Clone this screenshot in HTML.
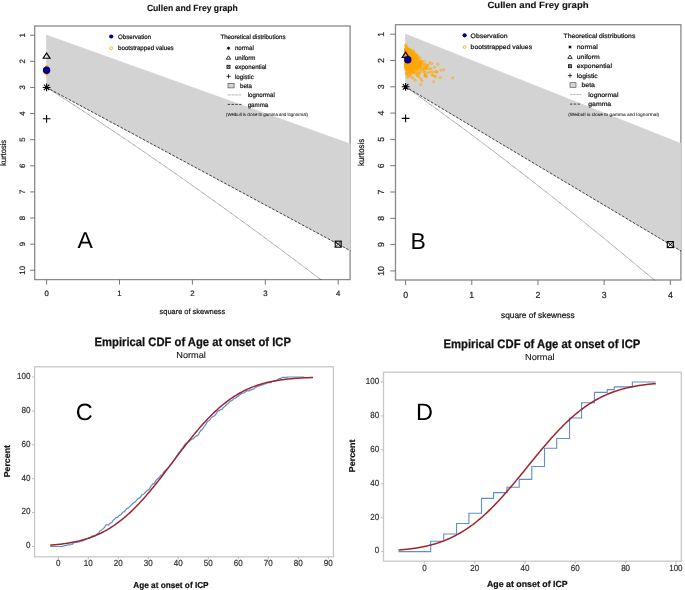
<!DOCTYPE html>
<html><head><meta charset="utf-8"><style>html,body{margin:0;padding:0;background:#fff}svg{display:block;will-change:transform}text{font-family:"Liberation Sans",sans-serif;text-rendering:geometricPrecision}</style></head>
<body><svg width="685" height="590" viewBox="0 0 685 590">
<rect width="685" height="590" fill="#fff"/>
<clipPath id="ca"><rect x="34.2" y="25.5" width="316.40000000000003" height="254.60000000000002"/></clipPath>
<rect x="34.7" y="26.0" width="315.40000000000003" height="253.60000000000002" fill="none" stroke="#8a8a8a" stroke-width="1.3"/>
<g clip-path="url(#ca)">
<polygon points="46.60,35.20 364.68,149.17 364.68,258.39 46.60,87.44" fill="#d3d3d3" stroke="#d3d3d3" stroke-width="0.8"/>
<line x1="46.60" y1="87.44" x2="364.68" y2="258.39" stroke="#000" stroke-width="0.7" stroke-dasharray="2.6,1.6"/>
<polyline points="46.60,87.44 47.92,88.28 49.24,89.12 50.57,89.97 51.89,90.82 53.23,91.67 54.56,92.53 55.90,93.39 57.25,94.25 58.59,95.12 59.94,95.99 61.30,96.86 62.65,97.73 64.01,98.61 65.38,99.49 66.75,100.38 68.12,101.27 69.49,102.16 70.87,103.05 72.26,103.95 73.64,104.85 75.03,105.76 76.42,106.67 77.82,107.58 79.22,108.49 80.62,109.41 82.03,110.33 83.44,111.26 84.86,112.19 86.28,113.12 87.70,114.05 89.12,114.99 90.55,115.93 91.99,116.88 93.42,117.83 94.86,118.78 96.31,119.74 97.75,120.69 99.21,121.66 100.66,122.62 102.12,123.59 103.58,124.56 105.05,125.54 106.52,126.52 107.99,127.50 109.47,128.49 110.95,129.48 112.43,130.47 113.92,131.47 115.41,132.47 116.91,133.48 118.41,134.48 119.91,135.50 121.41,136.51 122.92,137.53 124.44,138.55 125.96,139.58 127.48,140.61 129.00,141.64 130.53,142.68 132.06,143.72 133.60,144.76 135.14,145.81 136.68,146.86 138.23,147.91 139.78,148.97 141.34,150.03 142.90,151.10 144.46,152.17 146.02,153.24 147.59,154.32 149.17,155.40 150.74,156.48 152.33,157.57 153.91,158.66 155.50,159.76 157.09,160.86 158.69,161.96 160.29,163.07 161.89,164.18 163.50,165.29 165.11,166.41 166.73,167.53 168.35,168.66 169.97,169.79 171.60,170.92 173.23,172.06 174.86,173.20 176.50,174.35 178.14,175.49 179.79,176.65 181.44,177.80 183.09,178.96 184.75,180.13 186.41,181.30 188.08,182.47 189.75,183.65 191.42,184.83 193.10,186.01 194.78,187.20 196.46,188.39 198.15,189.59 199.84,190.78 201.54,191.99 203.24,193.20 204.94,194.41 206.65,195.62 208.36,196.84 210.08,198.07 211.80,199.30 213.52,200.53 215.25,201.76 216.98,203.00 218.71,204.25 220.45,205.50 222.20,206.75 223.94,208.00 225.70,209.27 227.45,210.53 229.21,211.80 230.97,213.07 232.74,214.35 234.51,215.63 236.28,216.91 238.06,218.20 239.84,219.50 241.63,220.80 243.42,222.10 245.22,223.40 247.01,224.71 248.82,226.03 250.62,227.35 252.43,228.67 254.25,230.00 256.07,231.33 257.89,232.67 259.72,234.01 261.55,235.35 263.38,236.70 265.22,238.05 267.06,239.41 268.91,240.77 270.76,242.14 272.61,243.51 274.47,244.88 276.33,246.26 278.20,247.64 280.07,249.03 281.94,250.42 283.82,251.82 285.71,253.22 287.59,254.63 289.48,256.04 291.38,257.45 293.28,258.87 295.18,260.29 297.09,261.72 299.00,263.15 300.91,264.59 302.83,266.03 304.76,267.48 306.68,268.93 308.62,270.38 310.55,271.84 312.49,273.30 314.44,274.77 316.38,276.24 318.34,277.72 320.29,279.20 322.25,280.69 324.22,282.18 326.18,283.67 328.16,285.17 330.13,286.68 332.12,288.19 334.10,289.70 336.09,291.22 338.08,292.74 340.08,294.27 342.08,295.80 344.09,297.34 346.10,298.88 348.11,300.43 350.13,301.98 352.15,303.54 354.18,305.10 356.21,306.66 358.25,308.23 360.29,309.81 362.33,311.39 364.38,312.97 366.43,314.56 368.48,316.16 370.54,317.76 372.61,319.36 374.68,320.97 376.75,322.58 378.83,324.20 380.91,325.82 382.99,327.45 385.08,329.08 387.18,330.72 389.28,332.36 391.38,334.01 393.48,335.66 395.60,337.32 397.71,338.98 399.83,340.65 401.95,342.32 404.08,344.00 406.21,345.68 408.35,347.37 410.49,349.06 412.64,350.76 414.78,352.46 416.94,354.17 419.10,355.88 421.26,357.60 423.42,359.32 425.59,361.04 427.77,362.78 429.95,364.51 432.13,366.26 434.32,368.00 436.51,369.76 438.71,371.51 440.91,373.28 443.12,375.05 445.32,376.82 447.54,378.60 449.76,380.38 451.98,382.17 454.21,383.96 456.44,385.76 458.67,387.57 460.91,389.37 463.16,391.19 465.40,393.01 467.66,394.83 469.92,396.66 472.18,398.50 474.44,400.34 476.71,402.19 478.99,404.04 481.27,405.89 483.55,407.76 485.84,409.62 488.13,411.50 490.43,413.37 492.73,415.26 495.03,417.15 497.34,419.04 499.66,420.94 501.98,422.85 504.30,424.76 506.63,426.67 508.96,428.59 511.30,430.52 513.64,432.45 515.98,434.39 518.33,436.33 520.69,438.28 523.04,440.23 525.41,442.19 527.78,444.16 530.15,446.13 532.52,448.10 534.90,450.09 537.29,452.07 539.68,454.06 542.07,456.06 544.47,458.07 546.88,460.08 549.28,462.09 551.70,464.11 554.11,466.14 556.53,468.17 558.96,470.21 561.39,472.25 563.82,474.30 566.26,476.35 568.71,478.41 571.16,480.48 573.61,482.55 576.07,484.63 578.53,486.71 580.99,488.80 583.46,490.89 585.94,492.99 588.42,495.10 590.90,497.21 593.39,499.33 595.89,501.45 598.39,503.58 600.89,505.71 603.40,507.86 605.91,510.00 608.42,512.15 610.94,514.31 613.47,516.48" fill="none" stroke="#000" stroke-width="0.6" stroke-dasharray="0.9,0.6" opacity="0.85"/>
<circle cx="46.95" cy="72.90" r="1.05" fill="none" stroke="#ffa500" stroke-width="0.75"/>
<circle cx="47.18" cy="68.46" r="1.05" fill="none" stroke="#ffa500" stroke-width="0.75"/>
<circle cx="46.71" cy="70.57" r="1.05" fill="none" stroke="#ffa500" stroke-width="0.75"/>
<circle cx="46.78" cy="69.76" r="1.05" fill="none" stroke="#ffa500" stroke-width="0.75"/>
<circle cx="47.10" cy="68.68" r="1.05" fill="none" stroke="#ffa500" stroke-width="0.75"/>
<circle cx="46.65" cy="68.73" r="1.05" fill="none" stroke="#ffa500" stroke-width="0.75"/>
<circle cx="46.84" cy="70.18" r="1.05" fill="none" stroke="#ffa500" stroke-width="0.75"/>
<circle cx="46.94" cy="70.82" r="1.05" fill="none" stroke="#ffa500" stroke-width="0.75"/>
<circle cx="46.93" cy="69.44" r="1.05" fill="none" stroke="#ffa500" stroke-width="0.75"/>
<circle cx="47.32" cy="70.28" r="1.05" fill="none" stroke="#ffa500" stroke-width="0.75"/>
<circle cx="46.72" cy="71.24" r="1.05" fill="none" stroke="#ffa500" stroke-width="0.75"/>
<circle cx="47.14" cy="70.63" r="1.05" fill="none" stroke="#ffa500" stroke-width="0.75"/>
<circle cx="47.02" cy="71.45" r="1.05" fill="none" stroke="#ffa500" stroke-width="0.75"/>
<circle cx="47.30" cy="70.86" r="1.05" fill="none" stroke="#ffa500" stroke-width="0.75"/>
<circle cx="46.69" cy="70.90" r="1.05" fill="none" stroke="#ffa500" stroke-width="0.75"/>
<circle cx="47.36" cy="72.82" r="1.05" fill="none" stroke="#ffa500" stroke-width="0.75"/>
<circle cx="46.64" cy="71.10" r="1.05" fill="none" stroke="#ffa500" stroke-width="0.75"/>
<circle cx="47.11" cy="70.39" r="1.05" fill="none" stroke="#ffa500" stroke-width="0.75"/>
<circle cx="46.88" cy="71.22" r="1.05" fill="none" stroke="#ffa500" stroke-width="0.75"/>
<circle cx="46.81" cy="68.88" r="1.05" fill="none" stroke="#ffa500" stroke-width="0.75"/>
<circle cx="46.91" cy="69.72" r="1.05" fill="none" stroke="#ffa500" stroke-width="0.75"/>
<circle cx="46.84" cy="71.34" r="1.05" fill="none" stroke="#ffa500" stroke-width="0.75"/>
<circle cx="46.63" cy="71.11" r="1.05" fill="none" stroke="#ffa500" stroke-width="0.75"/>
<circle cx="46.86" cy="72.43" r="1.05" fill="none" stroke="#ffa500" stroke-width="0.75"/>
<circle cx="46.78" cy="70.22" r="1.05" fill="none" stroke="#ffa500" stroke-width="0.75"/>
<circle cx="46.96" cy="68.10" r="1.05" fill="none" stroke="#ffa500" stroke-width="0.75"/>
<circle cx="47.32" cy="73.00" r="1.05" fill="none" stroke="#ffa500" stroke-width="0.75"/>
<circle cx="46.71" cy="71.77" r="1.05" fill="none" stroke="#ffa500" stroke-width="0.75"/>
<circle cx="47.03" cy="68.68" r="1.05" fill="none" stroke="#ffa500" stroke-width="0.75"/>
<circle cx="46.68" cy="72.18" r="1.05" fill="none" stroke="#ffa500" stroke-width="0.75"/>
<circle cx="47.16" cy="70.25" r="1.05" fill="none" stroke="#ffa500" stroke-width="0.75"/>
<circle cx="46.61" cy="67.59" r="1.05" fill="none" stroke="#ffa500" stroke-width="0.75"/>
<circle cx="46.62" cy="69.60" r="1.05" fill="none" stroke="#ffa500" stroke-width="0.75"/>
<circle cx="46.73" cy="69.47" r="1.05" fill="none" stroke="#ffa500" stroke-width="0.75"/>
<circle cx="47.06" cy="72.49" r="1.05" fill="none" stroke="#ffa500" stroke-width="0.75"/>
<circle cx="46.77" cy="69.06" r="1.05" fill="none" stroke="#ffa500" stroke-width="0.75"/>
<circle cx="47.08" cy="69.84" r="1.05" fill="none" stroke="#ffa500" stroke-width="0.75"/>
<circle cx="47.19" cy="69.80" r="1.05" fill="none" stroke="#ffa500" stroke-width="0.75"/>
<circle cx="46.70" cy="69.66" r="1.05" fill="none" stroke="#ffa500" stroke-width="0.75"/>
<circle cx="47.09" cy="68.89" r="1.05" fill="none" stroke="#ffa500" stroke-width="0.75"/>
<circle cx="47.11" cy="70.52" r="1.05" fill="none" stroke="#ffa500" stroke-width="0.75"/>
<circle cx="46.91" cy="71.75" r="1.05" fill="none" stroke="#ffa500" stroke-width="0.75"/>
<circle cx="47.47" cy="71.10" r="1.05" fill="none" stroke="#ffa500" stroke-width="0.75"/>
<circle cx="46.72" cy="68.87" r="1.05" fill="none" stroke="#ffa500" stroke-width="0.75"/>
<circle cx="47.08" cy="68.55" r="1.05" fill="none" stroke="#ffa500" stroke-width="0.75"/>
<circle cx="46.61" cy="70.37" r="1.05" fill="none" stroke="#ffa500" stroke-width="0.75"/>
<circle cx="46.62" cy="69.19" r="1.05" fill="none" stroke="#ffa500" stroke-width="0.75"/>
<circle cx="47.47" cy="69.30" r="1.05" fill="none" stroke="#ffa500" stroke-width="0.75"/>
<circle cx="46.70" cy="67.79" r="1.05" fill="none" stroke="#ffa500" stroke-width="0.75"/>
<circle cx="46.71" cy="73.00" r="1.05" fill="none" stroke="#ffa500" stroke-width="0.75"/>
<circle cx="47.02" cy="71.52" r="1.05" fill="none" stroke="#ffa500" stroke-width="0.75"/>
<circle cx="47.12" cy="68.80" r="1.05" fill="none" stroke="#ffa500" stroke-width="0.75"/>
<circle cx="46.92" cy="71.51" r="1.05" fill="none" stroke="#ffa500" stroke-width="0.75"/>
<circle cx="47.08" cy="72.13" r="1.05" fill="none" stroke="#ffa500" stroke-width="0.75"/>
<circle cx="46.74" cy="66.77" r="1.05" fill="none" stroke="#ffa500" stroke-width="0.75"/>
<circle cx="46.97" cy="69.41" r="1.05" fill="none" stroke="#ffa500" stroke-width="0.75"/>
<circle cx="47.23" cy="69.64" r="1.05" fill="none" stroke="#ffa500" stroke-width="0.75"/>
<circle cx="46.85" cy="71.13" r="1.05" fill="none" stroke="#ffa500" stroke-width="0.75"/>
<circle cx="47.66" cy="70.03" r="1.05" fill="none" stroke="#ffa500" stroke-width="0.75"/>
<circle cx="46.88" cy="69.87" r="1.05" fill="none" stroke="#ffa500" stroke-width="0.75"/>
<circle cx="46.97" cy="70.12" r="1.05" fill="none" stroke="#ffa500" stroke-width="0.75"/>
<circle cx="46.97" cy="72.86" r="1.05" fill="none" stroke="#ffa500" stroke-width="0.75"/>
<circle cx="46.87" cy="73.30" r="1.05" fill="none" stroke="#ffa500" stroke-width="0.75"/>
<circle cx="46.63" cy="69.45" r="1.05" fill="none" stroke="#ffa500" stroke-width="0.75"/>
<circle cx="47.19" cy="68.87" r="1.05" fill="none" stroke="#ffa500" stroke-width="0.75"/>
<circle cx="46.77" cy="74.07" r="1.05" fill="none" stroke="#ffa500" stroke-width="0.75"/>
<circle cx="46.68" cy="68.79" r="1.05" fill="none" stroke="#ffa500" stroke-width="0.75"/>
<circle cx="46.61" cy="69.38" r="1.05" fill="none" stroke="#ffa500" stroke-width="0.75"/>
<circle cx="46.87" cy="70.25" r="1.05" fill="none" stroke="#ffa500" stroke-width="0.75"/>
<circle cx="46.76" cy="70.90" r="1.05" fill="none" stroke="#ffa500" stroke-width="0.75"/>
<circle cx="46.67" cy="71.68" r="1.05" fill="none" stroke="#ffa500" stroke-width="0.75"/>
<circle cx="46.71" cy="70.76" r="1.05" fill="none" stroke="#ffa500" stroke-width="0.75"/>
<circle cx="46.65" cy="68.95" r="1.05" fill="none" stroke="#ffa500" stroke-width="0.75"/>
<circle cx="46.98" cy="70.93" r="1.05" fill="none" stroke="#ffa500" stroke-width="0.75"/>
<circle cx="46.99" cy="70.56" r="1.05" fill="none" stroke="#ffa500" stroke-width="0.75"/>
<circle cx="47.17" cy="72.90" r="1.05" fill="none" stroke="#ffa500" stroke-width="0.75"/>
<circle cx="47.13" cy="70.18" r="1.05" fill="none" stroke="#ffa500" stroke-width="0.75"/>
<circle cx="47.16" cy="68.28" r="1.05" fill="none" stroke="#ffa500" stroke-width="0.75"/>
<circle cx="47.02" cy="68.70" r="1.05" fill="none" stroke="#ffa500" stroke-width="0.75"/>
<circle cx="46.76" cy="72.28" r="1.05" fill="none" stroke="#ffa500" stroke-width="0.75"/>
<circle cx="47.02" cy="69.42" r="1.05" fill="none" stroke="#ffa500" stroke-width="0.75"/>
<circle cx="47.10" cy="67.18" r="1.05" fill="none" stroke="#ffa500" stroke-width="0.75"/>
<circle cx="46.78" cy="69.37" r="1.05" fill="none" stroke="#ffa500" stroke-width="0.75"/>
<circle cx="47.06" cy="70.20" r="1.05" fill="none" stroke="#ffa500" stroke-width="0.75"/>
<circle cx="47.16" cy="71.91" r="1.05" fill="none" stroke="#ffa500" stroke-width="0.75"/>
<circle cx="46.87" cy="68.74" r="1.05" fill="none" stroke="#ffa500" stroke-width="0.75"/>
<circle cx="47.12" cy="71.16" r="1.05" fill="none" stroke="#ffa500" stroke-width="0.75"/>
<circle cx="46.74" cy="71.34" r="1.05" fill="none" stroke="#ffa500" stroke-width="0.75"/>
<circle cx="46.60" cy="69.20" r="1.05" fill="none" stroke="#ffa500" stroke-width="0.75"/>
<circle cx="46.79" cy="69.93" r="1.05" fill="none" stroke="#ffa500" stroke-width="0.75"/>
<circle cx="46.62" cy="72.74" r="1.05" fill="none" stroke="#ffa500" stroke-width="0.75"/>
<circle cx="47.19" cy="72.67" r="1.05" fill="none" stroke="#ffa500" stroke-width="0.75"/>
<circle cx="46.83" cy="71.43" r="1.05" fill="none" stroke="#ffa500" stroke-width="0.75"/>
<circle cx="47.15" cy="70.68" r="1.05" fill="none" stroke="#ffa500" stroke-width="0.75"/>
<circle cx="47.40" cy="71.84" r="1.05" fill="none" stroke="#ffa500" stroke-width="0.75"/>
<circle cx="46.69" cy="70.00" r="1.05" fill="none" stroke="#ffa500" stroke-width="0.75"/>
<circle cx="46.75" cy="70.06" r="1.05" fill="none" stroke="#ffa500" stroke-width="0.75"/>
<circle cx="46.72" cy="68.96" r="1.05" fill="none" stroke="#ffa500" stroke-width="0.75"/>
<circle cx="46.80" cy="70.21" r="1.05" fill="none" stroke="#ffa500" stroke-width="0.75"/>
<circle cx="46.81" cy="70.08" r="1.05" fill="none" stroke="#ffa500" stroke-width="0.75"/>
<circle cx="46.92" cy="74.19" r="1.05" fill="none" stroke="#ffa500" stroke-width="0.75"/>
<circle cx="46.83" cy="69.92" r="1.05" fill="none" stroke="#ffa500" stroke-width="0.75"/>
<circle cx="46.67" cy="72.03" r="1.05" fill="none" stroke="#ffa500" stroke-width="0.75"/>
<circle cx="46.77" cy="72.10" r="1.05" fill="none" stroke="#ffa500" stroke-width="0.75"/>
<circle cx="46.64" cy="69.93" r="1.05" fill="none" stroke="#ffa500" stroke-width="0.75"/>
<circle cx="47.43" cy="71.88" r="1.05" fill="none" stroke="#ffa500" stroke-width="0.75"/>
<circle cx="46.81" cy="67.07" r="1.05" fill="none" stroke="#ffa500" stroke-width="0.75"/>
<circle cx="47.29" cy="70.34" r="1.05" fill="none" stroke="#ffa500" stroke-width="0.75"/>
<circle cx="47.36" cy="71.43" r="1.05" fill="none" stroke="#ffa500" stroke-width="0.75"/>
<circle cx="46.75" cy="66.76" r="1.05" fill="none" stroke="#ffa500" stroke-width="0.75"/>
<circle cx="47.01" cy="68.54" r="1.05" fill="none" stroke="#ffa500" stroke-width="0.75"/>
<circle cx="47.00" cy="71.72" r="1.05" fill="none" stroke="#ffa500" stroke-width="0.75"/>
<circle cx="46.61" cy="69.83" r="1.05" fill="none" stroke="#ffa500" stroke-width="0.75"/>
<circle cx="46.87" cy="68.62" r="1.05" fill="none" stroke="#ffa500" stroke-width="0.75"/>
<circle cx="46.88" cy="69.66" r="1.05" fill="none" stroke="#ffa500" stroke-width="0.75"/>
<circle cx="47.03" cy="69.42" r="1.05" fill="none" stroke="#ffa500" stroke-width="0.75"/>
<circle cx="46.62" cy="71.24" r="1.05" fill="none" stroke="#ffa500" stroke-width="0.75"/>
<circle cx="47.07" cy="70.85" r="1.05" fill="none" stroke="#ffa500" stroke-width="0.75"/>
<circle cx="46.74" cy="69.80" r="1.05" fill="none" stroke="#ffa500" stroke-width="0.75"/>
<circle cx="46.78" cy="69.24" r="1.05" fill="none" stroke="#ffa500" stroke-width="0.75"/>
</g>
<polygon points="43.20,58.24 50.00,58.24 46.60,53.04" fill="none" stroke="#000" stroke-width="1.2"/>
<circle cx="46.60" cy="70.20" r="3.7" fill="#00008b"/>
<path d="M42.70,87.44L50.50,87.44M43.84,84.68L49.36,90.20M46.60,83.54L46.60,91.34M49.36,84.68L43.84,90.20" stroke="#000" stroke-width="1.1" fill="none"/>
<circle cx="46.60" cy="87.44" r="1.3" fill="#000"/>
<path d="M42.70,118.78H50.50M46.60,114.88V122.68" stroke="#000" stroke-width="1.05"/>
<rect x="335.20" y="241.16" width="6.0" height="6.0" fill="none" stroke="#000" stroke-width="1.1"/><path d="M335.20,241.16L341.20,247.16M341.20,241.16L335.20,247.16" stroke="#000" stroke-width="0.8250000000000001"/>
<line x1="30.1" y1="35.20" x2="34.7" y2="35.20" stroke="#6a6a6a" stroke-width="0.9"/>
<text x="21.90" y="35.20" dy="0.35em" transform="rotate(-90 21.90 35.20)" text-anchor="middle" font-size="7.8" textLength="4.34" lengthAdjust="spacingAndGlyphs" fill="#222" stroke="#222" stroke-width="0.2">1</text>
<line x1="30.1" y1="61.32" x2="34.7" y2="61.32" stroke="#6a6a6a" stroke-width="0.9"/>
<text x="21.90" y="61.32" dy="0.35em" transform="rotate(-90 21.90 61.32)" text-anchor="middle" font-size="7.8" textLength="4.34" lengthAdjust="spacingAndGlyphs" fill="#222" stroke="#222" stroke-width="0.2">2</text>
<line x1="30.1" y1="87.44" x2="34.7" y2="87.44" stroke="#6a6a6a" stroke-width="0.9"/>
<text x="21.90" y="87.44" dy="0.35em" transform="rotate(-90 21.90 87.44)" text-anchor="middle" font-size="7.8" textLength="4.34" lengthAdjust="spacingAndGlyphs" fill="#222" stroke="#222" stroke-width="0.2">3</text>
<line x1="30.1" y1="113.56" x2="34.7" y2="113.56" stroke="#6a6a6a" stroke-width="0.9"/>
<text x="21.90" y="113.56" dy="0.35em" transform="rotate(-90 21.90 113.56)" text-anchor="middle" font-size="7.8" textLength="4.34" lengthAdjust="spacingAndGlyphs" fill="#222" stroke="#222" stroke-width="0.2">4</text>
<line x1="30.1" y1="139.68" x2="34.7" y2="139.68" stroke="#6a6a6a" stroke-width="0.9"/>
<text x="21.90" y="139.68" dy="0.35em" transform="rotate(-90 21.90 139.68)" text-anchor="middle" font-size="7.8" textLength="4.34" lengthAdjust="spacingAndGlyphs" fill="#222" stroke="#222" stroke-width="0.2">5</text>
<line x1="30.1" y1="165.80" x2="34.7" y2="165.80" stroke="#6a6a6a" stroke-width="0.9"/>
<text x="21.90" y="165.80" dy="0.35em" transform="rotate(-90 21.90 165.80)" text-anchor="middle" font-size="7.8" textLength="4.34" lengthAdjust="spacingAndGlyphs" fill="#222" stroke="#222" stroke-width="0.2">6</text>
<line x1="30.1" y1="191.92" x2="34.7" y2="191.92" stroke="#6a6a6a" stroke-width="0.9"/>
<text x="21.90" y="191.92" dy="0.35em" transform="rotate(-90 21.90 191.92)" text-anchor="middle" font-size="7.8" textLength="4.34" lengthAdjust="spacingAndGlyphs" fill="#222" stroke="#222" stroke-width="0.2">7</text>
<line x1="30.1" y1="218.04" x2="34.7" y2="218.04" stroke="#6a6a6a" stroke-width="0.9"/>
<text x="21.90" y="218.04" dy="0.35em" transform="rotate(-90 21.90 218.04)" text-anchor="middle" font-size="7.8" textLength="4.34" lengthAdjust="spacingAndGlyphs" fill="#222" stroke="#222" stroke-width="0.2">8</text>
<line x1="30.1" y1="244.16" x2="34.7" y2="244.16" stroke="#6a6a6a" stroke-width="0.9"/>
<text x="21.90" y="244.16" dy="0.35em" transform="rotate(-90 21.90 244.16)" text-anchor="middle" font-size="7.8" textLength="4.34" lengthAdjust="spacingAndGlyphs" fill="#222" stroke="#222" stroke-width="0.2">9</text>
<line x1="30.1" y1="270.28" x2="34.7" y2="270.28" stroke="#6a6a6a" stroke-width="0.9"/>
<text x="21.90" y="270.28" dy="0.35em" transform="rotate(-90 21.90 270.28)" text-anchor="middle" font-size="7.8" textLength="8.68" lengthAdjust="spacingAndGlyphs" fill="#222" stroke="#222" stroke-width="0.2">10</text>
<line x1="46.60" y1="279.6" x2="46.60" y2="284.6" stroke="#6a6a6a" stroke-width="0.9"/>
<text x="46.60" y="293.70" dy="0.35em" text-anchor="middle" font-size="7.8" textLength="4.34" lengthAdjust="spacingAndGlyphs" fill="#222" stroke="#222" stroke-width="0.2">0</text>
<line x1="119.50" y1="279.6" x2="119.50" y2="284.6" stroke="#6a6a6a" stroke-width="0.9"/>
<text x="119.50" y="293.70" dy="0.35em" text-anchor="middle" font-size="7.8" textLength="4.34" lengthAdjust="spacingAndGlyphs" fill="#222" stroke="#222" stroke-width="0.2">1</text>
<line x1="192.40" y1="279.6" x2="192.40" y2="284.6" stroke="#6a6a6a" stroke-width="0.9"/>
<text x="192.40" y="293.70" dy="0.35em" text-anchor="middle" font-size="7.8" textLength="4.34" lengthAdjust="spacingAndGlyphs" fill="#222" stroke="#222" stroke-width="0.2">2</text>
<line x1="265.30" y1="279.6" x2="265.30" y2="284.6" stroke="#6a6a6a" stroke-width="0.9"/>
<text x="265.30" y="293.70" dy="0.35em" text-anchor="middle" font-size="7.8" textLength="4.34" lengthAdjust="spacingAndGlyphs" fill="#222" stroke="#222" stroke-width="0.2">3</text>
<line x1="338.20" y1="279.6" x2="338.20" y2="284.6" stroke="#6a6a6a" stroke-width="0.9"/>
<text x="338.20" y="293.70" dy="0.35em" text-anchor="middle" font-size="7.8" textLength="4.34" lengthAdjust="spacingAndGlyphs" fill="#222" stroke="#222" stroke-width="0.2">4</text>
<text x="159.60" y="311.20" dy="0.35em" font-size="7.6" textLength="65.60" lengthAdjust="spacingAndGlyphs" fill="#111" stroke="#111" stroke-width="0.2">square of skewness</text>
<text x="3.50" y="152.90" dy="0.35em" transform="rotate(-90 3.50 152.90)" text-anchor="middle" font-size="8.0" textLength="26.00" lengthAdjust="spacingAndGlyphs" fill="#111" stroke="#111" stroke-width="0.2">kurtosis</text>
<text x="146.90" y="10.70" font-size="9.0" font-weight="bold" textLength="90.90" lengthAdjust="spacingAndGlyphs" fill="#111" stroke="#111" stroke-width="0.1">Cullen and Frey graph</text>
<circle cx="111.2" cy="36.5" r="2.1" fill="#00008b"/>
<circle cx="111.2" cy="48.2" r="1.4" fill="none" stroke="#ffa500" stroke-width="0.8"/>
<text x="118.00" y="36.50" dy="0.35em" font-size="6.3" textLength="33.10" lengthAdjust="spacingAndGlyphs" fill="#111" stroke="#111" stroke-width="0.2">Observation</text>
<text x="118.00" y="48.20" dy="0.35em" font-size="6.3" textLength="55.70" lengthAdjust="spacingAndGlyphs" fill="#111" stroke="#111" stroke-width="0.2">bootstrapped values</text>
<text x="220.40" y="36.50" dy="0.35em" font-size="6.3" textLength="65.10" lengthAdjust="spacingAndGlyphs" fill="#111" stroke="#111" stroke-width="0.2">Theoretical distributions</text>
<path d="M226.80,48.20L230.20,48.20M227.30,47.00L229.70,49.40M228.50,46.50L228.50,49.90M229.70,47.00L227.30,49.40" stroke="#000" stroke-width="0.7" fill="none"/>
<circle cx="228.5" cy="48.2" r="1.0" fill="#000"/>
<polygon points="226.30,59.19 230.70,59.19 228.50,55.82" fill="none" stroke="#000" stroke-width="0.8"/>
<rect x="227.00" y="65.30" width="3.0" height="3.0" fill="none" stroke="#000" stroke-width="0.8"/><path d="M227.00,65.30L230.00,68.30M230.00,65.30L227.00,68.30" stroke="#000" stroke-width="0.6000000000000001"/>
<path d="M226.40,76.30H230.60M228.50,74.20V78.40" stroke="#000" stroke-width="0.75"/>
<text x="234.90" y="48.20" dy="0.35em" font-size="6.3" textLength="18.87" lengthAdjust="spacingAndGlyphs" fill="#111" stroke="#111" stroke-width="0.2">normal</text>
<text x="234.90" y="57.50" dy="0.35em" font-size="6.3" textLength="20.59" lengthAdjust="spacingAndGlyphs" fill="#111" stroke="#111" stroke-width="0.2">uniform</text>
<text x="234.90" y="66.80" dy="0.35em" font-size="6.3" textLength="31.58" lengthAdjust="spacingAndGlyphs" fill="#111" stroke="#111" stroke-width="0.2">exponential</text>
<text x="234.90" y="76.30" dy="0.35em" font-size="6.3" textLength="18.87" lengthAdjust="spacingAndGlyphs" fill="#111" stroke="#111" stroke-width="0.2">logistic</text>
<rect x="228" y="83.30" width="6.10" height="4.6" fill="#d3d3d3" stroke="#444" stroke-width="0.6"/>
<text x="240.00" y="85.60" dy="0.35em" font-size="6.3" textLength="12.02" lengthAdjust="spacingAndGlyphs" fill="#111" stroke="#111" stroke-width="0.2">beta</text>
<line x1="227.7" y1="94.9" x2="241.6" y2="94.9" stroke="#000" stroke-width="0.6" stroke-dasharray="0.8,0.6" opacity="0.7"/>
<line x1="227.7" y1="104.4" x2="241.6" y2="104.4" stroke="#000" stroke-width="0.7" stroke-dasharray="2.4,1.4"/>
<text x="247.70" y="94.90" dy="0.35em" font-size="6.3" textLength="27.11" lengthAdjust="spacingAndGlyphs" fill="#111" stroke="#111" stroke-width="0.2">lognormal</text>
<text x="247.70" y="104.40" dy="0.35em" font-size="6.3" textLength="20.59" lengthAdjust="spacingAndGlyphs" fill="#111" stroke="#111" stroke-width="0.2">gamma</text>
<text x="226.00" y="114.90" dy="0.35em" font-size="4.5" textLength="82.00" lengthAdjust="spacingAndGlyphs" fill="#111" stroke="#111" stroke-width="0.05">(Weibull is close to gamma and lognormal)</text>
<text x="77.50" y="248.30" font-size="23" fill="#000">A</text>
<clipPath id="cb"><rect x="395.0" y="24.2" width="286.4" height="256.3"/></clipPath>
<rect x="395.5" y="24.7" width="285.4" height="255.3" fill="none" stroke="#8a8a8a" stroke-width="1.3"/>
<g clip-path="url(#cb)">
<polygon points="405.60,34.20 694.14,148.86 694.14,258.80 405.60,86.80" fill="#d3d3d3" stroke="#d3d3d3" stroke-width="0.8"/>
<line x1="405.60" y1="86.80" x2="694.14" y2="258.80" stroke="#000" stroke-width="0.7" stroke-dasharray="2.6,1.6"/>
<polyline points="405.60,86.80 406.80,87.65 408.00,88.50 409.20,89.35 410.41,90.20 411.62,91.06 412.83,91.92 414.05,92.79 415.26,93.66 416.49,94.53 417.71,95.40 418.94,96.28 420.17,97.16 421.41,98.05 422.65,98.94 423.89,99.83 425.14,100.72 426.38,101.62 427.64,102.52 428.89,103.43 430.15,104.33 431.41,105.25 432.67,106.16 433.94,107.08 435.21,108.00 436.49,108.92 437.77,109.85 439.05,110.78 440.33,111.72 441.62,112.66 442.91,113.60 444.20,114.54 445.50,115.49 446.80,116.44 448.11,117.40 449.41,118.36 450.73,119.32 452.04,120.28 453.36,121.25 454.68,122.23 456.00,123.20 457.33,124.18 458.66,125.16 459.99,126.15 461.33,127.14 462.67,128.13 464.02,129.13 465.36,130.13 466.71,131.14 468.07,132.14 469.43,133.15 470.79,134.17 472.15,135.19 473.52,136.21 474.89,137.24 476.26,138.26 477.64,139.30 479.02,140.33 480.41,141.37 481.79,142.42 483.19,143.46 484.58,144.52 485.98,145.57 487.38,146.63 488.78,147.69 490.19,148.76 491.60,149.83 493.02,150.90 494.44,151.98 495.86,153.06 497.28,154.14 498.71,155.23 500.14,156.32 501.58,157.42 503.02,158.52 504.46,159.62 505.91,160.73 507.36,161.84 508.81,162.95 510.27,164.07 511.73,165.19 513.19,166.32 514.65,167.45 516.12,168.58 517.60,169.72 519.07,170.86 520.56,172.00 522.04,173.15 523.53,174.30 525.02,175.46 526.51,176.62 528.01,177.79 529.51,178.96 531.02,180.13 532.52,181.30 534.04,182.48 535.55,183.67 537.07,184.86 538.59,186.05 540.12,187.24 541.65,188.44 543.18,189.65 544.72,190.86 546.26,192.07 547.80,193.29 549.35,194.51 550.90,195.73 552.45,196.96 554.01,198.19 555.57,199.43 557.13,200.67 558.70,201.91 560.27,203.16 561.85,204.41 563.43,205.67 565.01,206.93 566.60,208.20 568.19,209.46 569.78,210.74 571.38,212.02 572.98,213.30 574.58,214.58 576.19,215.87 577.80,217.17 579.41,218.47 581.03,219.77 582.65,221.07 584.28,222.39 585.91,223.70 587.54,225.02 589.18,226.34 590.82,227.67 592.46,229.00 594.11,230.34 595.76,231.68 597.41,233.03 599.07,234.38 600.73,235.73 602.40,237.09 604.07,238.45 605.74,239.82 607.41,241.19 609.09,242.56 610.78,243.94 612.47,245.33 614.16,246.72 615.85,248.11 617.55,249.51 619.25,250.91 620.96,252.31 622.67,253.72 624.38,255.14 626.09,256.56 627.81,257.98 629.54,259.41 631.27,260.84 633.00,262.28 634.73,263.72 636.47,265.17 638.21,266.62 639.96,268.08 641.71,269.54 643.46,271.00 645.22,272.47 646.98,273.94 648.75,275.42 650.51,276.90 652.29,278.39 654.06,279.88 655.84,281.38 657.63,282.88 659.41,284.39 661.20,285.90 663.00,287.41 664.80,288.93 666.60,290.46 668.40,291.99 670.21,293.52 672.03,295.06 673.84,296.60 675.67,298.15 677.49,299.70 679.32,301.26 681.15,302.82 682.99,304.39 684.83,305.96 686.67,307.53 688.52,309.12 690.37,310.70 692.22,312.29 694.08,313.89 695.95,315.49 697.81,317.09 699.68,318.70 701.56,320.32 703.43,321.94 705.32,323.56 707.20,325.19 709.09,326.83 710.98,328.47 712.88,330.11 714.78,331.76 716.69,333.41 718.60,335.07 720.51,336.73 722.42,338.40 724.34,340.08 726.27,341.76 728.20,343.44 730.13,345.13 732.06,346.82 734.00,348.52 735.95,350.22 737.89,351.93 739.84,353.65 741.80,355.36 743.76,357.09 745.72,358.82 747.69,360.55 749.66,362.29 751.63,364.03 753.61,365.78 755.59,367.54 757.58,369.30 759.57,371.06 761.56,372.83 763.56,374.61 765.56,376.39 767.57,378.17 769.58,379.96 771.59,381.76 773.61,383.56 775.63,385.37 777.66,387.18 779.69,388.99 781.72,390.82 783.76,392.64 785.80,394.47 787.84,396.31 789.89,398.16 791.95,400.00 794.00,401.86 796.06,403.72 798.13,405.58 800.20,407.45 802.27,409.32 804.35,411.20 806.43,413.09 808.51,414.98 810.60,416.88 812.70,418.78 814.79,420.69 816.89,422.60 819.00,424.52 821.11,426.44 823.22,428.37 825.34,430.30 827.46,432.24 829.58,434.19 831.71,436.14 833.85,438.10 835.98,440.06 838.13,442.02 840.27,444.00 842.42,445.98 844.57,447.96 846.73,449.95 848.89,451.94 851.06,453.95 853.23,455.95 855.40,457.96 857.58,459.98 859.76,462.00 861.95,464.03 864.14,466.07 866.33,468.11 868.53,470.15 870.73,472.20 872.94,474.26 875.15,476.32 877.36,478.39 879.58,480.47 881.80,482.55 884.03,484.63 886.26,486.72 888.49,488.82 890.73,490.92 892.98,493.03 895.22,495.15 897.47,497.27 899.73,499.39 901.99,501.53 904.25,503.66 906.52,505.81 908.79,507.96 911.07,510.11 913.35,512.27 915.63,514.44 917.92,516.61 920.22,518.79" fill="none" stroke="#000" stroke-width="0.6" stroke-dasharray="0.9,0.6" opacity="0.85"/>
<circle cx="406.73" cy="60.02" r="1.05" fill="none" stroke="#ffa500" stroke-width="0.75"/>
<circle cx="407.73" cy="59.76" r="1.05" fill="none" stroke="#ffa500" stroke-width="0.75"/>
<circle cx="414.25" cy="60.40" r="1.05" fill="none" stroke="#ffa500" stroke-width="0.75"/>
<circle cx="405.78" cy="55.88" r="1.05" fill="none" stroke="#ffa500" stroke-width="0.75"/>
<circle cx="405.60" cy="61.15" r="1.05" fill="none" stroke="#ffa500" stroke-width="0.75"/>
<circle cx="409.76" cy="68.55" r="1.05" fill="none" stroke="#ffa500" stroke-width="0.75"/>
<circle cx="406.42" cy="64.09" r="1.05" fill="none" stroke="#ffa500" stroke-width="0.75"/>
<circle cx="405.63" cy="57.89" r="1.05" fill="none" stroke="#ffa500" stroke-width="0.75"/>
<circle cx="405.74" cy="61.75" r="1.05" fill="none" stroke="#ffa500" stroke-width="0.75"/>
<circle cx="436.98" cy="71.70" r="1.05" fill="none" stroke="#ffa500" stroke-width="0.75"/>
<circle cx="408.42" cy="61.84" r="1.05" fill="none" stroke="#ffa500" stroke-width="0.75"/>
<circle cx="424.81" cy="65.56" r="1.05" fill="none" stroke="#ffa500" stroke-width="0.75"/>
<circle cx="407.07" cy="53.34" r="1.05" fill="none" stroke="#ffa500" stroke-width="0.75"/>
<circle cx="406.43" cy="59.65" r="1.05" fill="none" stroke="#ffa500" stroke-width="0.75"/>
<circle cx="412.59" cy="65.48" r="1.05" fill="none" stroke="#ffa500" stroke-width="0.75"/>
<circle cx="407.58" cy="63.40" r="1.05" fill="none" stroke="#ffa500" stroke-width="0.75"/>
<circle cx="417.36" cy="67.26" r="1.05" fill="none" stroke="#ffa500" stroke-width="0.75"/>
<circle cx="420.20" cy="64.81" r="1.05" fill="none" stroke="#ffa500" stroke-width="0.75"/>
<circle cx="416.02" cy="67.28" r="1.05" fill="none" stroke="#ffa500" stroke-width="0.75"/>
<circle cx="419.93" cy="65.91" r="1.05" fill="none" stroke="#ffa500" stroke-width="0.75"/>
<circle cx="405.60" cy="67.18" r="1.05" fill="none" stroke="#ffa500" stroke-width="0.75"/>
<circle cx="407.31" cy="58.62" r="1.05" fill="none" stroke="#ffa500" stroke-width="0.75"/>
<circle cx="411.22" cy="59.34" r="1.05" fill="none" stroke="#ffa500" stroke-width="0.75"/>
<circle cx="405.61" cy="66.12" r="1.05" fill="none" stroke="#ffa500" stroke-width="0.75"/>
<circle cx="405.93" cy="53.97" r="1.05" fill="none" stroke="#ffa500" stroke-width="0.75"/>
<circle cx="415.82" cy="73.78" r="1.05" fill="none" stroke="#ffa500" stroke-width="0.75"/>
<circle cx="412.90" cy="52.55" r="1.05" fill="none" stroke="#ffa500" stroke-width="0.75"/>
<circle cx="407.10" cy="62.69" r="1.05" fill="none" stroke="#ffa500" stroke-width="0.75"/>
<circle cx="408.63" cy="54.96" r="1.05" fill="none" stroke="#ffa500" stroke-width="0.75"/>
<circle cx="407.80" cy="52.74" r="1.05" fill="none" stroke="#ffa500" stroke-width="0.75"/>
<circle cx="405.69" cy="57.78" r="1.05" fill="none" stroke="#ffa500" stroke-width="0.75"/>
<circle cx="408.39" cy="56.19" r="1.05" fill="none" stroke="#ffa500" stroke-width="0.75"/>
<circle cx="409.88" cy="59.63" r="1.05" fill="none" stroke="#ffa500" stroke-width="0.75"/>
<circle cx="407.02" cy="70.00" r="1.05" fill="none" stroke="#ffa500" stroke-width="0.75"/>
<circle cx="406.20" cy="60.63" r="1.05" fill="none" stroke="#ffa500" stroke-width="0.75"/>
<circle cx="405.63" cy="55.58" r="1.05" fill="none" stroke="#ffa500" stroke-width="0.75"/>
<circle cx="406.49" cy="66.19" r="1.05" fill="none" stroke="#ffa500" stroke-width="0.75"/>
<circle cx="408.91" cy="58.00" r="1.05" fill="none" stroke="#ffa500" stroke-width="0.75"/>
<circle cx="408.25" cy="57.00" r="1.05" fill="none" stroke="#ffa500" stroke-width="0.75"/>
<circle cx="407.29" cy="61.04" r="1.05" fill="none" stroke="#ffa500" stroke-width="0.75"/>
<circle cx="407.32" cy="53.74" r="1.05" fill="none" stroke="#ffa500" stroke-width="0.75"/>
<circle cx="406.41" cy="55.11" r="1.05" fill="none" stroke="#ffa500" stroke-width="0.75"/>
<circle cx="408.38" cy="57.89" r="1.05" fill="none" stroke="#ffa500" stroke-width="0.75"/>
<circle cx="405.61" cy="58.18" r="1.05" fill="none" stroke="#ffa500" stroke-width="0.75"/>
<circle cx="409.74" cy="51.51" r="1.05" fill="none" stroke="#ffa500" stroke-width="0.75"/>
<circle cx="406.15" cy="56.50" r="1.05" fill="none" stroke="#ffa500" stroke-width="0.75"/>
<circle cx="406.33" cy="54.62" r="1.05" fill="none" stroke="#ffa500" stroke-width="0.75"/>
<circle cx="407.93" cy="55.77" r="1.05" fill="none" stroke="#ffa500" stroke-width="0.75"/>
<circle cx="417.47" cy="59.45" r="1.05" fill="none" stroke="#ffa500" stroke-width="0.75"/>
<circle cx="408.99" cy="56.50" r="1.05" fill="none" stroke="#ffa500" stroke-width="0.75"/>
<circle cx="409.04" cy="61.52" r="1.05" fill="none" stroke="#ffa500" stroke-width="0.75"/>
<circle cx="411.88" cy="56.06" r="1.05" fill="none" stroke="#ffa500" stroke-width="0.75"/>
<circle cx="406.26" cy="58.25" r="1.05" fill="none" stroke="#ffa500" stroke-width="0.75"/>
<circle cx="405.62" cy="57.67" r="1.05" fill="none" stroke="#ffa500" stroke-width="0.75"/>
<circle cx="406.30" cy="55.85" r="1.05" fill="none" stroke="#ffa500" stroke-width="0.75"/>
<circle cx="420.75" cy="84.51" r="1.05" fill="none" stroke="#ffa500" stroke-width="0.75"/>
<circle cx="417.67" cy="63.41" r="1.05" fill="none" stroke="#ffa500" stroke-width="0.75"/>
<circle cx="416.72" cy="58.51" r="1.05" fill="none" stroke="#ffa500" stroke-width="0.75"/>
<circle cx="405.64" cy="53.57" r="1.05" fill="none" stroke="#ffa500" stroke-width="0.75"/>
<circle cx="411.96" cy="52.82" r="1.05" fill="none" stroke="#ffa500" stroke-width="0.75"/>
<circle cx="407.29" cy="51.11" r="1.05" fill="none" stroke="#ffa500" stroke-width="0.75"/>
<circle cx="406.53" cy="56.79" r="1.05" fill="none" stroke="#ffa500" stroke-width="0.75"/>
<circle cx="414.66" cy="58.21" r="1.05" fill="none" stroke="#ffa500" stroke-width="0.75"/>
<circle cx="405.61" cy="59.44" r="1.05" fill="none" stroke="#ffa500" stroke-width="0.75"/>
<circle cx="405.96" cy="53.90" r="1.05" fill="none" stroke="#ffa500" stroke-width="0.75"/>
<circle cx="406.12" cy="54.11" r="1.05" fill="none" stroke="#ffa500" stroke-width="0.75"/>
<circle cx="410.79" cy="58.87" r="1.05" fill="none" stroke="#ffa500" stroke-width="0.75"/>
<circle cx="411.62" cy="62.37" r="1.05" fill="none" stroke="#ffa500" stroke-width="0.75"/>
<circle cx="406.17" cy="51.17" r="1.05" fill="none" stroke="#ffa500" stroke-width="0.75"/>
<circle cx="425.52" cy="74.88" r="1.05" fill="none" stroke="#ffa500" stroke-width="0.75"/>
<circle cx="408.90" cy="63.81" r="1.05" fill="none" stroke="#ffa500" stroke-width="0.75"/>
<circle cx="414.24" cy="71.81" r="1.05" fill="none" stroke="#ffa500" stroke-width="0.75"/>
<circle cx="405.65" cy="49.44" r="1.05" fill="none" stroke="#ffa500" stroke-width="0.75"/>
<circle cx="408.59" cy="59.72" r="1.05" fill="none" stroke="#ffa500" stroke-width="0.75"/>
<circle cx="408.91" cy="66.02" r="1.05" fill="none" stroke="#ffa500" stroke-width="0.75"/>
<circle cx="405.62" cy="66.67" r="1.05" fill="none" stroke="#ffa500" stroke-width="0.75"/>
<circle cx="407.28" cy="68.27" r="1.05" fill="none" stroke="#ffa500" stroke-width="0.75"/>
<circle cx="406.02" cy="58.04" r="1.05" fill="none" stroke="#ffa500" stroke-width="0.75"/>
<circle cx="425.20" cy="72.07" r="1.05" fill="none" stroke="#ffa500" stroke-width="0.75"/>
<circle cx="407.52" cy="54.16" r="1.05" fill="none" stroke="#ffa500" stroke-width="0.75"/>
<circle cx="422.51" cy="70.68" r="1.05" fill="none" stroke="#ffa500" stroke-width="0.75"/>
<circle cx="411.68" cy="57.10" r="1.05" fill="none" stroke="#ffa500" stroke-width="0.75"/>
<circle cx="420.86" cy="66.28" r="1.05" fill="none" stroke="#ffa500" stroke-width="0.75"/>
<circle cx="406.54" cy="51.13" r="1.05" fill="none" stroke="#ffa500" stroke-width="0.75"/>
<circle cx="405.61" cy="55.64" r="1.05" fill="none" stroke="#ffa500" stroke-width="0.75"/>
<circle cx="405.63" cy="55.74" r="1.05" fill="none" stroke="#ffa500" stroke-width="0.75"/>
<circle cx="406.91" cy="55.18" r="1.05" fill="none" stroke="#ffa500" stroke-width="0.75"/>
<circle cx="411.69" cy="70.03" r="1.05" fill="none" stroke="#ffa500" stroke-width="0.75"/>
<circle cx="405.89" cy="56.74" r="1.05" fill="none" stroke="#ffa500" stroke-width="0.75"/>
<circle cx="405.66" cy="54.18" r="1.05" fill="none" stroke="#ffa500" stroke-width="0.75"/>
<circle cx="406.60" cy="58.31" r="1.05" fill="none" stroke="#ffa500" stroke-width="0.75"/>
<circle cx="406.03" cy="60.02" r="1.05" fill="none" stroke="#ffa500" stroke-width="0.75"/>
<circle cx="407.48" cy="65.65" r="1.05" fill="none" stroke="#ffa500" stroke-width="0.75"/>
<circle cx="417.24" cy="55.77" r="1.05" fill="none" stroke="#ffa500" stroke-width="0.75"/>
<circle cx="407.25" cy="53.40" r="1.05" fill="none" stroke="#ffa500" stroke-width="0.75"/>
<circle cx="406.40" cy="56.32" r="1.05" fill="none" stroke="#ffa500" stroke-width="0.75"/>
<circle cx="411.10" cy="55.83" r="1.05" fill="none" stroke="#ffa500" stroke-width="0.75"/>
<circle cx="407.65" cy="66.92" r="1.05" fill="none" stroke="#ffa500" stroke-width="0.75"/>
<circle cx="405.68" cy="57.33" r="1.05" fill="none" stroke="#ffa500" stroke-width="0.75"/>
<circle cx="407.11" cy="60.05" r="1.05" fill="none" stroke="#ffa500" stroke-width="0.75"/>
<circle cx="406.09" cy="46.43" r="1.05" fill="none" stroke="#ffa500" stroke-width="0.75"/>
<circle cx="410.36" cy="54.98" r="1.05" fill="none" stroke="#ffa500" stroke-width="0.75"/>
<circle cx="405.85" cy="57.02" r="1.05" fill="none" stroke="#ffa500" stroke-width="0.75"/>
<circle cx="408.46" cy="52.94" r="1.05" fill="none" stroke="#ffa500" stroke-width="0.75"/>
<circle cx="408.89" cy="65.51" r="1.05" fill="none" stroke="#ffa500" stroke-width="0.75"/>
<circle cx="414.48" cy="62.68" r="1.05" fill="none" stroke="#ffa500" stroke-width="0.75"/>
<circle cx="406.75" cy="58.79" r="1.05" fill="none" stroke="#ffa500" stroke-width="0.75"/>
<circle cx="425.36" cy="68.46" r="1.05" fill="none" stroke="#ffa500" stroke-width="0.75"/>
<circle cx="407.04" cy="57.59" r="1.05" fill="none" stroke="#ffa500" stroke-width="0.75"/>
<circle cx="405.60" cy="53.62" r="1.05" fill="none" stroke="#ffa500" stroke-width="0.75"/>
<circle cx="408.27" cy="57.19" r="1.05" fill="none" stroke="#ffa500" stroke-width="0.75"/>
<circle cx="414.20" cy="58.48" r="1.05" fill="none" stroke="#ffa500" stroke-width="0.75"/>
<circle cx="417.81" cy="72.91" r="1.05" fill="none" stroke="#ffa500" stroke-width="0.75"/>
<circle cx="405.64" cy="58.43" r="1.05" fill="none" stroke="#ffa500" stroke-width="0.75"/>
<circle cx="409.80" cy="62.77" r="1.05" fill="none" stroke="#ffa500" stroke-width="0.75"/>
<circle cx="405.74" cy="61.91" r="1.05" fill="none" stroke="#ffa500" stroke-width="0.75"/>
<circle cx="405.63" cy="59.96" r="1.05" fill="none" stroke="#ffa500" stroke-width="0.75"/>
<circle cx="405.62" cy="65.64" r="1.05" fill="none" stroke="#ffa500" stroke-width="0.75"/>
<circle cx="405.64" cy="57.88" r="1.05" fill="none" stroke="#ffa500" stroke-width="0.75"/>
<circle cx="405.75" cy="56.68" r="1.05" fill="none" stroke="#ffa500" stroke-width="0.75"/>
<circle cx="419.92" cy="67.20" r="1.05" fill="none" stroke="#ffa500" stroke-width="0.75"/>
<circle cx="431.68" cy="63.46" r="1.05" fill="none" stroke="#ffa500" stroke-width="0.75"/>
<circle cx="408.39" cy="52.79" r="1.05" fill="none" stroke="#ffa500" stroke-width="0.75"/>
<circle cx="415.20" cy="65.88" r="1.05" fill="none" stroke="#ffa500" stroke-width="0.75"/>
<circle cx="415.42" cy="67.87" r="1.05" fill="none" stroke="#ffa500" stroke-width="0.75"/>
<circle cx="406.52" cy="53.43" r="1.05" fill="none" stroke="#ffa500" stroke-width="0.75"/>
<circle cx="406.30" cy="65.97" r="1.05" fill="none" stroke="#ffa500" stroke-width="0.75"/>
<circle cx="405.94" cy="49.95" r="1.05" fill="none" stroke="#ffa500" stroke-width="0.75"/>
<circle cx="409.62" cy="64.69" r="1.05" fill="none" stroke="#ffa500" stroke-width="0.75"/>
<circle cx="417.31" cy="59.51" r="1.05" fill="none" stroke="#ffa500" stroke-width="0.75"/>
<circle cx="405.60" cy="56.97" r="1.05" fill="none" stroke="#ffa500" stroke-width="0.75"/>
<circle cx="405.88" cy="58.21" r="1.05" fill="none" stroke="#ffa500" stroke-width="0.75"/>
<circle cx="411.59" cy="63.45" r="1.05" fill="none" stroke="#ffa500" stroke-width="0.75"/>
<circle cx="405.61" cy="57.53" r="1.05" fill="none" stroke="#ffa500" stroke-width="0.75"/>
<circle cx="418.61" cy="62.50" r="1.05" fill="none" stroke="#ffa500" stroke-width="0.75"/>
<circle cx="407.54" cy="61.54" r="1.05" fill="none" stroke="#ffa500" stroke-width="0.75"/>
<circle cx="415.76" cy="66.77" r="1.05" fill="none" stroke="#ffa500" stroke-width="0.75"/>
<circle cx="407.86" cy="55.02" r="1.05" fill="none" stroke="#ffa500" stroke-width="0.75"/>
<circle cx="407.76" cy="57.71" r="1.05" fill="none" stroke="#ffa500" stroke-width="0.75"/>
<circle cx="410.86" cy="62.10" r="1.05" fill="none" stroke="#ffa500" stroke-width="0.75"/>
<circle cx="407.11" cy="58.74" r="1.05" fill="none" stroke="#ffa500" stroke-width="0.75"/>
<circle cx="407.77" cy="60.01" r="1.05" fill="none" stroke="#ffa500" stroke-width="0.75"/>
<circle cx="406.33" cy="56.45" r="1.05" fill="none" stroke="#ffa500" stroke-width="0.75"/>
<circle cx="406.88" cy="59.40" r="1.05" fill="none" stroke="#ffa500" stroke-width="0.75"/>
<circle cx="407.27" cy="54.37" r="1.05" fill="none" stroke="#ffa500" stroke-width="0.75"/>
<circle cx="407.61" cy="61.19" r="1.05" fill="none" stroke="#ffa500" stroke-width="0.75"/>
<circle cx="408.62" cy="66.36" r="1.05" fill="none" stroke="#ffa500" stroke-width="0.75"/>
<circle cx="405.60" cy="58.27" r="1.05" fill="none" stroke="#ffa500" stroke-width="0.75"/>
<circle cx="410.87" cy="63.41" r="1.05" fill="none" stroke="#ffa500" stroke-width="0.75"/>
<circle cx="410.12" cy="59.03" r="1.05" fill="none" stroke="#ffa500" stroke-width="0.75"/>
<circle cx="418.92" cy="67.83" r="1.05" fill="none" stroke="#ffa500" stroke-width="0.75"/>
<circle cx="406.19" cy="56.59" r="1.05" fill="none" stroke="#ffa500" stroke-width="0.75"/>
<circle cx="409.53" cy="49.62" r="1.05" fill="none" stroke="#ffa500" stroke-width="0.75"/>
<circle cx="405.70" cy="49.92" r="1.05" fill="none" stroke="#ffa500" stroke-width="0.75"/>
<circle cx="405.67" cy="56.58" r="1.05" fill="none" stroke="#ffa500" stroke-width="0.75"/>
<circle cx="405.61" cy="61.46" r="1.05" fill="none" stroke="#ffa500" stroke-width="0.75"/>
<circle cx="405.63" cy="55.90" r="1.05" fill="none" stroke="#ffa500" stroke-width="0.75"/>
<circle cx="407.88" cy="54.06" r="1.05" fill="none" stroke="#ffa500" stroke-width="0.75"/>
<circle cx="407.80" cy="65.62" r="1.05" fill="none" stroke="#ffa500" stroke-width="0.75"/>
<circle cx="421.99" cy="61.32" r="1.05" fill="none" stroke="#ffa500" stroke-width="0.75"/>
<circle cx="406.72" cy="57.73" r="1.05" fill="none" stroke="#ffa500" stroke-width="0.75"/>
<circle cx="406.36" cy="63.02" r="1.05" fill="none" stroke="#ffa500" stroke-width="0.75"/>
<circle cx="429.66" cy="62.61" r="1.05" fill="none" stroke="#ffa500" stroke-width="0.75"/>
<circle cx="409.57" cy="60.40" r="1.05" fill="none" stroke="#ffa500" stroke-width="0.75"/>
<circle cx="405.91" cy="60.96" r="1.05" fill="none" stroke="#ffa500" stroke-width="0.75"/>
<circle cx="419.86" cy="61.60" r="1.05" fill="none" stroke="#ffa500" stroke-width="0.75"/>
<circle cx="408.71" cy="53.93" r="1.05" fill="none" stroke="#ffa500" stroke-width="0.75"/>
<circle cx="407.49" cy="76.91" r="1.05" fill="none" stroke="#ffa500" stroke-width="0.75"/>
<circle cx="416.12" cy="66.08" r="1.05" fill="none" stroke="#ffa500" stroke-width="0.75"/>
<circle cx="408.96" cy="54.60" r="1.05" fill="none" stroke="#ffa500" stroke-width="0.75"/>
<circle cx="410.37" cy="52.69" r="1.05" fill="none" stroke="#ffa500" stroke-width="0.75"/>
<circle cx="405.60" cy="66.45" r="1.05" fill="none" stroke="#ffa500" stroke-width="0.75"/>
<circle cx="420.23" cy="57.99" r="1.05" fill="none" stroke="#ffa500" stroke-width="0.75"/>
<circle cx="411.30" cy="55.56" r="1.05" fill="none" stroke="#ffa500" stroke-width="0.75"/>
<circle cx="405.61" cy="55.02" r="1.05" fill="none" stroke="#ffa500" stroke-width="0.75"/>
<circle cx="407.77" cy="60.11" r="1.05" fill="none" stroke="#ffa500" stroke-width="0.75"/>
<circle cx="405.61" cy="53.95" r="1.05" fill="none" stroke="#ffa500" stroke-width="0.75"/>
<circle cx="406.75" cy="62.56" r="1.05" fill="none" stroke="#ffa500" stroke-width="0.75"/>
<circle cx="407.29" cy="55.61" r="1.05" fill="none" stroke="#ffa500" stroke-width="0.75"/>
<circle cx="405.85" cy="56.29" r="1.05" fill="none" stroke="#ffa500" stroke-width="0.75"/>
<circle cx="422.45" cy="68.44" r="1.05" fill="none" stroke="#ffa500" stroke-width="0.75"/>
<circle cx="430.66" cy="68.82" r="1.05" fill="none" stroke="#ffa500" stroke-width="0.75"/>
<circle cx="407.15" cy="52.73" r="1.05" fill="none" stroke="#ffa500" stroke-width="0.75"/>
<circle cx="436.79" cy="72.26" r="1.05" fill="none" stroke="#ffa500" stroke-width="0.75"/>
<circle cx="409.44" cy="53.53" r="1.05" fill="none" stroke="#ffa500" stroke-width="0.75"/>
<circle cx="419.20" cy="65.35" r="1.05" fill="none" stroke="#ffa500" stroke-width="0.75"/>
<circle cx="408.64" cy="61.07" r="1.05" fill="none" stroke="#ffa500" stroke-width="0.75"/>
<circle cx="405.84" cy="61.41" r="1.05" fill="none" stroke="#ffa500" stroke-width="0.75"/>
<circle cx="407.65" cy="64.03" r="1.05" fill="none" stroke="#ffa500" stroke-width="0.75"/>
<circle cx="406.13" cy="62.28" r="1.05" fill="none" stroke="#ffa500" stroke-width="0.75"/>
<circle cx="406.27" cy="54.76" r="1.05" fill="none" stroke="#ffa500" stroke-width="0.75"/>
<circle cx="410.03" cy="68.17" r="1.05" fill="none" stroke="#ffa500" stroke-width="0.75"/>
<circle cx="407.45" cy="62.52" r="1.05" fill="none" stroke="#ffa500" stroke-width="0.75"/>
<circle cx="408.36" cy="61.21" r="1.05" fill="none" stroke="#ffa500" stroke-width="0.75"/>
<circle cx="405.63" cy="53.69" r="1.05" fill="none" stroke="#ffa500" stroke-width="0.75"/>
<circle cx="405.69" cy="59.56" r="1.05" fill="none" stroke="#ffa500" stroke-width="0.75"/>
<circle cx="406.17" cy="60.38" r="1.05" fill="none" stroke="#ffa500" stroke-width="0.75"/>
<circle cx="408.83" cy="65.01" r="1.05" fill="none" stroke="#ffa500" stroke-width="0.75"/>
<circle cx="416.86" cy="63.00" r="1.05" fill="none" stroke="#ffa500" stroke-width="0.75"/>
<circle cx="413.88" cy="61.89" r="1.05" fill="none" stroke="#ffa500" stroke-width="0.75"/>
<circle cx="405.82" cy="52.16" r="1.05" fill="none" stroke="#ffa500" stroke-width="0.75"/>
<circle cx="414.42" cy="54.78" r="1.05" fill="none" stroke="#ffa500" stroke-width="0.75"/>
<circle cx="416.43" cy="61.60" r="1.05" fill="none" stroke="#ffa500" stroke-width="0.75"/>
<circle cx="406.54" cy="47.69" r="1.05" fill="none" stroke="#ffa500" stroke-width="0.75"/>
<circle cx="406.17" cy="58.44" r="1.05" fill="none" stroke="#ffa500" stroke-width="0.75"/>
<circle cx="410.40" cy="66.47" r="1.05" fill="none" stroke="#ffa500" stroke-width="0.75"/>
<circle cx="405.60" cy="55.17" r="1.05" fill="none" stroke="#ffa500" stroke-width="0.75"/>
<circle cx="411.80" cy="58.49" r="1.05" fill="none" stroke="#ffa500" stroke-width="0.75"/>
<circle cx="407.95" cy="57.88" r="1.05" fill="none" stroke="#ffa500" stroke-width="0.75"/>
<circle cx="405.62" cy="60.49" r="1.05" fill="none" stroke="#ffa500" stroke-width="0.75"/>
<circle cx="407.74" cy="60.74" r="1.05" fill="none" stroke="#ffa500" stroke-width="0.75"/>
<circle cx="408.27" cy="58.80" r="1.05" fill="none" stroke="#ffa500" stroke-width="0.75"/>
<circle cx="420.86" cy="78.82" r="1.05" fill="none" stroke="#ffa500" stroke-width="0.75"/>
<circle cx="408.02" cy="66.36" r="1.05" fill="none" stroke="#ffa500" stroke-width="0.75"/>
<circle cx="411.08" cy="58.06" r="1.05" fill="none" stroke="#ffa500" stroke-width="0.75"/>
<circle cx="406.14" cy="56.35" r="1.05" fill="none" stroke="#ffa500" stroke-width="0.75"/>
<circle cx="406.00" cy="61.56" r="1.05" fill="none" stroke="#ffa500" stroke-width="0.75"/>
<circle cx="407.24" cy="57.16" r="1.05" fill="none" stroke="#ffa500" stroke-width="0.75"/>
<circle cx="407.23" cy="57.21" r="1.05" fill="none" stroke="#ffa500" stroke-width="0.75"/>
<circle cx="408.49" cy="51.61" r="1.05" fill="none" stroke="#ffa500" stroke-width="0.75"/>
<circle cx="408.68" cy="66.31" r="1.05" fill="none" stroke="#ffa500" stroke-width="0.75"/>
<circle cx="405.61" cy="56.91" r="1.05" fill="none" stroke="#ffa500" stroke-width="0.75"/>
<circle cx="409.21" cy="60.19" r="1.05" fill="none" stroke="#ffa500" stroke-width="0.75"/>
<circle cx="406.02" cy="53.81" r="1.05" fill="none" stroke="#ffa500" stroke-width="0.75"/>
<circle cx="412.60" cy="71.15" r="1.05" fill="none" stroke="#ffa500" stroke-width="0.75"/>
<circle cx="426.50" cy="68.53" r="1.05" fill="none" stroke="#ffa500" stroke-width="0.75"/>
<circle cx="405.97" cy="50.12" r="1.05" fill="none" stroke="#ffa500" stroke-width="0.75"/>
<circle cx="405.62" cy="55.74" r="1.05" fill="none" stroke="#ffa500" stroke-width="0.75"/>
<circle cx="405.65" cy="59.08" r="1.05" fill="none" stroke="#ffa500" stroke-width="0.75"/>
<circle cx="408.94" cy="58.17" r="1.05" fill="none" stroke="#ffa500" stroke-width="0.75"/>
<circle cx="407.58" cy="65.42" r="1.05" fill="none" stroke="#ffa500" stroke-width="0.75"/>
<circle cx="406.39" cy="68.40" r="1.05" fill="none" stroke="#ffa500" stroke-width="0.75"/>
<circle cx="427.17" cy="65.61" r="1.05" fill="none" stroke="#ffa500" stroke-width="0.75"/>
<circle cx="405.72" cy="61.11" r="1.05" fill="none" stroke="#ffa500" stroke-width="0.75"/>
<circle cx="409.46" cy="57.20" r="1.05" fill="none" stroke="#ffa500" stroke-width="0.75"/>
<circle cx="405.60" cy="57.75" r="1.05" fill="none" stroke="#ffa500" stroke-width="0.75"/>
<circle cx="407.12" cy="61.94" r="1.05" fill="none" stroke="#ffa500" stroke-width="0.75"/>
<circle cx="408.28" cy="50.73" r="1.05" fill="none" stroke="#ffa500" stroke-width="0.75"/>
<circle cx="406.11" cy="56.90" r="1.05" fill="none" stroke="#ffa500" stroke-width="0.75"/>
<circle cx="413.57" cy="65.65" r="1.05" fill="none" stroke="#ffa500" stroke-width="0.75"/>
<circle cx="405.80" cy="55.47" r="1.05" fill="none" stroke="#ffa500" stroke-width="0.75"/>
<circle cx="408.71" cy="61.67" r="1.05" fill="none" stroke="#ffa500" stroke-width="0.75"/>
<circle cx="410.85" cy="50.33" r="1.05" fill="none" stroke="#ffa500" stroke-width="0.75"/>
<circle cx="406.50" cy="55.04" r="1.05" fill="none" stroke="#ffa500" stroke-width="0.75"/>
<circle cx="405.79" cy="56.55" r="1.05" fill="none" stroke="#ffa500" stroke-width="0.75"/>
<circle cx="417.72" cy="58.13" r="1.05" fill="none" stroke="#ffa500" stroke-width="0.75"/>
<circle cx="406.03" cy="55.36" r="1.05" fill="none" stroke="#ffa500" stroke-width="0.75"/>
<circle cx="405.89" cy="53.23" r="1.05" fill="none" stroke="#ffa500" stroke-width="0.75"/>
<circle cx="409.18" cy="63.55" r="1.05" fill="none" stroke="#ffa500" stroke-width="0.75"/>
<circle cx="408.16" cy="53.90" r="1.05" fill="none" stroke="#ffa500" stroke-width="0.75"/>
<circle cx="405.61" cy="61.62" r="1.05" fill="none" stroke="#ffa500" stroke-width="0.75"/>
<circle cx="407.43" cy="59.12" r="1.05" fill="none" stroke="#ffa500" stroke-width="0.75"/>
<circle cx="405.91" cy="54.59" r="1.05" fill="none" stroke="#ffa500" stroke-width="0.75"/>
<circle cx="428.21" cy="65.26" r="1.05" fill="none" stroke="#ffa500" stroke-width="0.75"/>
<circle cx="411.87" cy="67.15" r="1.05" fill="none" stroke="#ffa500" stroke-width="0.75"/>
<circle cx="408.63" cy="53.15" r="1.05" fill="none" stroke="#ffa500" stroke-width="0.75"/>
<circle cx="406.80" cy="61.01" r="1.05" fill="none" stroke="#ffa500" stroke-width="0.75"/>
<circle cx="408.09" cy="57.93" r="1.05" fill="none" stroke="#ffa500" stroke-width="0.75"/>
<circle cx="405.74" cy="52.22" r="1.05" fill="none" stroke="#ffa500" stroke-width="0.75"/>
<circle cx="420.79" cy="66.06" r="1.05" fill="none" stroke="#ffa500" stroke-width="0.75"/>
<circle cx="410.64" cy="64.72" r="1.05" fill="none" stroke="#ffa500" stroke-width="0.75"/>
<circle cx="405.60" cy="55.08" r="1.05" fill="none" stroke="#ffa500" stroke-width="0.75"/>
<circle cx="415.77" cy="55.38" r="1.05" fill="none" stroke="#ffa500" stroke-width="0.75"/>
<circle cx="410.42" cy="64.62" r="1.05" fill="none" stroke="#ffa500" stroke-width="0.75"/>
<circle cx="432.24" cy="74.99" r="1.05" fill="none" stroke="#ffa500" stroke-width="0.75"/>
<circle cx="409.75" cy="58.51" r="1.05" fill="none" stroke="#ffa500" stroke-width="0.75"/>
<circle cx="426.20" cy="68.83" r="1.05" fill="none" stroke="#ffa500" stroke-width="0.75"/>
<circle cx="416.23" cy="66.39" r="1.05" fill="none" stroke="#ffa500" stroke-width="0.75"/>
<circle cx="413.99" cy="60.86" r="1.05" fill="none" stroke="#ffa500" stroke-width="0.75"/>
<circle cx="405.62" cy="64.96" r="1.05" fill="none" stroke="#ffa500" stroke-width="0.75"/>
<circle cx="405.92" cy="51.46" r="1.05" fill="none" stroke="#ffa500" stroke-width="0.75"/>
<circle cx="408.99" cy="69.98" r="1.05" fill="none" stroke="#ffa500" stroke-width="0.75"/>
<circle cx="405.91" cy="59.80" r="1.05" fill="none" stroke="#ffa500" stroke-width="0.75"/>
<circle cx="419.64" cy="63.23" r="1.05" fill="none" stroke="#ffa500" stroke-width="0.75"/>
<circle cx="407.08" cy="57.13" r="1.05" fill="none" stroke="#ffa500" stroke-width="0.75"/>
<circle cx="405.63" cy="54.86" r="1.05" fill="none" stroke="#ffa500" stroke-width="0.75"/>
<circle cx="406.94" cy="47.97" r="1.05" fill="none" stroke="#ffa500" stroke-width="0.75"/>
<circle cx="426.35" cy="67.20" r="1.05" fill="none" stroke="#ffa500" stroke-width="0.75"/>
<circle cx="409.31" cy="63.82" r="1.05" fill="none" stroke="#ffa500" stroke-width="0.75"/>
<circle cx="405.60" cy="57.69" r="1.05" fill="none" stroke="#ffa500" stroke-width="0.75"/>
<circle cx="406.99" cy="68.82" r="1.05" fill="none" stroke="#ffa500" stroke-width="0.75"/>
<circle cx="413.40" cy="68.07" r="1.05" fill="none" stroke="#ffa500" stroke-width="0.75"/>
<circle cx="412.62" cy="59.57" r="1.05" fill="none" stroke="#ffa500" stroke-width="0.75"/>
<circle cx="406.51" cy="62.77" r="1.05" fill="none" stroke="#ffa500" stroke-width="0.75"/>
<circle cx="413.15" cy="63.88" r="1.05" fill="none" stroke="#ffa500" stroke-width="0.75"/>
<circle cx="408.93" cy="54.99" r="1.05" fill="none" stroke="#ffa500" stroke-width="0.75"/>
<circle cx="407.84" cy="63.01" r="1.05" fill="none" stroke="#ffa500" stroke-width="0.75"/>
<circle cx="411.80" cy="59.81" r="1.05" fill="none" stroke="#ffa500" stroke-width="0.75"/>
<circle cx="406.12" cy="57.60" r="1.05" fill="none" stroke="#ffa500" stroke-width="0.75"/>
<circle cx="413.35" cy="58.00" r="1.05" fill="none" stroke="#ffa500" stroke-width="0.75"/>
<circle cx="405.61" cy="56.29" r="1.05" fill="none" stroke="#ffa500" stroke-width="0.75"/>
<circle cx="409.08" cy="57.39" r="1.05" fill="none" stroke="#ffa500" stroke-width="0.75"/>
<circle cx="408.56" cy="76.39" r="1.05" fill="none" stroke="#ffa500" stroke-width="0.75"/>
<circle cx="405.75" cy="61.16" r="1.05" fill="none" stroke="#ffa500" stroke-width="0.75"/>
<circle cx="407.36" cy="54.23" r="1.05" fill="none" stroke="#ffa500" stroke-width="0.75"/>
<circle cx="407.96" cy="62.41" r="1.05" fill="none" stroke="#ffa500" stroke-width="0.75"/>
<circle cx="405.68" cy="60.22" r="1.05" fill="none" stroke="#ffa500" stroke-width="0.75"/>
<circle cx="405.66" cy="58.88" r="1.05" fill="none" stroke="#ffa500" stroke-width="0.75"/>
<circle cx="420.73" cy="63.46" r="1.05" fill="none" stroke="#ffa500" stroke-width="0.75"/>
<circle cx="415.45" cy="55.60" r="1.05" fill="none" stroke="#ffa500" stroke-width="0.75"/>
<circle cx="421.83" cy="80.81" r="1.05" fill="none" stroke="#ffa500" stroke-width="0.75"/>
<circle cx="407.92" cy="55.73" r="1.05" fill="none" stroke="#ffa500" stroke-width="0.75"/>
<circle cx="405.69" cy="60.47" r="1.05" fill="none" stroke="#ffa500" stroke-width="0.75"/>
<circle cx="406.05" cy="54.98" r="1.05" fill="none" stroke="#ffa500" stroke-width="0.75"/>
<circle cx="409.93" cy="61.40" r="1.05" fill="none" stroke="#ffa500" stroke-width="0.75"/>
<circle cx="406.66" cy="61.19" r="1.05" fill="none" stroke="#ffa500" stroke-width="0.75"/>
<circle cx="413.64" cy="54.30" r="1.05" fill="none" stroke="#ffa500" stroke-width="0.75"/>
<circle cx="407.33" cy="57.86" r="1.05" fill="none" stroke="#ffa500" stroke-width="0.75"/>
<circle cx="408.47" cy="63.95" r="1.05" fill="none" stroke="#ffa500" stroke-width="0.75"/>
<circle cx="408.19" cy="60.93" r="1.05" fill="none" stroke="#ffa500" stroke-width="0.75"/>
<circle cx="434.78" cy="76.22" r="1.05" fill="none" stroke="#ffa500" stroke-width="0.75"/>
<circle cx="411.25" cy="57.68" r="1.05" fill="none" stroke="#ffa500" stroke-width="0.75"/>
<circle cx="415.18" cy="68.15" r="1.05" fill="none" stroke="#ffa500" stroke-width="0.75"/>
<circle cx="414.54" cy="67.72" r="1.05" fill="none" stroke="#ffa500" stroke-width="0.75"/>
<circle cx="406.05" cy="61.85" r="1.05" fill="none" stroke="#ffa500" stroke-width="0.75"/>
<circle cx="405.95" cy="55.08" r="1.05" fill="none" stroke="#ffa500" stroke-width="0.75"/>
<circle cx="410.00" cy="61.01" r="1.05" fill="none" stroke="#ffa500" stroke-width="0.75"/>
<circle cx="407.66" cy="54.60" r="1.05" fill="none" stroke="#ffa500" stroke-width="0.75"/>
<circle cx="405.89" cy="62.38" r="1.05" fill="none" stroke="#ffa500" stroke-width="0.75"/>
<circle cx="405.61" cy="61.05" r="1.05" fill="none" stroke="#ffa500" stroke-width="0.75"/>
<circle cx="410.65" cy="59.18" r="1.05" fill="none" stroke="#ffa500" stroke-width="0.75"/>
<circle cx="406.54" cy="59.22" r="1.05" fill="none" stroke="#ffa500" stroke-width="0.75"/>
<circle cx="407.25" cy="52.58" r="1.05" fill="none" stroke="#ffa500" stroke-width="0.75"/>
<circle cx="407.39" cy="50.75" r="1.05" fill="none" stroke="#ffa500" stroke-width="0.75"/>
<circle cx="412.52" cy="55.55" r="1.05" fill="none" stroke="#ffa500" stroke-width="0.75"/>
<circle cx="405.70" cy="59.17" r="1.05" fill="none" stroke="#ffa500" stroke-width="0.75"/>
<circle cx="425.62" cy="68.05" r="1.05" fill="none" stroke="#ffa500" stroke-width="0.75"/>
<circle cx="408.55" cy="58.95" r="1.05" fill="none" stroke="#ffa500" stroke-width="0.75"/>
<circle cx="411.16" cy="60.21" r="1.05" fill="none" stroke="#ffa500" stroke-width="0.75"/>
<circle cx="406.56" cy="60.23" r="1.05" fill="none" stroke="#ffa500" stroke-width="0.75"/>
<circle cx="407.15" cy="56.61" r="1.05" fill="none" stroke="#ffa500" stroke-width="0.75"/>
<circle cx="408.14" cy="53.53" r="1.05" fill="none" stroke="#ffa500" stroke-width="0.75"/>
<circle cx="407.25" cy="65.24" r="1.05" fill="none" stroke="#ffa500" stroke-width="0.75"/>
<circle cx="413.95" cy="56.77" r="1.05" fill="none" stroke="#ffa500" stroke-width="0.75"/>
<circle cx="408.67" cy="60.46" r="1.05" fill="none" stroke="#ffa500" stroke-width="0.75"/>
<circle cx="430.29" cy="72.02" r="1.05" fill="none" stroke="#ffa500" stroke-width="0.75"/>
<circle cx="405.61" cy="57.90" r="1.05" fill="none" stroke="#ffa500" stroke-width="0.75"/>
<circle cx="409.39" cy="64.61" r="1.05" fill="none" stroke="#ffa500" stroke-width="0.75"/>
<circle cx="407.83" cy="63.22" r="1.05" fill="none" stroke="#ffa500" stroke-width="0.75"/>
<circle cx="406.34" cy="57.02" r="1.05" fill="none" stroke="#ffa500" stroke-width="0.75"/>
<circle cx="405.83" cy="55.32" r="1.05" fill="none" stroke="#ffa500" stroke-width="0.75"/>
<circle cx="407.74" cy="61.41" r="1.05" fill="none" stroke="#ffa500" stroke-width="0.75"/>
<circle cx="411.47" cy="61.48" r="1.05" fill="none" stroke="#ffa500" stroke-width="0.75"/>
<circle cx="406.45" cy="66.79" r="1.05" fill="none" stroke="#ffa500" stroke-width="0.75"/>
<circle cx="405.78" cy="60.06" r="1.05" fill="none" stroke="#ffa500" stroke-width="0.75"/>
<circle cx="406.53" cy="61.61" r="1.05" fill="none" stroke="#ffa500" stroke-width="0.75"/>
<circle cx="408.48" cy="60.41" r="1.05" fill="none" stroke="#ffa500" stroke-width="0.75"/>
<circle cx="424.52" cy="61.33" r="1.05" fill="none" stroke="#ffa500" stroke-width="0.75"/>
<circle cx="408.17" cy="49.70" r="1.05" fill="none" stroke="#ffa500" stroke-width="0.75"/>
<circle cx="411.91" cy="59.18" r="1.05" fill="none" stroke="#ffa500" stroke-width="0.75"/>
<circle cx="407.43" cy="61.05" r="1.05" fill="none" stroke="#ffa500" stroke-width="0.75"/>
<circle cx="408.62" cy="53.09" r="1.05" fill="none" stroke="#ffa500" stroke-width="0.75"/>
<circle cx="405.60" cy="63.75" r="1.05" fill="none" stroke="#ffa500" stroke-width="0.75"/>
<circle cx="407.72" cy="57.89" r="1.05" fill="none" stroke="#ffa500" stroke-width="0.75"/>
<circle cx="409.71" cy="57.18" r="1.05" fill="none" stroke="#ffa500" stroke-width="0.75"/>
<circle cx="405.78" cy="48.57" r="1.05" fill="none" stroke="#ffa500" stroke-width="0.75"/>
<circle cx="405.60" cy="51.61" r="1.05" fill="none" stroke="#ffa500" stroke-width="0.75"/>
<circle cx="407.06" cy="59.07" r="1.05" fill="none" stroke="#ffa500" stroke-width="0.75"/>
<circle cx="405.82" cy="58.89" r="1.05" fill="none" stroke="#ffa500" stroke-width="0.75"/>
<circle cx="407.63" cy="64.53" r="1.05" fill="none" stroke="#ffa500" stroke-width="0.75"/>
<circle cx="407.82" cy="61.47" r="1.05" fill="none" stroke="#ffa500" stroke-width="0.75"/>
<circle cx="409.35" cy="58.58" r="1.05" fill="none" stroke="#ffa500" stroke-width="0.75"/>
<circle cx="408.44" cy="58.41" r="1.05" fill="none" stroke="#ffa500" stroke-width="0.75"/>
<circle cx="405.61" cy="54.37" r="1.05" fill="none" stroke="#ffa500" stroke-width="0.75"/>
<circle cx="405.63" cy="59.13" r="1.05" fill="none" stroke="#ffa500" stroke-width="0.75"/>
<circle cx="412.91" cy="78.10" r="1.05" fill="none" stroke="#ffa500" stroke-width="0.75"/>
<circle cx="406.35" cy="57.18" r="1.05" fill="none" stroke="#ffa500" stroke-width="0.75"/>
<circle cx="411.23" cy="50.25" r="1.05" fill="none" stroke="#ffa500" stroke-width="0.75"/>
<circle cx="405.86" cy="57.54" r="1.05" fill="none" stroke="#ffa500" stroke-width="0.75"/>
<circle cx="406.85" cy="69.06" r="1.05" fill="none" stroke="#ffa500" stroke-width="0.75"/>
<circle cx="407.70" cy="59.34" r="1.05" fill="none" stroke="#ffa500" stroke-width="0.75"/>
<circle cx="408.52" cy="65.48" r="1.05" fill="none" stroke="#ffa500" stroke-width="0.75"/>
<circle cx="406.55" cy="60.40" r="1.05" fill="none" stroke="#ffa500" stroke-width="0.75"/>
<circle cx="405.64" cy="52.02" r="1.05" fill="none" stroke="#ffa500" stroke-width="0.75"/>
<circle cx="411.63" cy="65.53" r="1.05" fill="none" stroke="#ffa500" stroke-width="0.75"/>
<circle cx="412.86" cy="68.14" r="1.05" fill="none" stroke="#ffa500" stroke-width="0.75"/>
<circle cx="408.25" cy="59.92" r="1.05" fill="none" stroke="#ffa500" stroke-width="0.75"/>
<circle cx="407.15" cy="56.37" r="1.05" fill="none" stroke="#ffa500" stroke-width="0.75"/>
<circle cx="405.63" cy="58.56" r="1.05" fill="none" stroke="#ffa500" stroke-width="0.75"/>
<circle cx="407.66" cy="51.80" r="1.05" fill="none" stroke="#ffa500" stroke-width="0.75"/>
<circle cx="407.01" cy="62.78" r="1.05" fill="none" stroke="#ffa500" stroke-width="0.75"/>
<circle cx="410.20" cy="65.75" r="1.05" fill="none" stroke="#ffa500" stroke-width="0.75"/>
<circle cx="405.66" cy="53.06" r="1.05" fill="none" stroke="#ffa500" stroke-width="0.75"/>
<circle cx="405.99" cy="62.89" r="1.05" fill="none" stroke="#ffa500" stroke-width="0.75"/>
<circle cx="405.93" cy="55.45" r="1.05" fill="none" stroke="#ffa500" stroke-width="0.75"/>
<circle cx="407.47" cy="56.60" r="1.05" fill="none" stroke="#ffa500" stroke-width="0.75"/>
<circle cx="405.65" cy="49.20" r="1.05" fill="none" stroke="#ffa500" stroke-width="0.75"/>
<circle cx="415.99" cy="55.57" r="1.05" fill="none" stroke="#ffa500" stroke-width="0.75"/>
<circle cx="407.85" cy="61.09" r="1.05" fill="none" stroke="#ffa500" stroke-width="0.75"/>
<circle cx="406.32" cy="58.74" r="1.05" fill="none" stroke="#ffa500" stroke-width="0.75"/>
<circle cx="405.65" cy="57.29" r="1.05" fill="none" stroke="#ffa500" stroke-width="0.75"/>
<circle cx="407.56" cy="60.27" r="1.05" fill="none" stroke="#ffa500" stroke-width="0.75"/>
<circle cx="405.87" cy="59.16" r="1.05" fill="none" stroke="#ffa500" stroke-width="0.75"/>
<circle cx="408.52" cy="56.50" r="1.05" fill="none" stroke="#ffa500" stroke-width="0.75"/>
<circle cx="409.23" cy="57.11" r="1.05" fill="none" stroke="#ffa500" stroke-width="0.75"/>
<circle cx="406.31" cy="56.20" r="1.05" fill="none" stroke="#ffa500" stroke-width="0.75"/>
<circle cx="405.80" cy="52.37" r="1.05" fill="none" stroke="#ffa500" stroke-width="0.75"/>
<circle cx="412.25" cy="57.29" r="1.05" fill="none" stroke="#ffa500" stroke-width="0.75"/>
<circle cx="417.46" cy="60.17" r="1.05" fill="none" stroke="#ffa500" stroke-width="0.75"/>
<circle cx="413.44" cy="71.32" r="1.05" fill="none" stroke="#ffa500" stroke-width="0.75"/>
<circle cx="412.20" cy="67.92" r="1.05" fill="none" stroke="#ffa500" stroke-width="0.75"/>
<circle cx="417.34" cy="63.37" r="1.05" fill="none" stroke="#ffa500" stroke-width="0.75"/>
<circle cx="407.17" cy="66.71" r="1.05" fill="none" stroke="#ffa500" stroke-width="0.75"/>
<circle cx="411.57" cy="60.06" r="1.05" fill="none" stroke="#ffa500" stroke-width="0.75"/>
<circle cx="413.59" cy="66.69" r="1.05" fill="none" stroke="#ffa500" stroke-width="0.75"/>
<circle cx="408.47" cy="65.44" r="1.05" fill="none" stroke="#ffa500" stroke-width="0.75"/>
<circle cx="405.61" cy="53.22" r="1.05" fill="none" stroke="#ffa500" stroke-width="0.75"/>
<circle cx="410.77" cy="58.64" r="1.05" fill="none" stroke="#ffa500" stroke-width="0.75"/>
<circle cx="405.76" cy="62.44" r="1.05" fill="none" stroke="#ffa500" stroke-width="0.75"/>
<circle cx="440.88" cy="70.32" r="1.05" fill="none" stroke="#ffa500" stroke-width="0.75"/>
<circle cx="405.65" cy="54.33" r="1.05" fill="none" stroke="#ffa500" stroke-width="0.75"/>
<circle cx="412.23" cy="67.65" r="1.05" fill="none" stroke="#ffa500" stroke-width="0.75"/>
<circle cx="413.37" cy="72.80" r="1.05" fill="none" stroke="#ffa500" stroke-width="0.75"/>
<circle cx="406.71" cy="65.29" r="1.05" fill="none" stroke="#ffa500" stroke-width="0.75"/>
<circle cx="407.84" cy="52.19" r="1.05" fill="none" stroke="#ffa500" stroke-width="0.75"/>
<circle cx="405.66" cy="59.69" r="1.05" fill="none" stroke="#ffa500" stroke-width="0.75"/>
<circle cx="406.65" cy="61.97" r="1.05" fill="none" stroke="#ffa500" stroke-width="0.75"/>
<circle cx="406.82" cy="53.86" r="1.05" fill="none" stroke="#ffa500" stroke-width="0.75"/>
<circle cx="405.89" cy="56.47" r="1.05" fill="none" stroke="#ffa500" stroke-width="0.75"/>
<circle cx="415.12" cy="55.16" r="1.05" fill="none" stroke="#ffa500" stroke-width="0.75"/>
<circle cx="407.61" cy="65.07" r="1.05" fill="none" stroke="#ffa500" stroke-width="0.75"/>
<circle cx="413.08" cy="61.63" r="1.05" fill="none" stroke="#ffa500" stroke-width="0.75"/>
<circle cx="406.71" cy="63.73" r="1.05" fill="none" stroke="#ffa500" stroke-width="0.75"/>
<circle cx="413.68" cy="61.32" r="1.05" fill="none" stroke="#ffa500" stroke-width="0.75"/>
<circle cx="410.05" cy="60.70" r="1.05" fill="none" stroke="#ffa500" stroke-width="0.75"/>
<circle cx="411.84" cy="62.67" r="1.05" fill="none" stroke="#ffa500" stroke-width="0.75"/>
<circle cx="426.35" cy="76.61" r="1.05" fill="none" stroke="#ffa500" stroke-width="0.75"/>
<circle cx="425.60" cy="75.57" r="1.05" fill="none" stroke="#ffa500" stroke-width="0.75"/>
<circle cx="410.55" cy="67.80" r="1.05" fill="none" stroke="#ffa500" stroke-width="0.75"/>
<circle cx="407.67" cy="61.54" r="1.05" fill="none" stroke="#ffa500" stroke-width="0.75"/>
<circle cx="408.32" cy="62.18" r="1.05" fill="none" stroke="#ffa500" stroke-width="0.75"/>
<circle cx="412.11" cy="62.60" r="1.05" fill="none" stroke="#ffa500" stroke-width="0.75"/>
<circle cx="420.31" cy="67.11" r="1.05" fill="none" stroke="#ffa500" stroke-width="0.75"/>
<circle cx="413.90" cy="71.73" r="1.05" fill="none" stroke="#ffa500" stroke-width="0.75"/>
<circle cx="443.62" cy="69.72" r="1.05" fill="none" stroke="#ffa500" stroke-width="0.75"/>
<circle cx="408.14" cy="59.11" r="1.05" fill="none" stroke="#ffa500" stroke-width="0.75"/>
<circle cx="408.17" cy="55.14" r="1.05" fill="none" stroke="#ffa500" stroke-width="0.75"/>
<circle cx="405.82" cy="65.53" r="1.05" fill="none" stroke="#ffa500" stroke-width="0.75"/>
<circle cx="406.06" cy="56.64" r="1.05" fill="none" stroke="#ffa500" stroke-width="0.75"/>
<circle cx="405.84" cy="54.16" r="1.05" fill="none" stroke="#ffa500" stroke-width="0.75"/>
<circle cx="407.90" cy="64.43" r="1.05" fill="none" stroke="#ffa500" stroke-width="0.75"/>
<circle cx="406.53" cy="59.30" r="1.05" fill="none" stroke="#ffa500" stroke-width="0.75"/>
<circle cx="406.35" cy="59.20" r="1.05" fill="none" stroke="#ffa500" stroke-width="0.75"/>
<circle cx="406.23" cy="60.88" r="1.05" fill="none" stroke="#ffa500" stroke-width="0.75"/>
<circle cx="406.06" cy="55.13" r="1.05" fill="none" stroke="#ffa500" stroke-width="0.75"/>
<circle cx="407.42" cy="65.01" r="1.05" fill="none" stroke="#ffa500" stroke-width="0.75"/>
<circle cx="411.33" cy="63.72" r="1.05" fill="none" stroke="#ffa500" stroke-width="0.75"/>
<circle cx="417.26" cy="66.52" r="1.05" fill="none" stroke="#ffa500" stroke-width="0.75"/>
<circle cx="405.73" cy="57.85" r="1.05" fill="none" stroke="#ffa500" stroke-width="0.75"/>
<circle cx="425.00" cy="75.94" r="1.05" fill="none" stroke="#ffa500" stroke-width="0.75"/>
<circle cx="405.94" cy="61.99" r="1.05" fill="none" stroke="#ffa500" stroke-width="0.75"/>
<circle cx="409.19" cy="59.70" r="1.05" fill="none" stroke="#ffa500" stroke-width="0.75"/>
<circle cx="415.19" cy="80.19" r="1.05" fill="none" stroke="#ffa500" stroke-width="0.75"/>
<circle cx="407.55" cy="54.00" r="1.05" fill="none" stroke="#ffa500" stroke-width="0.75"/>
<circle cx="410.51" cy="68.92" r="1.05" fill="none" stroke="#ffa500" stroke-width="0.75"/>
<circle cx="406.43" cy="56.80" r="1.05" fill="none" stroke="#ffa500" stroke-width="0.75"/>
<circle cx="408.96" cy="56.90" r="1.05" fill="none" stroke="#ffa500" stroke-width="0.75"/>
<circle cx="423.23" cy="63.98" r="1.05" fill="none" stroke="#ffa500" stroke-width="0.75"/>
<circle cx="411.10" cy="53.63" r="1.05" fill="none" stroke="#ffa500" stroke-width="0.75"/>
<circle cx="405.63" cy="54.78" r="1.05" fill="none" stroke="#ffa500" stroke-width="0.75"/>
<circle cx="411.92" cy="57.34" r="1.05" fill="none" stroke="#ffa500" stroke-width="0.75"/>
<circle cx="405.64" cy="46.07" r="1.05" fill="none" stroke="#ffa500" stroke-width="0.75"/>
<circle cx="409.14" cy="52.75" r="1.05" fill="none" stroke="#ffa500" stroke-width="0.75"/>
<circle cx="428.09" cy="72.90" r="1.05" fill="none" stroke="#ffa500" stroke-width="0.75"/>
<circle cx="405.93" cy="56.52" r="1.05" fill="none" stroke="#ffa500" stroke-width="0.75"/>
<circle cx="417.62" cy="72.65" r="1.05" fill="none" stroke="#ffa500" stroke-width="0.75"/>
<circle cx="407.00" cy="69.35" r="1.05" fill="none" stroke="#ffa500" stroke-width="0.75"/>
<circle cx="408.72" cy="56.71" r="1.05" fill="none" stroke="#ffa500" stroke-width="0.75"/>
<circle cx="416.03" cy="62.85" r="1.05" fill="none" stroke="#ffa500" stroke-width="0.75"/>
<circle cx="419.83" cy="70.16" r="1.05" fill="none" stroke="#ffa500" stroke-width="0.75"/>
<circle cx="413.18" cy="59.09" r="1.05" fill="none" stroke="#ffa500" stroke-width="0.75"/>
<circle cx="407.19" cy="61.27" r="1.05" fill="none" stroke="#ffa500" stroke-width="0.75"/>
<circle cx="405.81" cy="63.74" r="1.05" fill="none" stroke="#ffa500" stroke-width="0.75"/>
<circle cx="414.61" cy="62.04" r="1.05" fill="none" stroke="#ffa500" stroke-width="0.75"/>
<circle cx="408.54" cy="58.62" r="1.05" fill="none" stroke="#ffa500" stroke-width="0.75"/>
<circle cx="409.69" cy="66.93" r="1.05" fill="none" stroke="#ffa500" stroke-width="0.75"/>
<circle cx="412.50" cy="70.44" r="1.05" fill="none" stroke="#ffa500" stroke-width="0.75"/>
<circle cx="405.66" cy="56.21" r="1.05" fill="none" stroke="#ffa500" stroke-width="0.75"/>
<circle cx="405.75" cy="65.78" r="1.05" fill="none" stroke="#ffa500" stroke-width="0.75"/>
<circle cx="414.57" cy="58.84" r="1.05" fill="none" stroke="#ffa500" stroke-width="0.75"/>
<circle cx="409.77" cy="73.18" r="1.05" fill="none" stroke="#ffa500" stroke-width="0.75"/>
<circle cx="409.11" cy="68.54" r="1.05" fill="none" stroke="#ffa500" stroke-width="0.75"/>
<circle cx="408.22" cy="59.05" r="1.05" fill="none" stroke="#ffa500" stroke-width="0.75"/>
<circle cx="406.02" cy="62.70" r="1.05" fill="none" stroke="#ffa500" stroke-width="0.75"/>
<circle cx="405.67" cy="64.26" r="1.05" fill="none" stroke="#ffa500" stroke-width="0.75"/>
<circle cx="405.98" cy="58.81" r="1.05" fill="none" stroke="#ffa500" stroke-width="0.75"/>
<circle cx="409.77" cy="61.50" r="1.05" fill="none" stroke="#ffa500" stroke-width="0.75"/>
<circle cx="435.44" cy="76.59" r="1.05" fill="none" stroke="#ffa500" stroke-width="0.75"/>
<circle cx="406.27" cy="62.77" r="1.05" fill="none" stroke="#ffa500" stroke-width="0.75"/>
<circle cx="406.22" cy="62.07" r="1.05" fill="none" stroke="#ffa500" stroke-width="0.75"/>
<circle cx="405.77" cy="66.48" r="1.05" fill="none" stroke="#ffa500" stroke-width="0.75"/>
<circle cx="405.77" cy="51.38" r="1.05" fill="none" stroke="#ffa500" stroke-width="0.75"/>
<circle cx="409.62" cy="59.10" r="1.05" fill="none" stroke="#ffa500" stroke-width="0.75"/>
<circle cx="407.56" cy="62.83" r="1.05" fill="none" stroke="#ffa500" stroke-width="0.75"/>
<circle cx="419.58" cy="66.12" r="1.05" fill="none" stroke="#ffa500" stroke-width="0.75"/>
<circle cx="405.60" cy="66.19" r="1.05" fill="none" stroke="#ffa500" stroke-width="0.75"/>
<circle cx="405.62" cy="54.75" r="1.05" fill="none" stroke="#ffa500" stroke-width="0.75"/>
<circle cx="406.42" cy="55.71" r="1.05" fill="none" stroke="#ffa500" stroke-width="0.75"/>
<circle cx="413.02" cy="65.38" r="1.05" fill="none" stroke="#ffa500" stroke-width="0.75"/>
<circle cx="406.43" cy="53.55" r="1.05" fill="none" stroke="#ffa500" stroke-width="0.75"/>
<circle cx="406.28" cy="53.44" r="1.05" fill="none" stroke="#ffa500" stroke-width="0.75"/>
<circle cx="405.85" cy="61.54" r="1.05" fill="none" stroke="#ffa500" stroke-width="0.75"/>
<circle cx="440.07" cy="77.55" r="1.05" fill="none" stroke="#ffa500" stroke-width="0.75"/>
<circle cx="411.62" cy="66.46" r="1.05" fill="none" stroke="#ffa500" stroke-width="0.75"/>
<circle cx="407.45" cy="57.16" r="1.05" fill="none" stroke="#ffa500" stroke-width="0.75"/>
<circle cx="407.18" cy="57.17" r="1.05" fill="none" stroke="#ffa500" stroke-width="0.75"/>
<circle cx="405.77" cy="54.71" r="1.05" fill="none" stroke="#ffa500" stroke-width="0.75"/>
<circle cx="419.90" cy="61.74" r="1.05" fill="none" stroke="#ffa500" stroke-width="0.75"/>
<circle cx="405.93" cy="55.31" r="1.05" fill="none" stroke="#ffa500" stroke-width="0.75"/>
<circle cx="407.89" cy="58.08" r="1.05" fill="none" stroke="#ffa500" stroke-width="0.75"/>
<circle cx="406.74" cy="62.48" r="1.05" fill="none" stroke="#ffa500" stroke-width="0.75"/>
<circle cx="408.73" cy="53.25" r="1.05" fill="none" stroke="#ffa500" stroke-width="0.75"/>
<circle cx="417.11" cy="70.21" r="1.05" fill="none" stroke="#ffa500" stroke-width="0.75"/>
<circle cx="412.81" cy="61.02" r="1.05" fill="none" stroke="#ffa500" stroke-width="0.75"/>
<circle cx="407.05" cy="63.73" r="1.05" fill="none" stroke="#ffa500" stroke-width="0.75"/>
<circle cx="410.30" cy="68.98" r="1.05" fill="none" stroke="#ffa500" stroke-width="0.75"/>
<circle cx="407.22" cy="59.07" r="1.05" fill="none" stroke="#ffa500" stroke-width="0.75"/>
<circle cx="406.41" cy="59.96" r="1.05" fill="none" stroke="#ffa500" stroke-width="0.75"/>
<circle cx="408.06" cy="66.04" r="1.05" fill="none" stroke="#ffa500" stroke-width="0.75"/>
<circle cx="409.23" cy="53.26" r="1.05" fill="none" stroke="#ffa500" stroke-width="0.75"/>
<circle cx="413.93" cy="67.19" r="1.05" fill="none" stroke="#ffa500" stroke-width="0.75"/>
<circle cx="412.10" cy="63.59" r="1.05" fill="none" stroke="#ffa500" stroke-width="0.75"/>
<circle cx="405.88" cy="59.91" r="1.05" fill="none" stroke="#ffa500" stroke-width="0.75"/>
<circle cx="413.62" cy="55.54" r="1.05" fill="none" stroke="#ffa500" stroke-width="0.75"/>
<circle cx="411.94" cy="61.16" r="1.05" fill="none" stroke="#ffa500" stroke-width="0.75"/>
<circle cx="422.61" cy="69.32" r="1.05" fill="none" stroke="#ffa500" stroke-width="0.75"/>
<circle cx="409.60" cy="52.49" r="1.05" fill="none" stroke="#ffa500" stroke-width="0.75"/>
<circle cx="415.53" cy="63.80" r="1.05" fill="none" stroke="#ffa500" stroke-width="0.75"/>
<circle cx="415.04" cy="67.59" r="1.05" fill="none" stroke="#ffa500" stroke-width="0.75"/>
<circle cx="406.12" cy="53.64" r="1.05" fill="none" stroke="#ffa500" stroke-width="0.75"/>
<circle cx="406.95" cy="61.88" r="1.05" fill="none" stroke="#ffa500" stroke-width="0.75"/>
<circle cx="406.88" cy="61.92" r="1.05" fill="none" stroke="#ffa500" stroke-width="0.75"/>
<circle cx="406.38" cy="74.35" r="1.05" fill="none" stroke="#ffa500" stroke-width="0.75"/>
<circle cx="417.11" cy="62.46" r="1.05" fill="none" stroke="#ffa500" stroke-width="0.75"/>
<circle cx="405.63" cy="61.08" r="1.05" fill="none" stroke="#ffa500" stroke-width="0.75"/>
<circle cx="405.84" cy="62.43" r="1.05" fill="none" stroke="#ffa500" stroke-width="0.75"/>
<circle cx="407.54" cy="64.91" r="1.05" fill="none" stroke="#ffa500" stroke-width="0.75"/>
<circle cx="413.85" cy="66.86" r="1.05" fill="none" stroke="#ffa500" stroke-width="0.75"/>
<circle cx="407.76" cy="67.16" r="1.05" fill="none" stroke="#ffa500" stroke-width="0.75"/>
<circle cx="411.54" cy="55.71" r="1.05" fill="none" stroke="#ffa500" stroke-width="0.75"/>
<circle cx="407.39" cy="55.48" r="1.05" fill="none" stroke="#ffa500" stroke-width="0.75"/>
<circle cx="407.87" cy="56.68" r="1.05" fill="none" stroke="#ffa500" stroke-width="0.75"/>
<circle cx="406.51" cy="61.54" r="1.05" fill="none" stroke="#ffa500" stroke-width="0.75"/>
<circle cx="407.02" cy="52.19" r="1.05" fill="none" stroke="#ffa500" stroke-width="0.75"/>
<circle cx="406.15" cy="53.34" r="1.05" fill="none" stroke="#ffa500" stroke-width="0.75"/>
<circle cx="408.15" cy="67.79" r="1.05" fill="none" stroke="#ffa500" stroke-width="0.75"/>
<circle cx="409.57" cy="60.09" r="1.05" fill="none" stroke="#ffa500" stroke-width="0.75"/>
<circle cx="405.82" cy="66.75" r="1.05" fill="none" stroke="#ffa500" stroke-width="0.75"/>
<circle cx="421.59" cy="62.96" r="1.05" fill="none" stroke="#ffa500" stroke-width="0.75"/>
<circle cx="409.89" cy="56.47" r="1.05" fill="none" stroke="#ffa500" stroke-width="0.75"/>
<circle cx="417.15" cy="75.86" r="1.05" fill="none" stroke="#ffa500" stroke-width="0.75"/>
<circle cx="408.83" cy="58.74" r="1.05" fill="none" stroke="#ffa500" stroke-width="0.75"/>
<circle cx="406.05" cy="51.71" r="1.05" fill="none" stroke="#ffa500" stroke-width="0.75"/>
<circle cx="414.84" cy="64.73" r="1.05" fill="none" stroke="#ffa500" stroke-width="0.75"/>
<circle cx="407.51" cy="52.06" r="1.05" fill="none" stroke="#ffa500" stroke-width="0.75"/>
<circle cx="413.63" cy="51.05" r="1.05" fill="none" stroke="#ffa500" stroke-width="0.75"/>
<circle cx="405.87" cy="51.07" r="1.05" fill="none" stroke="#ffa500" stroke-width="0.75"/>
<circle cx="408.13" cy="58.55" r="1.05" fill="none" stroke="#ffa500" stroke-width="0.75"/>
<circle cx="406.26" cy="55.85" r="1.05" fill="none" stroke="#ffa500" stroke-width="0.75"/>
<circle cx="408.81" cy="58.33" r="1.05" fill="none" stroke="#ffa500" stroke-width="0.75"/>
<circle cx="406.28" cy="60.74" r="1.05" fill="none" stroke="#ffa500" stroke-width="0.75"/>
<circle cx="405.65" cy="53.30" r="1.05" fill="none" stroke="#ffa500" stroke-width="0.75"/>
<circle cx="429.00" cy="68.61" r="1.05" fill="none" stroke="#ffa500" stroke-width="0.75"/>
<circle cx="425.65" cy="64.55" r="1.05" fill="none" stroke="#ffa500" stroke-width="0.75"/>
<circle cx="405.94" cy="56.04" r="1.05" fill="none" stroke="#ffa500" stroke-width="0.75"/>
<circle cx="408.05" cy="64.22" r="1.05" fill="none" stroke="#ffa500" stroke-width="0.75"/>
<circle cx="405.69" cy="52.92" r="1.05" fill="none" stroke="#ffa500" stroke-width="0.75"/>
<circle cx="408.61" cy="57.69" r="1.05" fill="none" stroke="#ffa500" stroke-width="0.75"/>
<circle cx="405.76" cy="51.96" r="1.05" fill="none" stroke="#ffa500" stroke-width="0.75"/>
<circle cx="409.49" cy="52.91" r="1.05" fill="none" stroke="#ffa500" stroke-width="0.75"/>
<circle cx="406.44" cy="51.38" r="1.05" fill="none" stroke="#ffa500" stroke-width="0.75"/>
<circle cx="410.77" cy="74.27" r="1.05" fill="none" stroke="#ffa500" stroke-width="0.75"/>
<circle cx="413.12" cy="64.45" r="1.05" fill="none" stroke="#ffa500" stroke-width="0.75"/>
<circle cx="410.53" cy="54.91" r="1.05" fill="none" stroke="#ffa500" stroke-width="0.75"/>
<circle cx="418.87" cy="76.56" r="1.05" fill="none" stroke="#ffa500" stroke-width="0.75"/>
<circle cx="410.59" cy="58.18" r="1.05" fill="none" stroke="#ffa500" stroke-width="0.75"/>
<circle cx="406.32" cy="55.57" r="1.05" fill="none" stroke="#ffa500" stroke-width="0.75"/>
<circle cx="405.68" cy="57.49" r="1.05" fill="none" stroke="#ffa500" stroke-width="0.75"/>
<circle cx="406.23" cy="55.63" r="1.05" fill="none" stroke="#ffa500" stroke-width="0.75"/>
<circle cx="408.52" cy="61.98" r="1.05" fill="none" stroke="#ffa500" stroke-width="0.75"/>
<circle cx="406.51" cy="58.02" r="1.05" fill="none" stroke="#ffa500" stroke-width="0.75"/>
<circle cx="406.01" cy="62.16" r="1.05" fill="none" stroke="#ffa500" stroke-width="0.75"/>
<circle cx="414.15" cy="70.09" r="1.05" fill="none" stroke="#ffa500" stroke-width="0.75"/>
<circle cx="406.09" cy="62.66" r="1.05" fill="none" stroke="#ffa500" stroke-width="0.75"/>
<circle cx="410.59" cy="61.29" r="1.05" fill="none" stroke="#ffa500" stroke-width="0.75"/>
<circle cx="406.16" cy="65.22" r="1.05" fill="none" stroke="#ffa500" stroke-width="0.75"/>
<circle cx="405.98" cy="55.30" r="1.05" fill="none" stroke="#ffa500" stroke-width="0.75"/>
<circle cx="409.23" cy="61.20" r="1.05" fill="none" stroke="#ffa500" stroke-width="0.75"/>
<circle cx="406.04" cy="58.00" r="1.05" fill="none" stroke="#ffa500" stroke-width="0.75"/>
<circle cx="407.48" cy="54.45" r="1.05" fill="none" stroke="#ffa500" stroke-width="0.75"/>
<circle cx="407.85" cy="48.62" r="1.05" fill="none" stroke="#ffa500" stroke-width="0.75"/>
<circle cx="405.60" cy="52.03" r="1.05" fill="none" stroke="#ffa500" stroke-width="0.75"/>
<circle cx="421.34" cy="63.08" r="1.05" fill="none" stroke="#ffa500" stroke-width="0.75"/>
<circle cx="409.15" cy="67.33" r="1.05" fill="none" stroke="#ffa500" stroke-width="0.75"/>
<circle cx="407.34" cy="54.99" r="1.05" fill="none" stroke="#ffa500" stroke-width="0.75"/>
<circle cx="405.98" cy="56.15" r="1.05" fill="none" stroke="#ffa500" stroke-width="0.75"/>
<circle cx="415.48" cy="66.59" r="1.05" fill="none" stroke="#ffa500" stroke-width="0.75"/>
<circle cx="408.22" cy="56.86" r="1.05" fill="none" stroke="#ffa500" stroke-width="0.75"/>
<circle cx="407.96" cy="65.93" r="1.05" fill="none" stroke="#ffa500" stroke-width="0.75"/>
<circle cx="408.43" cy="57.45" r="1.05" fill="none" stroke="#ffa500" stroke-width="0.75"/>
<circle cx="406.04" cy="56.73" r="1.05" fill="none" stroke="#ffa500" stroke-width="0.75"/>
<circle cx="405.60" cy="57.87" r="1.05" fill="none" stroke="#ffa500" stroke-width="0.75"/>
<circle cx="412.27" cy="70.21" r="1.05" fill="none" stroke="#ffa500" stroke-width="0.75"/>
<circle cx="419.24" cy="62.94" r="1.05" fill="none" stroke="#ffa500" stroke-width="0.75"/>
<circle cx="407.79" cy="65.17" r="1.05" fill="none" stroke="#ffa500" stroke-width="0.75"/>
<circle cx="409.41" cy="61.03" r="1.05" fill="none" stroke="#ffa500" stroke-width="0.75"/>
<circle cx="406.78" cy="51.98" r="1.05" fill="none" stroke="#ffa500" stroke-width="0.75"/>
<circle cx="405.69" cy="54.04" r="1.05" fill="none" stroke="#ffa500" stroke-width="0.75"/>
<circle cx="405.90" cy="61.01" r="1.05" fill="none" stroke="#ffa500" stroke-width="0.75"/>
<circle cx="416.85" cy="56.46" r="1.05" fill="none" stroke="#ffa500" stroke-width="0.75"/>
<circle cx="405.68" cy="57.75" r="1.05" fill="none" stroke="#ffa500" stroke-width="0.75"/>
<circle cx="407.32" cy="55.93" r="1.05" fill="none" stroke="#ffa500" stroke-width="0.75"/>
<circle cx="408.19" cy="59.40" r="1.05" fill="none" stroke="#ffa500" stroke-width="0.75"/>
<circle cx="405.91" cy="57.34" r="1.05" fill="none" stroke="#ffa500" stroke-width="0.75"/>
<circle cx="409.42" cy="63.37" r="1.05" fill="none" stroke="#ffa500" stroke-width="0.75"/>
<circle cx="405.72" cy="65.26" r="1.05" fill="none" stroke="#ffa500" stroke-width="0.75"/>
<circle cx="416.65" cy="68.78" r="1.05" fill="none" stroke="#ffa500" stroke-width="0.75"/>
<circle cx="410.98" cy="60.09" r="1.05" fill="none" stroke="#ffa500" stroke-width="0.75"/>
<circle cx="410.86" cy="52.22" r="1.05" fill="none" stroke="#ffa500" stroke-width="0.75"/>
<circle cx="405.74" cy="54.97" r="1.05" fill="none" stroke="#ffa500" stroke-width="0.75"/>
<circle cx="414.19" cy="59.04" r="1.05" fill="none" stroke="#ffa500" stroke-width="0.75"/>
<circle cx="405.74" cy="53.07" r="1.05" fill="none" stroke="#ffa500" stroke-width="0.75"/>
<circle cx="406.02" cy="63.72" r="1.05" fill="none" stroke="#ffa500" stroke-width="0.75"/>
<circle cx="409.39" cy="56.74" r="1.05" fill="none" stroke="#ffa500" stroke-width="0.75"/>
<circle cx="416.70" cy="58.44" r="1.05" fill="none" stroke="#ffa500" stroke-width="0.75"/>
<circle cx="412.41" cy="68.56" r="1.05" fill="none" stroke="#ffa500" stroke-width="0.75"/>
<circle cx="407.79" cy="61.90" r="1.05" fill="none" stroke="#ffa500" stroke-width="0.75"/>
<circle cx="408.81" cy="71.70" r="1.05" fill="none" stroke="#ffa500" stroke-width="0.75"/>
<circle cx="406.04" cy="64.89" r="1.05" fill="none" stroke="#ffa500" stroke-width="0.75"/>
<circle cx="407.16" cy="72.80" r="1.05" fill="none" stroke="#ffa500" stroke-width="0.75"/>
<circle cx="405.86" cy="64.30" r="1.05" fill="none" stroke="#ffa500" stroke-width="0.75"/>
<circle cx="411.49" cy="64.43" r="1.05" fill="none" stroke="#ffa500" stroke-width="0.75"/>
<circle cx="407.25" cy="64.15" r="1.05" fill="none" stroke="#ffa500" stroke-width="0.75"/>
<circle cx="411.16" cy="65.46" r="1.05" fill="none" stroke="#ffa500" stroke-width="0.75"/>
<circle cx="409.60" cy="63.55" r="1.05" fill="none" stroke="#ffa500" stroke-width="0.75"/>
<circle cx="407.99" cy="61.16" r="1.05" fill="none" stroke="#ffa500" stroke-width="0.75"/>
<circle cx="420.39" cy="63.49" r="1.05" fill="none" stroke="#ffa500" stroke-width="0.75"/>
<circle cx="435.63" cy="71.73" r="1.05" fill="none" stroke="#ffa500" stroke-width="0.75"/>
<circle cx="409.87" cy="54.44" r="1.05" fill="none" stroke="#ffa500" stroke-width="0.75"/>
<circle cx="419.90" cy="72.58" r="1.05" fill="none" stroke="#ffa500" stroke-width="0.75"/>
<circle cx="413.27" cy="70.59" r="1.05" fill="none" stroke="#ffa500" stroke-width="0.75"/>
<circle cx="406.68" cy="60.90" r="1.05" fill="none" stroke="#ffa500" stroke-width="0.75"/>
<circle cx="408.96" cy="53.03" r="1.05" fill="none" stroke="#ffa500" stroke-width="0.75"/>
<circle cx="432.78" cy="75.22" r="1.05" fill="none" stroke="#ffa500" stroke-width="0.75"/>
<circle cx="405.67" cy="59.55" r="1.05" fill="none" stroke="#ffa500" stroke-width="0.75"/>
<circle cx="405.60" cy="53.76" r="1.05" fill="none" stroke="#ffa500" stroke-width="0.75"/>
<circle cx="412.03" cy="61.73" r="1.05" fill="none" stroke="#ffa500" stroke-width="0.75"/>
<circle cx="411.71" cy="55.71" r="1.05" fill="none" stroke="#ffa500" stroke-width="0.75"/>
<circle cx="407.58" cy="62.99" r="1.05" fill="none" stroke="#ffa500" stroke-width="0.75"/>
<circle cx="414.64" cy="61.56" r="1.05" fill="none" stroke="#ffa500" stroke-width="0.75"/>
<circle cx="407.19" cy="53.64" r="1.05" fill="none" stroke="#ffa500" stroke-width="0.75"/>
<circle cx="412.53" cy="60.61" r="1.05" fill="none" stroke="#ffa500" stroke-width="0.75"/>
<circle cx="405.97" cy="62.98" r="1.05" fill="none" stroke="#ffa500" stroke-width="0.75"/>
<circle cx="408.70" cy="57.58" r="1.05" fill="none" stroke="#ffa500" stroke-width="0.75"/>
<circle cx="406.52" cy="48.66" r="1.05" fill="none" stroke="#ffa500" stroke-width="0.75"/>
<circle cx="406.23" cy="58.70" r="1.05" fill="none" stroke="#ffa500" stroke-width="0.75"/>
<circle cx="408.50" cy="49.92" r="1.05" fill="none" stroke="#ffa500" stroke-width="0.75"/>
<circle cx="424.45" cy="69.18" r="1.05" fill="none" stroke="#ffa500" stroke-width="0.75"/>
<circle cx="407.59" cy="61.64" r="1.05" fill="none" stroke="#ffa500" stroke-width="0.75"/>
<circle cx="406.68" cy="48.88" r="1.05" fill="none" stroke="#ffa500" stroke-width="0.75"/>
<circle cx="410.55" cy="55.35" r="1.05" fill="none" stroke="#ffa500" stroke-width="0.75"/>
<circle cx="406.42" cy="49.36" r="1.05" fill="none" stroke="#ffa500" stroke-width="0.75"/>
<circle cx="405.65" cy="60.00" r="1.05" fill="none" stroke="#ffa500" stroke-width="0.75"/>
<circle cx="419.16" cy="67.67" r="1.05" fill="none" stroke="#ffa500" stroke-width="0.75"/>
<circle cx="407.29" cy="56.33" r="1.05" fill="none" stroke="#ffa500" stroke-width="0.75"/>
<circle cx="405.65" cy="57.69" r="1.05" fill="none" stroke="#ffa500" stroke-width="0.75"/>
<circle cx="407.00" cy="54.00" r="1.05" fill="none" stroke="#ffa500" stroke-width="0.75"/>
<circle cx="405.84" cy="58.09" r="1.05" fill="none" stroke="#ffa500" stroke-width="0.75"/>
<circle cx="412.40" cy="66.55" r="1.05" fill="none" stroke="#ffa500" stroke-width="0.75"/>
<circle cx="407.13" cy="70.31" r="1.05" fill="none" stroke="#ffa500" stroke-width="0.75"/>
<circle cx="405.60" cy="53.84" r="1.05" fill="none" stroke="#ffa500" stroke-width="0.75"/>
<circle cx="405.66" cy="58.25" r="1.05" fill="none" stroke="#ffa500" stroke-width="0.75"/>
<circle cx="405.78" cy="52.86" r="1.05" fill="none" stroke="#ffa500" stroke-width="0.75"/>
<circle cx="405.61" cy="64.79" r="1.05" fill="none" stroke="#ffa500" stroke-width="0.75"/>
<circle cx="406.07" cy="60.07" r="1.05" fill="none" stroke="#ffa500" stroke-width="0.75"/>
<circle cx="407.20" cy="59.78" r="1.05" fill="none" stroke="#ffa500" stroke-width="0.75"/>
<circle cx="405.70" cy="53.83" r="1.05" fill="none" stroke="#ffa500" stroke-width="0.75"/>
<circle cx="405.71" cy="50.68" r="1.05" fill="none" stroke="#ffa500" stroke-width="0.75"/>
<circle cx="405.64" cy="56.65" r="1.05" fill="none" stroke="#ffa500" stroke-width="0.75"/>
<circle cx="406.86" cy="64.83" r="1.05" fill="none" stroke="#ffa500" stroke-width="0.75"/>
<circle cx="407.04" cy="56.61" r="1.05" fill="none" stroke="#ffa500" stroke-width="0.75"/>
<circle cx="407.76" cy="55.48" r="1.05" fill="none" stroke="#ffa500" stroke-width="0.75"/>
<circle cx="414.06" cy="62.23" r="1.05" fill="none" stroke="#ffa500" stroke-width="0.75"/>
<circle cx="407.10" cy="64.22" r="1.05" fill="none" stroke="#ffa500" stroke-width="0.75"/>
<circle cx="414.66" cy="65.83" r="1.05" fill="none" stroke="#ffa500" stroke-width="0.75"/>
<circle cx="410.94" cy="61.15" r="1.05" fill="none" stroke="#ffa500" stroke-width="0.75"/>
<circle cx="409.82" cy="63.01" r="1.05" fill="none" stroke="#ffa500" stroke-width="0.75"/>
<circle cx="405.86" cy="57.39" r="1.05" fill="none" stroke="#ffa500" stroke-width="0.75"/>
<circle cx="406.28" cy="73.06" r="1.05" fill="none" stroke="#ffa500" stroke-width="0.75"/>
<circle cx="406.74" cy="65.92" r="1.05" fill="none" stroke="#ffa500" stroke-width="0.75"/>
<circle cx="405.61" cy="62.98" r="1.05" fill="none" stroke="#ffa500" stroke-width="0.75"/>
<circle cx="407.11" cy="55.51" r="1.05" fill="none" stroke="#ffa500" stroke-width="0.75"/>
<circle cx="405.95" cy="52.20" r="1.05" fill="none" stroke="#ffa500" stroke-width="0.75"/>
<circle cx="405.70" cy="69.83" r="1.05" fill="none" stroke="#ffa500" stroke-width="0.75"/>
<circle cx="405.86" cy="66.50" r="1.05" fill="none" stroke="#ffa500" stroke-width="0.75"/>
<circle cx="408.76" cy="60.67" r="1.05" fill="none" stroke="#ffa500" stroke-width="0.75"/>
<circle cx="413.92" cy="53.13" r="1.05" fill="none" stroke="#ffa500" stroke-width="0.75"/>
<circle cx="407.57" cy="56.33" r="1.05" fill="none" stroke="#ffa500" stroke-width="0.75"/>
<circle cx="405.81" cy="51.84" r="1.05" fill="none" stroke="#ffa500" stroke-width="0.75"/>
<circle cx="412.21" cy="52.70" r="1.05" fill="none" stroke="#ffa500" stroke-width="0.75"/>
<circle cx="405.64" cy="58.32" r="1.05" fill="none" stroke="#ffa500" stroke-width="0.75"/>
<circle cx="415.77" cy="60.16" r="1.05" fill="none" stroke="#ffa500" stroke-width="0.75"/>
<circle cx="410.44" cy="53.95" r="1.05" fill="none" stroke="#ffa500" stroke-width="0.75"/>
<circle cx="405.76" cy="56.84" r="1.05" fill="none" stroke="#ffa500" stroke-width="0.75"/>
<circle cx="407.42" cy="59.37" r="1.05" fill="none" stroke="#ffa500" stroke-width="0.75"/>
<circle cx="419.89" cy="60.88" r="1.05" fill="none" stroke="#ffa500" stroke-width="0.75"/>
<circle cx="405.65" cy="60.23" r="1.05" fill="none" stroke="#ffa500" stroke-width="0.75"/>
<circle cx="409.99" cy="54.16" r="1.05" fill="none" stroke="#ffa500" stroke-width="0.75"/>
<circle cx="405.86" cy="62.87" r="1.05" fill="none" stroke="#ffa500" stroke-width="0.75"/>
<circle cx="406.64" cy="58.15" r="1.05" fill="none" stroke="#ffa500" stroke-width="0.75"/>
<circle cx="406.69" cy="55.16" r="1.05" fill="none" stroke="#ffa500" stroke-width="0.75"/>
<circle cx="405.71" cy="55.56" r="1.05" fill="none" stroke="#ffa500" stroke-width="0.75"/>
<circle cx="413.95" cy="72.83" r="1.05" fill="none" stroke="#ffa500" stroke-width="0.75"/>
<circle cx="409.59" cy="61.18" r="1.05" fill="none" stroke="#ffa500" stroke-width="0.75"/>
<circle cx="406.08" cy="56.50" r="1.05" fill="none" stroke="#ffa500" stroke-width="0.75"/>
<circle cx="406.42" cy="57.59" r="1.05" fill="none" stroke="#ffa500" stroke-width="0.75"/>
<circle cx="406.56" cy="55.59" r="1.05" fill="none" stroke="#ffa500" stroke-width="0.75"/>
<circle cx="407.93" cy="62.63" r="1.05" fill="none" stroke="#ffa500" stroke-width="0.75"/>
<circle cx="405.85" cy="50.99" r="1.05" fill="none" stroke="#ffa500" stroke-width="0.75"/>
<circle cx="405.87" cy="45.00" r="1.05" fill="none" stroke="#ffa500" stroke-width="0.75"/>
<circle cx="408.64" cy="58.96" r="1.05" fill="none" stroke="#ffa500" stroke-width="0.75"/>
<circle cx="406.20" cy="58.53" r="1.05" fill="none" stroke="#ffa500" stroke-width="0.75"/>
<circle cx="409.12" cy="64.22" r="1.05" fill="none" stroke="#ffa500" stroke-width="0.75"/>
<circle cx="406.84" cy="59.37" r="1.05" fill="none" stroke="#ffa500" stroke-width="0.75"/>
<circle cx="407.86" cy="55.30" r="1.05" fill="none" stroke="#ffa500" stroke-width="0.75"/>
<circle cx="408.08" cy="64.45" r="1.05" fill="none" stroke="#ffa500" stroke-width="0.75"/>
<circle cx="413.90" cy="56.93" r="1.05" fill="none" stroke="#ffa500" stroke-width="0.75"/>
<circle cx="408.09" cy="69.46" r="1.05" fill="none" stroke="#ffa500" stroke-width="0.75"/>
<circle cx="405.73" cy="61.95" r="1.05" fill="none" stroke="#ffa500" stroke-width="0.75"/>
<circle cx="405.95" cy="61.20" r="1.05" fill="none" stroke="#ffa500" stroke-width="0.75"/>
<circle cx="405.61" cy="65.51" r="1.05" fill="none" stroke="#ffa500" stroke-width="0.75"/>
<circle cx="406.36" cy="50.30" r="1.05" fill="none" stroke="#ffa500" stroke-width="0.75"/>
<circle cx="405.60" cy="67.45" r="1.05" fill="none" stroke="#ffa500" stroke-width="0.75"/>
<circle cx="406.36" cy="54.97" r="1.05" fill="none" stroke="#ffa500" stroke-width="0.75"/>
<circle cx="405.62" cy="62.50" r="1.05" fill="none" stroke="#ffa500" stroke-width="0.75"/>
<circle cx="412.30" cy="58.74" r="1.05" fill="none" stroke="#ffa500" stroke-width="0.75"/>
<circle cx="416.26" cy="58.23" r="1.05" fill="none" stroke="#ffa500" stroke-width="0.75"/>
<circle cx="407.09" cy="61.54" r="1.05" fill="none" stroke="#ffa500" stroke-width="0.75"/>
<circle cx="405.68" cy="58.67" r="1.05" fill="none" stroke="#ffa500" stroke-width="0.75"/>
<circle cx="406.37" cy="52.45" r="1.05" fill="none" stroke="#ffa500" stroke-width="0.75"/>
<circle cx="406.75" cy="64.27" r="1.05" fill="none" stroke="#ffa500" stroke-width="0.75"/>
<circle cx="415.10" cy="69.52" r="1.05" fill="none" stroke="#ffa500" stroke-width="0.75"/>
<circle cx="405.64" cy="55.25" r="1.05" fill="none" stroke="#ffa500" stroke-width="0.75"/>
<circle cx="433.57" cy="81.59" r="1.05" fill="none" stroke="#ffa500" stroke-width="0.75"/>
<circle cx="419.15" cy="63.70" r="1.05" fill="none" stroke="#ffa500" stroke-width="0.75"/>
<circle cx="406.35" cy="62.97" r="1.05" fill="none" stroke="#ffa500" stroke-width="0.75"/>
<circle cx="413.98" cy="64.91" r="1.05" fill="none" stroke="#ffa500" stroke-width="0.75"/>
<circle cx="406.98" cy="57.42" r="1.05" fill="none" stroke="#ffa500" stroke-width="0.75"/>
<circle cx="405.61" cy="56.11" r="1.05" fill="none" stroke="#ffa500" stroke-width="0.75"/>
<circle cx="407.71" cy="64.11" r="1.05" fill="none" stroke="#ffa500" stroke-width="0.75"/>
<circle cx="405.68" cy="65.53" r="1.05" fill="none" stroke="#ffa500" stroke-width="0.75"/>
<circle cx="406.11" cy="60.77" r="1.05" fill="none" stroke="#ffa500" stroke-width="0.75"/>
<circle cx="411.89" cy="55.32" r="1.05" fill="none" stroke="#ffa500" stroke-width="0.75"/>
<circle cx="413.91" cy="60.39" r="1.05" fill="none" stroke="#ffa500" stroke-width="0.75"/>
<circle cx="406.27" cy="55.16" r="1.05" fill="none" stroke="#ffa500" stroke-width="0.75"/>
<circle cx="407.21" cy="55.52" r="1.05" fill="none" stroke="#ffa500" stroke-width="0.75"/>
<circle cx="410.54" cy="61.53" r="1.05" fill="none" stroke="#ffa500" stroke-width="0.75"/>
<circle cx="406.15" cy="50.66" r="1.05" fill="none" stroke="#ffa500" stroke-width="0.75"/>
<circle cx="408.39" cy="53.71" r="1.05" fill="none" stroke="#ffa500" stroke-width="0.75"/>
<circle cx="424.28" cy="72.42" r="1.05" fill="none" stroke="#ffa500" stroke-width="0.75"/>
<circle cx="406.21" cy="48.95" r="1.05" fill="none" stroke="#ffa500" stroke-width="0.75"/>
<circle cx="405.74" cy="59.04" r="1.05" fill="none" stroke="#ffa500" stroke-width="0.75"/>
<circle cx="409.48" cy="55.98" r="1.05" fill="none" stroke="#ffa500" stroke-width="0.75"/>
<circle cx="412.78" cy="56.67" r="1.05" fill="none" stroke="#ffa500" stroke-width="0.75"/>
<circle cx="406.62" cy="53.77" r="1.05" fill="none" stroke="#ffa500" stroke-width="0.75"/>
<circle cx="406.48" cy="59.80" r="1.05" fill="none" stroke="#ffa500" stroke-width="0.75"/>
<circle cx="408.50" cy="61.65" r="1.05" fill="none" stroke="#ffa500" stroke-width="0.75"/>
<circle cx="406.82" cy="57.29" r="1.05" fill="none" stroke="#ffa500" stroke-width="0.75"/>
<circle cx="410.57" cy="59.42" r="1.05" fill="none" stroke="#ffa500" stroke-width="0.75"/>
<circle cx="407.20" cy="60.89" r="1.05" fill="none" stroke="#ffa500" stroke-width="0.75"/>
<circle cx="405.62" cy="57.64" r="1.05" fill="none" stroke="#ffa500" stroke-width="0.75"/>
<circle cx="406.59" cy="66.26" r="1.05" fill="none" stroke="#ffa500" stroke-width="0.75"/>
<circle cx="413.58" cy="56.39" r="1.05" fill="none" stroke="#ffa500" stroke-width="0.75"/>
<circle cx="408.13" cy="58.72" r="1.05" fill="none" stroke="#ffa500" stroke-width="0.75"/>
<circle cx="407.69" cy="64.55" r="1.05" fill="none" stroke="#ffa500" stroke-width="0.75"/>
<circle cx="410.62" cy="69.14" r="1.05" fill="none" stroke="#ffa500" stroke-width="0.75"/>
<circle cx="405.70" cy="58.62" r="1.05" fill="none" stroke="#ffa500" stroke-width="0.75"/>
<circle cx="406.92" cy="53.57" r="1.05" fill="none" stroke="#ffa500" stroke-width="0.75"/>
<circle cx="408.62" cy="52.13" r="1.05" fill="none" stroke="#ffa500" stroke-width="0.75"/>
<circle cx="405.75" cy="64.65" r="1.05" fill="none" stroke="#ffa500" stroke-width="0.75"/>
<circle cx="407.78" cy="50.77" r="1.05" fill="none" stroke="#ffa500" stroke-width="0.75"/>
<circle cx="405.99" cy="55.13" r="1.05" fill="none" stroke="#ffa500" stroke-width="0.75"/>
<circle cx="408.64" cy="61.80" r="1.05" fill="none" stroke="#ffa500" stroke-width="0.75"/>
<circle cx="410.37" cy="63.86" r="1.05" fill="none" stroke="#ffa500" stroke-width="0.75"/>
<circle cx="407.35" cy="56.19" r="1.05" fill="none" stroke="#ffa500" stroke-width="0.75"/>
<circle cx="417.07" cy="64.33" r="1.05" fill="none" stroke="#ffa500" stroke-width="0.75"/>
<circle cx="407.72" cy="53.89" r="1.05" fill="none" stroke="#ffa500" stroke-width="0.75"/>
<circle cx="409.47" cy="59.18" r="1.05" fill="none" stroke="#ffa500" stroke-width="0.75"/>
<circle cx="406.27" cy="50.04" r="1.05" fill="none" stroke="#ffa500" stroke-width="0.75"/>
<circle cx="405.62" cy="62.47" r="1.05" fill="none" stroke="#ffa500" stroke-width="0.75"/>
<circle cx="408.47" cy="64.65" r="1.05" fill="none" stroke="#ffa500" stroke-width="0.75"/>
<circle cx="407.44" cy="51.85" r="1.05" fill="none" stroke="#ffa500" stroke-width="0.75"/>
<circle cx="409.45" cy="63.56" r="1.05" fill="none" stroke="#ffa500" stroke-width="0.75"/>
<circle cx="412.56" cy="67.90" r="1.05" fill="none" stroke="#ffa500" stroke-width="0.75"/>
<circle cx="405.64" cy="60.01" r="1.05" fill="none" stroke="#ffa500" stroke-width="0.75"/>
<circle cx="406.99" cy="68.14" r="1.05" fill="none" stroke="#ffa500" stroke-width="0.75"/>
<circle cx="407.16" cy="51.07" r="1.05" fill="none" stroke="#ffa500" stroke-width="0.75"/>
<circle cx="414.87" cy="61.01" r="1.05" fill="none" stroke="#ffa500" stroke-width="0.75"/>
<circle cx="406.84" cy="60.35" r="1.05" fill="none" stroke="#ffa500" stroke-width="0.75"/>
<circle cx="405.92" cy="54.09" r="1.05" fill="none" stroke="#ffa500" stroke-width="0.75"/>
<circle cx="406.83" cy="67.80" r="1.05" fill="none" stroke="#ffa500" stroke-width="0.75"/>
<circle cx="407.90" cy="49.18" r="1.05" fill="none" stroke="#ffa500" stroke-width="0.75"/>
<circle cx="409.94" cy="66.21" r="1.05" fill="none" stroke="#ffa500" stroke-width="0.75"/>
<circle cx="406.21" cy="57.02" r="1.05" fill="none" stroke="#ffa500" stroke-width="0.75"/>
<circle cx="406.06" cy="54.14" r="1.05" fill="none" stroke="#ffa500" stroke-width="0.75"/>
<circle cx="409.94" cy="71.94" r="1.05" fill="none" stroke="#ffa500" stroke-width="0.75"/>
<circle cx="410.08" cy="61.45" r="1.05" fill="none" stroke="#ffa500" stroke-width="0.75"/>
<circle cx="405.84" cy="60.10" r="1.05" fill="none" stroke="#ffa500" stroke-width="0.75"/>
<circle cx="409.33" cy="62.86" r="1.05" fill="none" stroke="#ffa500" stroke-width="0.75"/>
<circle cx="408.25" cy="55.28" r="1.05" fill="none" stroke="#ffa500" stroke-width="0.75"/>
<circle cx="416.95" cy="66.74" r="1.05" fill="none" stroke="#ffa500" stroke-width="0.75"/>
<circle cx="407.66" cy="58.36" r="1.05" fill="none" stroke="#ffa500" stroke-width="0.75"/>
<circle cx="405.63" cy="59.24" r="1.05" fill="none" stroke="#ffa500" stroke-width="0.75"/>
<circle cx="406.35" cy="58.77" r="1.05" fill="none" stroke="#ffa500" stroke-width="0.75"/>
<circle cx="406.09" cy="59.92" r="1.05" fill="none" stroke="#ffa500" stroke-width="0.75"/>
<circle cx="409.72" cy="51.93" r="1.05" fill="none" stroke="#ffa500" stroke-width="0.75"/>
<circle cx="410.23" cy="74.83" r="1.05" fill="none" stroke="#ffa500" stroke-width="0.75"/>
<circle cx="406.99" cy="61.78" r="1.05" fill="none" stroke="#ffa500" stroke-width="0.75"/>
<circle cx="405.84" cy="52.58" r="1.05" fill="none" stroke="#ffa500" stroke-width="0.75"/>
<circle cx="405.62" cy="51.64" r="1.05" fill="none" stroke="#ffa500" stroke-width="0.75"/>
<circle cx="410.33" cy="63.75" r="1.05" fill="none" stroke="#ffa500" stroke-width="0.75"/>
<circle cx="405.88" cy="63.21" r="1.05" fill="none" stroke="#ffa500" stroke-width="0.75"/>
<circle cx="407.74" cy="53.10" r="1.05" fill="none" stroke="#ffa500" stroke-width="0.75"/>
<circle cx="405.71" cy="53.05" r="1.05" fill="none" stroke="#ffa500" stroke-width="0.75"/>
<circle cx="411.01" cy="57.98" r="1.05" fill="none" stroke="#ffa500" stroke-width="0.75"/>
<circle cx="412.63" cy="60.69" r="1.05" fill="none" stroke="#ffa500" stroke-width="0.75"/>
<circle cx="406.34" cy="60.28" r="1.05" fill="none" stroke="#ffa500" stroke-width="0.75"/>
<circle cx="405.96" cy="59.89" r="1.05" fill="none" stroke="#ffa500" stroke-width="0.75"/>
<circle cx="405.71" cy="58.92" r="1.05" fill="none" stroke="#ffa500" stroke-width="0.75"/>
<circle cx="437.86" cy="64.31" r="1.05" fill="none" stroke="#ffa500" stroke-width="0.75"/>
<circle cx="406.05" cy="55.30" r="1.05" fill="none" stroke="#ffa500" stroke-width="0.75"/>
<circle cx="406.74" cy="49.54" r="1.05" fill="none" stroke="#ffa500" stroke-width="0.75"/>
<circle cx="412.13" cy="60.30" r="1.05" fill="none" stroke="#ffa500" stroke-width="0.75"/>
<circle cx="406.75" cy="61.52" r="1.05" fill="none" stroke="#ffa500" stroke-width="0.75"/>
<circle cx="406.26" cy="49.92" r="1.05" fill="none" stroke="#ffa500" stroke-width="0.75"/>
<circle cx="417.74" cy="57.38" r="1.05" fill="none" stroke="#ffa500" stroke-width="0.75"/>
<circle cx="411.41" cy="64.18" r="1.05" fill="none" stroke="#ffa500" stroke-width="0.75"/>
<circle cx="452.70" cy="77.97" r="1.05" fill="none" stroke="#ffa500" stroke-width="0.75"/>
<circle cx="406.39" cy="59.00" r="1.05" fill="none" stroke="#ffa500" stroke-width="0.75"/>
<circle cx="407.98" cy="68.16" r="1.05" fill="none" stroke="#ffa500" stroke-width="0.75"/>
<circle cx="408.39" cy="57.59" r="1.05" fill="none" stroke="#ffa500" stroke-width="0.75"/>
<circle cx="406.21" cy="56.81" r="1.05" fill="none" stroke="#ffa500" stroke-width="0.75"/>
<circle cx="410.56" cy="58.50" r="1.05" fill="none" stroke="#ffa500" stroke-width="0.75"/>
<circle cx="409.66" cy="63.42" r="1.05" fill="none" stroke="#ffa500" stroke-width="0.75"/>
<circle cx="405.96" cy="57.03" r="1.05" fill="none" stroke="#ffa500" stroke-width="0.75"/>
<circle cx="412.42" cy="59.23" r="1.05" fill="none" stroke="#ffa500" stroke-width="0.75"/>
<circle cx="406.26" cy="66.59" r="1.05" fill="none" stroke="#ffa500" stroke-width="0.75"/>
<circle cx="414.10" cy="60.74" r="1.05" fill="none" stroke="#ffa500" stroke-width="0.75"/>
<circle cx="406.01" cy="59.82" r="1.05" fill="none" stroke="#ffa500" stroke-width="0.75"/>
<circle cx="405.81" cy="61.76" r="1.05" fill="none" stroke="#ffa500" stroke-width="0.75"/>
<circle cx="412.46" cy="64.64" r="1.05" fill="none" stroke="#ffa500" stroke-width="0.75"/>
<circle cx="414.49" cy="62.83" r="1.05" fill="none" stroke="#ffa500" stroke-width="0.75"/>
<circle cx="405.69" cy="57.98" r="1.05" fill="none" stroke="#ffa500" stroke-width="0.75"/>
<circle cx="405.77" cy="58.04" r="1.05" fill="none" stroke="#ffa500" stroke-width="0.75"/>
<circle cx="405.88" cy="57.18" r="1.05" fill="none" stroke="#ffa500" stroke-width="0.75"/>
<circle cx="418.22" cy="62.07" r="1.05" fill="none" stroke="#ffa500" stroke-width="0.75"/>
<circle cx="407.50" cy="58.46" r="1.05" fill="none" stroke="#ffa500" stroke-width="0.75"/>
<circle cx="406.91" cy="49.86" r="1.05" fill="none" stroke="#ffa500" stroke-width="0.75"/>
<circle cx="409.57" cy="70.88" r="1.05" fill="none" stroke="#ffa500" stroke-width="0.75"/>
<circle cx="406.48" cy="56.79" r="1.05" fill="none" stroke="#ffa500" stroke-width="0.75"/>
<circle cx="407.22" cy="66.54" r="1.05" fill="none" stroke="#ffa500" stroke-width="0.75"/>
<circle cx="415.75" cy="58.00" r="1.05" fill="none" stroke="#ffa500" stroke-width="0.75"/>
<circle cx="406.89" cy="66.35" r="1.05" fill="none" stroke="#ffa500" stroke-width="0.75"/>
<circle cx="405.60" cy="61.25" r="1.05" fill="none" stroke="#ffa500" stroke-width="0.75"/>
<circle cx="405.62" cy="58.17" r="1.05" fill="none" stroke="#ffa500" stroke-width="0.75"/>
<circle cx="407.11" cy="62.08" r="1.05" fill="none" stroke="#ffa500" stroke-width="0.75"/>
<circle cx="405.60" cy="60.84" r="1.05" fill="none" stroke="#ffa500" stroke-width="0.75"/>
<circle cx="405.60" cy="56.22" r="1.05" fill="none" stroke="#ffa500" stroke-width="0.75"/>
<circle cx="407.32" cy="59.41" r="1.05" fill="none" stroke="#ffa500" stroke-width="0.75"/>
<circle cx="406.06" cy="61.47" r="1.05" fill="none" stroke="#ffa500" stroke-width="0.75"/>
<circle cx="406.03" cy="58.01" r="1.05" fill="none" stroke="#ffa500" stroke-width="0.75"/>
<circle cx="406.55" cy="58.95" r="1.05" fill="none" stroke="#ffa500" stroke-width="0.75"/>
<circle cx="405.63" cy="56.66" r="1.05" fill="none" stroke="#ffa500" stroke-width="0.75"/>
<circle cx="434.50" cy="67.27" r="1.05" fill="none" stroke="#ffa500" stroke-width="0.75"/>
<circle cx="407.57" cy="60.26" r="1.05" fill="none" stroke="#ffa500" stroke-width="0.75"/>
<circle cx="405.63" cy="51.12" r="1.05" fill="none" stroke="#ffa500" stroke-width="0.75"/>
<circle cx="408.60" cy="68.02" r="1.05" fill="none" stroke="#ffa500" stroke-width="0.75"/>
<circle cx="406.37" cy="62.39" r="1.05" fill="none" stroke="#ffa500" stroke-width="0.75"/>
<circle cx="406.90" cy="55.81" r="1.05" fill="none" stroke="#ffa500" stroke-width="0.75"/>
<circle cx="405.62" cy="53.33" r="1.05" fill="none" stroke="#ffa500" stroke-width="0.75"/>
<circle cx="408.19" cy="62.08" r="1.05" fill="none" stroke="#ffa500" stroke-width="0.75"/>
<circle cx="408.53" cy="57.36" r="1.05" fill="none" stroke="#ffa500" stroke-width="0.75"/>
<circle cx="410.10" cy="58.28" r="1.05" fill="none" stroke="#ffa500" stroke-width="0.75"/>
<circle cx="405.89" cy="57.63" r="1.05" fill="none" stroke="#ffa500" stroke-width="0.75"/>
<circle cx="408.46" cy="53.66" r="1.05" fill="none" stroke="#ffa500" stroke-width="0.75"/>
<circle cx="406.12" cy="56.93" r="1.05" fill="none" stroke="#ffa500" stroke-width="0.75"/>
<circle cx="424.56" cy="66.91" r="1.05" fill="none" stroke="#ffa500" stroke-width="0.75"/>
<circle cx="405.63" cy="58.87" r="1.05" fill="none" stroke="#ffa500" stroke-width="0.75"/>
<circle cx="405.63" cy="56.82" r="1.05" fill="none" stroke="#ffa500" stroke-width="0.75"/>
<circle cx="406.44" cy="56.60" r="1.05" fill="none" stroke="#ffa500" stroke-width="0.75"/>
<circle cx="410.42" cy="62.00" r="1.05" fill="none" stroke="#ffa500" stroke-width="0.75"/>
<circle cx="405.88" cy="55.90" r="1.05" fill="none" stroke="#ffa500" stroke-width="0.75"/>
<circle cx="418.95" cy="63.82" r="1.05" fill="none" stroke="#ffa500" stroke-width="0.75"/>
<circle cx="405.67" cy="61.11" r="1.05" fill="none" stroke="#ffa500" stroke-width="0.75"/>
<circle cx="411.50" cy="59.77" r="1.05" fill="none" stroke="#ffa500" stroke-width="0.75"/>
<circle cx="405.97" cy="57.44" r="1.05" fill="none" stroke="#ffa500" stroke-width="0.75"/>
<circle cx="405.77" cy="53.40" r="1.05" fill="none" stroke="#ffa500" stroke-width="0.75"/>
<circle cx="419.63" cy="65.41" r="1.05" fill="none" stroke="#ffa500" stroke-width="0.75"/>
<circle cx="406.20" cy="52.11" r="1.05" fill="none" stroke="#ffa500" stroke-width="0.75"/>
<circle cx="405.91" cy="67.62" r="1.05" fill="none" stroke="#ffa500" stroke-width="0.75"/>
<circle cx="409.35" cy="58.39" r="1.05" fill="none" stroke="#ffa500" stroke-width="0.75"/>
<circle cx="412.19" cy="65.88" r="1.05" fill="none" stroke="#ffa500" stroke-width="0.75"/>
<circle cx="405.60" cy="59.96" r="1.05" fill="none" stroke="#ffa500" stroke-width="0.75"/>
<circle cx="410.93" cy="56.02" r="1.05" fill="none" stroke="#ffa500" stroke-width="0.75"/>
<circle cx="405.61" cy="64.33" r="1.05" fill="none" stroke="#ffa500" stroke-width="0.75"/>
<circle cx="416.87" cy="69.12" r="1.05" fill="none" stroke="#ffa500" stroke-width="0.75"/>
<circle cx="407.28" cy="59.74" r="1.05" fill="none" stroke="#ffa500" stroke-width="0.75"/>
<circle cx="410.13" cy="64.57" r="1.05" fill="none" stroke="#ffa500" stroke-width="0.75"/>
<circle cx="406.18" cy="63.11" r="1.05" fill="none" stroke="#ffa500" stroke-width="0.75"/>
<circle cx="417.91" cy="74.71" r="1.05" fill="none" stroke="#ffa500" stroke-width="0.75"/>
<circle cx="406.38" cy="49.73" r="1.05" fill="none" stroke="#ffa500" stroke-width="0.75"/>
<circle cx="405.60" cy="51.52" r="1.05" fill="none" stroke="#ffa500" stroke-width="0.75"/>
<circle cx="408.91" cy="61.76" r="1.05" fill="none" stroke="#ffa500" stroke-width="0.75"/>
<circle cx="410.26" cy="61.45" r="1.05" fill="none" stroke="#ffa500" stroke-width="0.75"/>
<circle cx="409.83" cy="54.42" r="1.05" fill="none" stroke="#ffa500" stroke-width="0.75"/>
<circle cx="407.26" cy="60.58" r="1.05" fill="none" stroke="#ffa500" stroke-width="0.75"/>
<circle cx="406.75" cy="57.71" r="1.05" fill="none" stroke="#ffa500" stroke-width="0.75"/>
<circle cx="405.61" cy="54.49" r="1.05" fill="none" stroke="#ffa500" stroke-width="0.75"/>
<circle cx="407.87" cy="64.98" r="1.05" fill="none" stroke="#ffa500" stroke-width="0.75"/>
<circle cx="408.35" cy="60.96" r="1.05" fill="none" stroke="#ffa500" stroke-width="0.75"/>
<circle cx="406.95" cy="61.51" r="1.05" fill="none" stroke="#ffa500" stroke-width="0.75"/>
<circle cx="432.71" cy="71.73" r="1.05" fill="none" stroke="#ffa500" stroke-width="0.75"/>
<circle cx="424.96" cy="75.50" r="1.05" fill="none" stroke="#ffa500" stroke-width="0.75"/>
<circle cx="410.20" cy="53.19" r="1.05" fill="none" stroke="#ffa500" stroke-width="0.75"/>
<circle cx="408.67" cy="66.26" r="1.05" fill="none" stroke="#ffa500" stroke-width="0.75"/>
<circle cx="411.39" cy="71.20" r="1.05" fill="none" stroke="#ffa500" stroke-width="0.75"/>
<circle cx="407.13" cy="55.22" r="1.05" fill="none" stroke="#ffa500" stroke-width="0.75"/>
<circle cx="409.44" cy="60.65" r="1.05" fill="none" stroke="#ffa500" stroke-width="0.75"/>
<circle cx="405.61" cy="58.21" r="1.05" fill="none" stroke="#ffa500" stroke-width="0.75"/>
<circle cx="415.25" cy="58.48" r="1.05" fill="none" stroke="#ffa500" stroke-width="0.75"/>
<circle cx="405.83" cy="60.91" r="1.05" fill="none" stroke="#ffa500" stroke-width="0.75"/>
<circle cx="406.03" cy="62.72" r="1.05" fill="none" stroke="#ffa500" stroke-width="0.75"/>
<circle cx="408.18" cy="50.32" r="1.05" fill="none" stroke="#ffa500" stroke-width="0.75"/>
<circle cx="405.62" cy="57.05" r="1.05" fill="none" stroke="#ffa500" stroke-width="0.75"/>
<circle cx="406.87" cy="57.84" r="1.05" fill="none" stroke="#ffa500" stroke-width="0.75"/>
<circle cx="406.44" cy="54.06" r="1.05" fill="none" stroke="#ffa500" stroke-width="0.75"/>
<circle cx="405.90" cy="60.52" r="1.05" fill="none" stroke="#ffa500" stroke-width="0.75"/>
<circle cx="407.68" cy="52.94" r="1.05" fill="none" stroke="#ffa500" stroke-width="0.75"/>
<circle cx="407.40" cy="67.56" r="1.05" fill="none" stroke="#ffa500" stroke-width="0.75"/>
<circle cx="408.24" cy="51.36" r="1.05" fill="none" stroke="#ffa500" stroke-width="0.75"/>
<circle cx="409.66" cy="57.13" r="1.05" fill="none" stroke="#ffa500" stroke-width="0.75"/>
<circle cx="408.62" cy="55.49" r="1.05" fill="none" stroke="#ffa500" stroke-width="0.75"/>
<circle cx="406.90" cy="60.56" r="1.05" fill="none" stroke="#ffa500" stroke-width="0.75"/>
<circle cx="405.80" cy="57.92" r="1.05" fill="none" stroke="#ffa500" stroke-width="0.75"/>
<circle cx="407.36" cy="52.92" r="1.05" fill="none" stroke="#ffa500" stroke-width="0.75"/>
<circle cx="406.56" cy="56.62" r="1.05" fill="none" stroke="#ffa500" stroke-width="0.75"/>
<circle cx="406.10" cy="51.81" r="1.05" fill="none" stroke="#ffa500" stroke-width="0.75"/>
<circle cx="412.15" cy="65.91" r="1.05" fill="none" stroke="#ffa500" stroke-width="0.75"/>
<circle cx="405.98" cy="62.70" r="1.05" fill="none" stroke="#ffa500" stroke-width="0.75"/>
<circle cx="405.66" cy="53.65" r="1.05" fill="none" stroke="#ffa500" stroke-width="0.75"/>
<circle cx="409.04" cy="54.69" r="1.05" fill="none" stroke="#ffa500" stroke-width="0.75"/>
<circle cx="406.66" cy="61.24" r="1.05" fill="none" stroke="#ffa500" stroke-width="0.75"/>
<circle cx="410.64" cy="76.45" r="1.05" fill="none" stroke="#ffa500" stroke-width="0.75"/>
<circle cx="412.35" cy="68.99" r="1.05" fill="none" stroke="#ffa500" stroke-width="0.75"/>
<circle cx="405.60" cy="56.55" r="1.05" fill="none" stroke="#ffa500" stroke-width="0.75"/>
<circle cx="405.63" cy="53.17" r="1.05" fill="none" stroke="#ffa500" stroke-width="0.75"/>
<circle cx="409.56" cy="64.63" r="1.05" fill="none" stroke="#ffa500" stroke-width="0.75"/>
<circle cx="409.70" cy="54.78" r="1.05" fill="none" stroke="#ffa500" stroke-width="0.75"/>
<circle cx="406.72" cy="67.82" r="1.05" fill="none" stroke="#ffa500" stroke-width="0.75"/>
<circle cx="409.18" cy="61.06" r="1.05" fill="none" stroke="#ffa500" stroke-width="0.75"/>
<circle cx="409.46" cy="67.93" r="1.05" fill="none" stroke="#ffa500" stroke-width="0.75"/>
<circle cx="408.08" cy="52.62" r="1.05" fill="none" stroke="#ffa500" stroke-width="0.75"/>
<circle cx="409.88" cy="69.54" r="1.05" fill="none" stroke="#ffa500" stroke-width="0.75"/>
<circle cx="410.40" cy="72.27" r="1.05" fill="none" stroke="#ffa500" stroke-width="0.75"/>
<circle cx="415.90" cy="54.09" r="1.05" fill="none" stroke="#ffa500" stroke-width="0.75"/>
<circle cx="406.44" cy="57.45" r="1.05" fill="none" stroke="#ffa500" stroke-width="0.75"/>
<circle cx="420.82" cy="64.83" r="1.05" fill="none" stroke="#ffa500" stroke-width="0.75"/>
<circle cx="419.32" cy="73.47" r="1.05" fill="none" stroke="#ffa500" stroke-width="0.75"/>
<circle cx="406.10" cy="58.29" r="1.05" fill="none" stroke="#ffa500" stroke-width="0.75"/>
<circle cx="415.36" cy="60.73" r="1.05" fill="none" stroke="#ffa500" stroke-width="0.75"/>
<circle cx="410.98" cy="67.50" r="1.05" fill="none" stroke="#ffa500" stroke-width="0.75"/>
<circle cx="408.05" cy="73.78" r="1.05" fill="none" stroke="#ffa500" stroke-width="0.75"/>
<circle cx="409.07" cy="61.56" r="1.05" fill="none" stroke="#ffa500" stroke-width="0.75"/>
<circle cx="408.31" cy="67.69" r="1.05" fill="none" stroke="#ffa500" stroke-width="0.75"/>
<circle cx="407.11" cy="63.28" r="1.05" fill="none" stroke="#ffa500" stroke-width="0.75"/>
<circle cx="406.52" cy="58.08" r="1.05" fill="none" stroke="#ffa500" stroke-width="0.75"/>
<circle cx="405.72" cy="54.65" r="1.05" fill="none" stroke="#ffa500" stroke-width="0.75"/>
<circle cx="405.84" cy="59.17" r="1.05" fill="none" stroke="#ffa500" stroke-width="0.75"/>
<circle cx="410.63" cy="53.96" r="1.05" fill="none" stroke="#ffa500" stroke-width="0.75"/>
<circle cx="408.26" cy="59.35" r="1.05" fill="none" stroke="#ffa500" stroke-width="0.75"/>
<circle cx="407.23" cy="59.33" r="1.05" fill="none" stroke="#ffa500" stroke-width="0.75"/>
<circle cx="408.90" cy="58.32" r="1.05" fill="none" stroke="#ffa500" stroke-width="0.75"/>
<circle cx="407.66" cy="51.51" r="1.05" fill="none" stroke="#ffa500" stroke-width="0.75"/>
<circle cx="408.66" cy="61.02" r="1.05" fill="none" stroke="#ffa500" stroke-width="0.75"/>
<circle cx="412.58" cy="59.04" r="1.05" fill="none" stroke="#ffa500" stroke-width="0.75"/>
<circle cx="406.73" cy="59.80" r="1.05" fill="none" stroke="#ffa500" stroke-width="0.75"/>
<circle cx="410.07" cy="57.53" r="1.05" fill="none" stroke="#ffa500" stroke-width="0.75"/>
<circle cx="411.88" cy="71.17" r="1.05" fill="none" stroke="#ffa500" stroke-width="0.75"/>
<circle cx="406.81" cy="59.52" r="1.05" fill="none" stroke="#ffa500" stroke-width="0.75"/>
<circle cx="409.09" cy="63.25" r="1.05" fill="none" stroke="#ffa500" stroke-width="0.75"/>
<circle cx="414.13" cy="62.01" r="1.05" fill="none" stroke="#ffa500" stroke-width="0.75"/>
<circle cx="405.73" cy="54.65" r="1.05" fill="none" stroke="#ffa500" stroke-width="0.75"/>
<circle cx="408.46" cy="56.96" r="1.05" fill="none" stroke="#ffa500" stroke-width="0.75"/>
<circle cx="416.24" cy="63.34" r="1.05" fill="none" stroke="#ffa500" stroke-width="0.75"/>
<circle cx="405.72" cy="54.16" r="1.05" fill="none" stroke="#ffa500" stroke-width="0.75"/>
<circle cx="406.54" cy="54.41" r="1.05" fill="none" stroke="#ffa500" stroke-width="0.75"/>
<circle cx="406.92" cy="56.07" r="1.05" fill="none" stroke="#ffa500" stroke-width="0.75"/>
<circle cx="405.82" cy="63.77" r="1.05" fill="none" stroke="#ffa500" stroke-width="0.75"/>
<circle cx="405.94" cy="63.27" r="1.05" fill="none" stroke="#ffa500" stroke-width="0.75"/>
<circle cx="405.85" cy="61.38" r="1.05" fill="none" stroke="#ffa500" stroke-width="0.75"/>
</g>
<polygon points="402.20,57.38 409.00,57.38 405.60,52.18" fill="none" stroke="#000" stroke-width="1.2"/>
<circle cx="407.78" cy="59.68" r="3.7" fill="#00008b"/>
<path d="M401.70,86.80L409.50,86.80M402.84,84.04L408.36,89.56M405.60,82.90L405.60,90.70M408.36,84.04L402.84,89.56" stroke="#000" stroke-width="1.1" fill="none"/>
<circle cx="405.60" cy="86.80" r="1.3" fill="#000"/>
<path d="M401.70,118.36H409.50M405.60,114.46V122.26" stroke="#000" stroke-width="1.05"/>
<rect x="667.32" y="241.60" width="6.0" height="6.0" fill="none" stroke="#000" stroke-width="1.1"/><path d="M667.32,241.60L673.32,247.60M673.32,241.60L667.32,247.60" stroke="#000" stroke-width="0.8250000000000001"/>
<line x1="390.2" y1="34.20" x2="395.5" y2="34.20" stroke="#6a6a6a" stroke-width="0.9"/>
<text x="380.60" y="34.20" dy="0.35em" transform="rotate(-90 380.60 34.20)" text-anchor="middle" font-size="8.8" textLength="4.89" lengthAdjust="spacingAndGlyphs" fill="#222" stroke="#222" stroke-width="0.2">1</text>
<line x1="390.2" y1="60.50" x2="395.5" y2="60.50" stroke="#6a6a6a" stroke-width="0.9"/>
<text x="380.60" y="60.50" dy="0.35em" transform="rotate(-90 380.60 60.50)" text-anchor="middle" font-size="8.8" textLength="4.89" lengthAdjust="spacingAndGlyphs" fill="#222" stroke="#222" stroke-width="0.2">2</text>
<line x1="390.2" y1="86.80" x2="395.5" y2="86.80" stroke="#6a6a6a" stroke-width="0.9"/>
<text x="380.60" y="86.80" dy="0.35em" transform="rotate(-90 380.60 86.80)" text-anchor="middle" font-size="8.8" textLength="4.89" lengthAdjust="spacingAndGlyphs" fill="#222" stroke="#222" stroke-width="0.2">3</text>
<line x1="390.2" y1="113.10" x2="395.5" y2="113.10" stroke="#6a6a6a" stroke-width="0.9"/>
<text x="380.60" y="113.10" dy="0.35em" transform="rotate(-90 380.60 113.10)" text-anchor="middle" font-size="8.8" textLength="4.89" lengthAdjust="spacingAndGlyphs" fill="#222" stroke="#222" stroke-width="0.2">4</text>
<line x1="390.2" y1="139.40" x2="395.5" y2="139.40" stroke="#6a6a6a" stroke-width="0.9"/>
<text x="380.60" y="139.40" dy="0.35em" transform="rotate(-90 380.60 139.40)" text-anchor="middle" font-size="8.8" textLength="4.89" lengthAdjust="spacingAndGlyphs" fill="#222" stroke="#222" stroke-width="0.2">5</text>
<line x1="390.2" y1="165.70" x2="395.5" y2="165.70" stroke="#6a6a6a" stroke-width="0.9"/>
<text x="380.60" y="165.70" dy="0.35em" transform="rotate(-90 380.60 165.70)" text-anchor="middle" font-size="8.8" textLength="4.89" lengthAdjust="spacingAndGlyphs" fill="#222" stroke="#222" stroke-width="0.2">6</text>
<line x1="390.2" y1="192.00" x2="395.5" y2="192.00" stroke="#6a6a6a" stroke-width="0.9"/>
<text x="380.60" y="192.00" dy="0.35em" transform="rotate(-90 380.60 192.00)" text-anchor="middle" font-size="8.8" textLength="4.89" lengthAdjust="spacingAndGlyphs" fill="#222" stroke="#222" stroke-width="0.2">7</text>
<line x1="390.2" y1="218.30" x2="395.5" y2="218.30" stroke="#6a6a6a" stroke-width="0.9"/>
<text x="380.60" y="218.30" dy="0.35em" transform="rotate(-90 380.60 218.30)" text-anchor="middle" font-size="8.8" textLength="4.89" lengthAdjust="spacingAndGlyphs" fill="#222" stroke="#222" stroke-width="0.2">8</text>
<line x1="390.2" y1="244.60" x2="395.5" y2="244.60" stroke="#6a6a6a" stroke-width="0.9"/>
<text x="380.60" y="244.60" dy="0.35em" transform="rotate(-90 380.60 244.60)" text-anchor="middle" font-size="8.8" textLength="4.89" lengthAdjust="spacingAndGlyphs" fill="#222" stroke="#222" stroke-width="0.2">9</text>
<line x1="390.2" y1="270.90" x2="395.5" y2="270.90" stroke="#6a6a6a" stroke-width="0.9"/>
<text x="380.60" y="270.90" dy="0.35em" transform="rotate(-90 380.60 270.90)" text-anchor="middle" font-size="8.8" textLength="9.79" lengthAdjust="spacingAndGlyphs" fill="#222" stroke="#222" stroke-width="0.2">10</text>
<line x1="405.60" y1="280.0" x2="405.60" y2="285.0" stroke="#6a6a6a" stroke-width="0.9"/>
<text x="405.60" y="295.20" dy="0.35em" text-anchor="middle" font-size="8.8" textLength="4.89" lengthAdjust="spacingAndGlyphs" fill="#222" stroke="#222" stroke-width="0.2">0</text>
<line x1="471.78" y1="280.0" x2="471.78" y2="285.0" stroke="#6a6a6a" stroke-width="0.9"/>
<text x="471.78" y="295.20" dy="0.35em" text-anchor="middle" font-size="8.8" textLength="4.89" lengthAdjust="spacingAndGlyphs" fill="#222" stroke="#222" stroke-width="0.2">1</text>
<line x1="537.96" y1="280.0" x2="537.96" y2="285.0" stroke="#6a6a6a" stroke-width="0.9"/>
<text x="537.96" y="295.20" dy="0.35em" text-anchor="middle" font-size="8.8" textLength="4.89" lengthAdjust="spacingAndGlyphs" fill="#222" stroke="#222" stroke-width="0.2">2</text>
<line x1="604.14" y1="280.0" x2="604.14" y2="285.0" stroke="#6a6a6a" stroke-width="0.9"/>
<text x="604.14" y="295.20" dy="0.35em" text-anchor="middle" font-size="8.8" textLength="4.89" lengthAdjust="spacingAndGlyphs" fill="#222" stroke="#222" stroke-width="0.2">3</text>
<line x1="670.32" y1="280.0" x2="670.32" y2="285.0" stroke="#6a6a6a" stroke-width="0.9"/>
<text x="670.32" y="295.20" dy="0.35em" text-anchor="middle" font-size="8.8" textLength="4.89" lengthAdjust="spacingAndGlyphs" fill="#222" stroke="#222" stroke-width="0.2">4</text>
<text x="501.00" y="314.90" dy="0.35em" font-size="8.3" textLength="73.70" lengthAdjust="spacingAndGlyphs" fill="#111" stroke="#111" stroke-width="0.2">square of skewness</text>
<text x="361.00" y="152.40" dy="0.35em" transform="rotate(-90 361.00 152.40)" text-anchor="middle" font-size="8.6" textLength="27.20" lengthAdjust="spacingAndGlyphs" fill="#111" stroke="#111" stroke-width="0.2">kurtosis</text>
<text x="487.40" y="7.90" font-size="9.0" font-weight="bold" textLength="101.20" lengthAdjust="spacingAndGlyphs" fill="#111" stroke="#111" stroke-width="0.1">Cullen and Frey graph</text>
<circle cx="464.6" cy="35.3" r="2.1" fill="#00008b"/>
<circle cx="464.6" cy="47.1" r="1.4" fill="none" stroke="#ffa500" stroke-width="0.8"/>
<text x="470.60" y="35.30" dy="0.35em" font-size="6.3" textLength="36.90" lengthAdjust="spacingAndGlyphs" fill="#111" stroke="#111" stroke-width="0.2">Observation</text>
<text x="470.60" y="47.10" dy="0.35em" font-size="6.3" textLength="61.50" lengthAdjust="spacingAndGlyphs" fill="#111" stroke="#111" stroke-width="0.2">bootstrapped values</text>
<text x="563.60" y="35.50" dy="0.35em" font-size="6.3" textLength="71.70" lengthAdjust="spacingAndGlyphs" fill="#111" stroke="#111" stroke-width="0.2">Theoretical distributions</text>
<path d="M568.30,47.00L571.70,47.00M568.80,45.80L571.20,48.20M570.00,45.30L570.00,48.70M571.20,45.80L568.80,48.20" stroke="#000" stroke-width="0.7" fill="none"/>
<circle cx="570" cy="47.0" r="1.0" fill="#000"/>
<polygon points="567.80,58.39 572.20,58.39 570.00,55.02" fill="none" stroke="#000" stroke-width="0.8"/>
<rect x="568.50" y="64.70" width="3.0" height="3.0" fill="none" stroke="#000" stroke-width="0.8"/><path d="M568.50,64.70L571.50,67.70M571.50,64.70L568.50,67.70" stroke="#000" stroke-width="0.6000000000000001"/>
<path d="M567.90,75.60H572.10M570.00,73.50V77.70" stroke="#000" stroke-width="0.75"/>
<text x="576.80" y="47.00" dy="0.35em" font-size="6.3" textLength="20.99" lengthAdjust="spacingAndGlyphs" fill="#111" stroke="#111" stroke-width="0.2">normal</text>
<text x="576.80" y="56.70" dy="0.35em" font-size="6.3" textLength="22.90" lengthAdjust="spacingAndGlyphs" fill="#111" stroke="#111" stroke-width="0.2">uniform</text>
<text x="576.80" y="66.20" dy="0.35em" font-size="6.3" textLength="35.13" lengthAdjust="spacingAndGlyphs" fill="#111" stroke="#111" stroke-width="0.2">exponential</text>
<text x="576.80" y="75.60" dy="0.35em" font-size="6.3" textLength="20.99" lengthAdjust="spacingAndGlyphs" fill="#111" stroke="#111" stroke-width="0.2">logistic</text>
<rect x="570" y="82.70" width="6.00" height="4.6" fill="#d3d3d3" stroke="#444" stroke-width="0.6"/>
<text x="581.50" y="85.00" dy="0.35em" font-size="6.3" textLength="13.37" lengthAdjust="spacingAndGlyphs" fill="#111" stroke="#111" stroke-width="0.2">beta</text>
<line x1="570" y1="94.4" x2="581.5" y2="94.4" stroke="#000" stroke-width="0.6" stroke-dasharray="0.8,0.6" opacity="0.7"/>
<line x1="570" y1="104.1" x2="581.5" y2="104.1" stroke="#000" stroke-width="0.7" stroke-dasharray="2.4,1.4"/>
<text x="588.30" y="94.40" dy="0.35em" font-size="6.3" textLength="30.15" lengthAdjust="spacingAndGlyphs" fill="#111" stroke="#111" stroke-width="0.2">lognormal</text>
<text x="588.30" y="104.10" dy="0.35em" font-size="6.3" textLength="22.90" lengthAdjust="spacingAndGlyphs" fill="#111" stroke="#111" stroke-width="0.2">gamma</text>
<text x="568.20" y="114.20" dy="0.35em" font-size="4.6" textLength="90.90" lengthAdjust="spacingAndGlyphs" fill="#111" stroke="#111" stroke-width="0.05">(Weibull is close to gamma and lognormal)</text>
<text x="410.60" y="248.80" font-size="23" fill="#000">B</text>
<rect x="34.6" y="366.8" width="298.79999999999995" height="189.99999999999994" fill="none" stroke="#c8c8c8" stroke-width="1.3"/>
<line x1="32.0" y1="546.50" x2="34.6" y2="546.50" stroke="#b0b0b0" stroke-width="0.8"/>
<text x="30.40" y="546.50" dy="0.21em" text-anchor="end" font-size="8.8" textLength="4.47" lengthAdjust="spacingAndGlyphs" fill="#303030" stroke="#303030" stroke-width="0.2">0</text>
<line x1="32.0" y1="512.60" x2="34.6" y2="512.60" stroke="#b0b0b0" stroke-width="0.8"/>
<text x="30.40" y="512.60" dy="0.21em" text-anchor="end" font-size="8.8" textLength="8.94" lengthAdjust="spacingAndGlyphs" fill="#303030" stroke="#303030" stroke-width="0.2">20</text>
<line x1="32.0" y1="478.70" x2="34.6" y2="478.70" stroke="#b0b0b0" stroke-width="0.8"/>
<text x="30.40" y="478.70" dy="0.21em" text-anchor="end" font-size="8.8" textLength="8.94" lengthAdjust="spacingAndGlyphs" fill="#303030" stroke="#303030" stroke-width="0.2">40</text>
<line x1="32.0" y1="444.80" x2="34.6" y2="444.80" stroke="#b0b0b0" stroke-width="0.8"/>
<text x="30.40" y="444.80" dy="0.21em" text-anchor="end" font-size="8.8" textLength="8.94" lengthAdjust="spacingAndGlyphs" fill="#303030" stroke="#303030" stroke-width="0.2">60</text>
<line x1="32.0" y1="410.90" x2="34.6" y2="410.90" stroke="#b0b0b0" stroke-width="0.8"/>
<text x="30.40" y="410.90" dy="0.21em" text-anchor="end" font-size="8.8" textLength="8.94" lengthAdjust="spacingAndGlyphs" fill="#303030" stroke="#303030" stroke-width="0.2">80</text>
<line x1="32.0" y1="377.00" x2="34.6" y2="377.00" stroke="#b0b0b0" stroke-width="0.8"/>
<text x="30.40" y="377.00" dy="0.21em" text-anchor="end" font-size="8.8" textLength="13.41" lengthAdjust="spacingAndGlyphs" fill="#303030" stroke="#303030" stroke-width="0.2">100</text>
<line x1="58.30" y1="556.8" x2="58.30" y2="559.4" stroke="#b0b0b0" stroke-width="0.8"/>
<text x="58.30" y="563.30" dy="0.36em" text-anchor="middle" font-size="8.8" textLength="4.47" lengthAdjust="spacingAndGlyphs" fill="#303030" stroke="#303030" stroke-width="0.2">0</text>
<line x1="88.30" y1="556.8" x2="88.30" y2="559.4" stroke="#b0b0b0" stroke-width="0.8"/>
<text x="88.30" y="563.30" dy="0.36em" text-anchor="middle" font-size="8.8" textLength="8.94" lengthAdjust="spacingAndGlyphs" fill="#303030" stroke="#303030" stroke-width="0.2">10</text>
<line x1="118.30" y1="556.8" x2="118.30" y2="559.4" stroke="#b0b0b0" stroke-width="0.8"/>
<text x="118.30" y="563.30" dy="0.36em" text-anchor="middle" font-size="8.8" textLength="8.94" lengthAdjust="spacingAndGlyphs" fill="#303030" stroke="#303030" stroke-width="0.2">20</text>
<line x1="148.30" y1="556.8" x2="148.30" y2="559.4" stroke="#b0b0b0" stroke-width="0.8"/>
<text x="148.30" y="563.30" dy="0.36em" text-anchor="middle" font-size="8.8" textLength="8.94" lengthAdjust="spacingAndGlyphs" fill="#303030" stroke="#303030" stroke-width="0.2">30</text>
<line x1="178.30" y1="556.8" x2="178.30" y2="559.4" stroke="#b0b0b0" stroke-width="0.8"/>
<text x="178.30" y="563.30" dy="0.36em" text-anchor="middle" font-size="8.8" textLength="8.94" lengthAdjust="spacingAndGlyphs" fill="#303030" stroke="#303030" stroke-width="0.2">40</text>
<line x1="208.30" y1="556.8" x2="208.30" y2="559.4" stroke="#b0b0b0" stroke-width="0.8"/>
<text x="208.30" y="563.30" dy="0.36em" text-anchor="middle" font-size="8.8" textLength="8.94" lengthAdjust="spacingAndGlyphs" fill="#303030" stroke="#303030" stroke-width="0.2">50</text>
<line x1="238.30" y1="556.8" x2="238.30" y2="559.4" stroke="#b0b0b0" stroke-width="0.8"/>
<text x="238.30" y="563.30" dy="0.36em" text-anchor="middle" font-size="8.8" textLength="8.94" lengthAdjust="spacingAndGlyphs" fill="#303030" stroke="#303030" stroke-width="0.2">60</text>
<line x1="268.30" y1="556.8" x2="268.30" y2="559.4" stroke="#b0b0b0" stroke-width="0.8"/>
<text x="268.30" y="563.30" dy="0.36em" text-anchor="middle" font-size="8.8" textLength="8.94" lengthAdjust="spacingAndGlyphs" fill="#303030" stroke="#303030" stroke-width="0.2">70</text>
<line x1="298.30" y1="556.8" x2="298.30" y2="559.4" stroke="#b0b0b0" stroke-width="0.8"/>
<text x="298.30" y="563.30" dy="0.36em" text-anchor="middle" font-size="8.8" textLength="8.94" lengthAdjust="spacingAndGlyphs" fill="#303030" stroke="#303030" stroke-width="0.2">80</text>
<line x1="328.30" y1="556.8" x2="328.30" y2="559.4" stroke="#b0b0b0" stroke-width="0.8"/>
<text x="328.30" y="563.30" dy="0.36em" text-anchor="middle" font-size="8.8" textLength="8.94" lengthAdjust="spacingAndGlyphs" fill="#303030" stroke="#303030" stroke-width="0.2">90</text>
<polyline points="50.20,546.50 50.71,546.50 51.22,546.50 51.73,546.50 52.23,546.50 52.74,546.50 53.25,546.50 53.76,546.50 54.27,546.50 54.78,546.50 55.29,546.50 55.79,546.50 56.30,546.50 56.81,546.50 57.32,546.50 57.83,546.50 58.34,546.50 58.85,546.50 59.36,546.50 59.86,546.50 60.37,546.50 60.88,546.50 61.39,546.50 61.90,546.50 62.41,546.50 62.92,546.15 63.42,545.97 63.93,545.84 64.44,545.61 64.95,545.61 65.46,545.61 65.97,545.56 66.48,545.51 66.98,545.15 67.49,544.81 68.00,544.81 68.51,544.81 69.02,544.81 69.53,544.81 70.04,544.81 70.54,544.72 71.05,544.45 71.56,544.17 72.07,544.06 72.58,544.06 73.09,543.50 73.60,542.95 74.11,542.74 74.61,542.34 75.12,542.34 75.63,542.34 76.14,542.34 76.65,542.34 77.16,542.26 77.67,542.06 78.17,541.96 78.68,541.96 79.19,541.96 79.70,541.63 80.21,541.63 80.72,541.12 81.23,541.12 81.73,541.04 82.24,540.94 82.75,540.94 83.26,540.40 83.77,540.12 84.28,539.95 84.79,539.66 85.29,539.53 85.80,539.53 86.31,538.74 86.82,538.73 87.33,538.56 87.84,538.48 88.35,538.35 88.85,537.93 89.36,537.91 89.87,537.88 90.38,537.64 90.89,537.29 91.40,536.86 91.91,536.07 92.42,536.07 92.92,536.07 93.43,536.07 93.94,536.07 94.45,536.01 94.96,535.79 95.47,535.36 95.98,534.86 96.48,534.70 96.99,533.86 97.50,533.59 98.01,533.48 98.52,533.11 99.03,532.56 99.54,531.71 100.04,530.87 100.55,530.51 101.06,530.27 101.57,530.05 102.08,529.48 102.59,529.14 103.10,528.72 103.60,528.25 104.11,527.85 104.62,527.18 105.13,526.20 105.64,525.40 106.15,524.83 106.66,524.83 107.17,524.83 107.67,524.83 108.18,524.83 108.69,524.83 109.20,524.14 109.71,523.41 110.22,523.41 110.73,522.77 111.23,522.77 111.74,522.63 112.25,521.82 112.76,520.78 113.27,520.25 113.78,519.70 114.29,519.39 114.79,519.04 115.30,518.42 115.81,517.88 116.32,517.72 116.83,517.71 117.34,517.61 117.85,517.15 118.35,516.35 118.86,515.93 119.37,515.41 119.88,515.18 120.39,515.01 120.90,514.69 121.41,514.03 121.92,513.15 122.42,512.58 122.93,512.03 123.44,511.90 123.95,511.90 124.46,511.59 124.97,510.83 125.48,510.11 125.98,509.29 126.49,508.90 127.00,508.57 127.51,508.42 128.02,508.10 128.53,507.61 129.04,507.31 129.54,506.59 130.05,506.18 130.56,505.91 131.07,505.19 131.58,504.80 132.09,504.28 132.60,503.66 133.10,503.32 133.61,502.49 134.12,502.49 134.63,502.10 135.14,501.94 135.65,501.86 136.16,500.83 136.66,500.38 137.17,499.64 137.68,499.21 138.19,498.60 138.70,498.43 139.21,498.22 139.72,497.61 140.23,497.60 140.73,496.61 141.24,495.89 141.75,495.11 142.26,494.52 142.77,494.52 143.28,494.26 143.79,494.07 144.29,493.69 144.80,493.03 145.31,492.56 145.82,491.87 146.33,491.37 146.84,490.71 147.35,490.29 147.85,490.28 148.36,489.73 148.87,489.64 149.38,488.91 149.89,487.92 150.40,487.16 150.91,486.20 151.41,485.31 151.92,484.89 152.43,484.30 152.94,483.91 153.45,483.91 153.96,483.31 154.47,483.14 154.98,482.34 155.48,481.41 155.99,480.73 156.50,479.78 157.01,479.49 157.52,478.80 158.03,478.57 158.54,478.05 159.04,477.32 159.55,476.87 160.06,476.24 160.57,475.83 161.08,475.32 161.59,475.19 162.10,474.63 162.60,474.15 163.11,473.31 163.62,472.03 164.13,471.85 164.64,471.00 165.15,470.70 165.66,470.62 166.16,469.53 166.67,469.09 167.18,468.87 167.69,468.14 168.20,467.71 168.71,467.02 169.22,466.34 169.73,465.58 170.23,464.82 170.74,464.52 171.25,463.82 171.76,463.40 172.27,463.10 172.78,461.77 173.29,460.85 173.79,460.32 174.30,459.63 174.81,459.28 175.32,458.11 175.83,457.20 176.34,456.28 176.85,455.43 177.35,455.19 177.86,453.94 178.37,453.35 178.88,452.58 179.39,451.81 179.90,451.43 180.41,450.84 180.91,449.90 181.42,449.24 181.93,448.64 182.44,447.87 182.95,447.68 183.46,446.82 183.97,445.90 184.47,444.93 184.98,444.12 185.49,443.70 186.00,443.50 186.51,443.09 187.02,442.83 187.53,442.62 188.04,442.08 188.54,441.60 189.05,441.29 189.56,440.96 190.07,440.59 190.58,440.07 191.09,439.77 191.60,439.32 192.10,439.12 192.61,438.88 193.12,438.84 193.63,438.36 194.14,437.70 194.65,437.70 195.16,436.68 195.66,436.27 196.17,436.27 196.68,435.69 197.19,435.69 197.70,435.69 198.21,434.68 198.72,434.17 199.22,432.72 199.73,431.88 200.24,431.33 200.75,430.41 201.26,430.41 201.77,429.93 202.28,429.39 202.79,428.93 203.29,428.03 203.80,427.12 204.31,426.60 204.82,426.01 205.33,425.18 205.84,424.38 206.35,423.69 206.85,422.58 207.36,421.56 207.87,421.19 208.38,420.79 208.89,420.72 209.40,420.52 209.91,419.81 210.41,418.98 210.92,418.07 211.43,417.64 211.94,417.25 212.45,416.89 212.96,416.57 213.47,416.24 213.97,416.14 214.48,415.66 214.99,415.38 215.50,414.86 216.01,413.94 216.52,413.43 217.03,412.14 217.54,411.31 218.04,411.16 218.55,410.55 219.06,410.55 219.57,410.55 220.08,409.83 220.59,409.75 221.10,409.75 221.60,409.36 222.11,409.33 222.62,408.46 223.13,407.57 223.64,407.57 224.15,406.77 224.66,406.77 225.16,406.38 225.67,405.36 226.18,405.20 226.69,404.54 227.20,404.11 227.71,403.79 228.22,403.55 228.72,402.96 229.23,402.43 229.74,401.68 230.25,401.16 230.76,401.06 231.27,400.61 231.78,400.61 232.28,400.23 232.79,399.60 233.30,399.11 233.81,398.77 234.32,398.45 234.83,398.45 235.34,398.45 235.85,397.83 236.35,397.58 236.86,396.81 237.37,396.51 237.88,396.35 238.39,395.82 238.90,395.66 239.41,395.00 239.91,394.81 240.42,394.43 240.93,394.07 241.44,393.59 241.95,393.32 242.46,393.26 242.97,393.00 243.47,393.00 243.98,392.87 244.49,392.67 245.00,392.12 245.51,391.72 246.02,391.40 246.53,390.96 247.03,390.96 247.54,390.96 248.05,390.96 248.56,390.96 249.07,390.91 249.58,390.20 250.09,390.17 250.60,390.17 251.10,390.17 251.61,389.77 252.12,389.40 252.63,389.19 253.14,389.04 253.65,389.04 254.16,388.63 254.66,388.20 255.17,387.85 255.68,387.30 256.19,387.09 256.70,386.77 257.21,386.24 257.72,386.09 258.22,386.07 258.73,385.91 259.24,385.91 259.75,385.78 260.26,385.64 260.77,385.17 261.28,385.17 261.78,385.17 262.29,384.85 262.80,384.85 263.31,384.43 263.82,384.23 264.33,384.13 264.84,383.99 265.35,383.93 265.85,383.69 266.36,383.37 266.87,383.06 267.38,382.84 267.89,382.84 268.40,382.71 268.91,382.71 269.41,382.71 269.92,382.63 270.43,382.63 270.94,382.56 271.45,382.06 271.96,381.78 272.47,381.57 272.97,381.07 273.48,381.07 273.99,381.06 274.50,380.97 275.01,380.97 275.52,380.50 276.03,380.50 276.53,380.14 277.04,379.77 277.55,379.62 278.06,379.35 278.57,379.00 279.08,378.49 279.59,378.49 280.09,378.46 280.60,378.39 281.11,378.32 281.62,377.92 282.13,377.50 282.64,377.36 283.15,377.36 283.66,377.36 284.16,377.36 284.67,377.36 285.18,377.36 285.69,377.36 286.20,377.36 286.71,377.36 287.22,377.36 287.72,377.00 288.23,377.00 288.74,377.00 289.25,377.00 289.76,377.00 290.27,377.00 290.78,377.00 291.28,377.00 291.79,377.00 292.30,377.00 292.81,377.00 293.32,377.00 293.83,377.00 294.34,377.00 294.84,377.00 295.35,377.00 295.86,377.00 296.37,377.00 296.88,377.00 297.39,377.00 297.90,377.00 298.41,377.00 298.91,377.00 299.42,377.00 299.93,377.00 300.44,377.00 300.95,377.00 301.46,377.00 301.97,377.00 302.47,377.00 302.98,377.00 303.49,377.00 304.00,377.00" fill="none" stroke="#5b8fcf" stroke-width="1.2"/>
<polyline points="50.20,545.13 51.52,545.03 52.84,544.93 54.16,544.81 55.48,544.69 56.80,544.57 58.12,544.43 59.44,544.29 60.76,544.14 62.09,543.98 63.41,543.81 64.73,543.63 66.05,543.44 67.37,543.24 68.69,543.02 70.01,542.80 71.33,542.57 72.65,542.32 73.97,542.06 75.29,541.79 76.61,541.50 77.93,541.20 79.25,540.88 80.57,540.55 81.89,540.20 83.22,539.83 84.54,539.45 85.86,539.05 87.18,538.64 88.50,538.20 89.82,537.75 91.14,537.27 92.46,536.78 93.78,536.26 95.10,535.72 96.42,535.17 97.74,534.59 99.06,533.98 100.38,533.36 101.70,532.71 103.02,532.04 104.34,531.34 105.67,530.62 106.99,529.87 108.31,529.10 109.63,528.30 110.95,527.48 112.27,526.63 113.59,525.75 114.91,524.85 116.23,523.91 117.55,522.96 118.87,521.97 120.19,520.96 121.51,519.92 122.83,518.85 124.15,517.76 125.47,516.63 126.79,515.48 128.12,514.31 129.44,513.10 130.76,511.87 132.08,510.61 133.40,509.33 134.72,508.02 136.04,506.68 137.36,505.32 138.68,503.94 140.00,502.53 141.32,501.09 142.64,499.63 143.96,498.15 145.28,496.65 146.60,495.13 147.92,493.59 149.25,492.02 150.57,490.44 151.89,488.84 153.21,487.23 154.53,485.59 155.85,483.94 157.17,482.28 158.49,480.61 159.81,478.92 161.13,477.22 162.45,475.51 163.77,473.79 165.09,472.06 166.41,470.33 167.73,468.59 169.05,466.84 170.37,465.10 171.70,463.35 173.02,461.60 174.34,459.85 175.66,458.10 176.98,456.35 178.30,454.61 179.62,452.87 180.94,451.13 182.26,449.41 183.58,447.69 184.90,445.98 186.22,444.29 187.54,442.60 188.86,440.92 190.18,439.26 191.50,437.62 192.83,435.99 194.15,434.37 195.47,432.78 196.79,431.20 198.11,429.64 199.43,428.10 200.75,426.58 202.07,425.08 203.39,423.61 204.71,422.15 206.03,420.73 207.35,419.32 208.67,417.94 209.99,416.58 211.31,415.25 212.63,413.94 213.95,412.66 215.28,411.41 216.60,410.19 217.92,408.99 219.24,407.81 220.56,406.67 221.88,405.55 223.20,404.46 224.52,403.40 225.84,402.36 227.16,401.35 228.48,400.37 229.80,399.42 231.12,398.49 232.44,397.59 233.76,396.72 235.08,395.88 236.41,395.06 237.73,394.26 239.05,393.50 240.37,392.75 241.69,392.04 243.01,391.34 244.33,390.67 245.65,390.03 246.97,389.41 248.29,388.81 249.61,388.23 250.93,387.68 252.25,387.15 253.57,386.64 254.89,386.14 256.21,385.67 257.53,385.22 258.86,384.79 260.18,384.38 261.50,383.98 262.82,383.60 264.14,383.24 265.46,382.89 266.78,382.56 268.10,382.25 269.42,381.95 270.74,381.67 272.06,381.39 273.38,381.14 274.70,380.89 276.02,380.66 277.34,380.44 278.66,380.23 279.98,380.03 281.31,379.84 282.63,379.66 283.95,379.50 285.27,379.34 286.59,379.19 287.91,379.04 289.23,378.91 290.55,378.79 291.87,378.67 293.19,378.55 294.51,378.45 295.83,378.35 297.15,378.26 298.47,378.17 299.79,378.09 301.11,378.01 302.44,377.94 303.76,377.87 305.08,377.81 306.40,377.75 307.72,377.70 309.04,377.64 310.36,377.60 311.68,377.55 313.00,377.51" fill="none" stroke="#9e2529" stroke-width="1.5"/>
<text x="94.50" y="346.10" font-size="12.2" font-weight="bold" textLength="196.50" lengthAdjust="spacingAndGlyphs" fill="#111" stroke="#111" stroke-width="0.25">Empirical CDF of Age at onset of ICP</text>
<text x="176.30" y="357.60" font-size="8.8" textLength="29.60" lengthAdjust="spacingAndGlyphs" fill="#111" stroke="#111" stroke-width="0.1">Normal</text>
<text x="133.30" y="585.30" dy="0.35em" font-size="8.6" font-weight="bold" textLength="75.30" lengthAdjust="spacingAndGlyphs" fill="#111" stroke="#111" stroke-width="0.2">Age at onset of ICP</text>
<text x="6.60" y="461.20" dy="0.35em" transform="rotate(-90 6.60 461.20)" text-anchor="middle" font-size="8.6" font-weight="bold" textLength="32.30" lengthAdjust="spacingAndGlyphs" fill="#111" stroke="#111" stroke-width="0.2">Percent</text>
<text x="75.70" y="419.70" font-size="23.5" fill="#000">C</text>
<rect x="383.5" y="372.2" width="297.79999999999995" height="189.00000000000006" fill="none" stroke="#c8c8c8" stroke-width="1.3"/>
<line x1="380.9" y1="551.60" x2="383.5" y2="551.60" stroke="#b0b0b0" stroke-width="0.8"/>
<text x="379.20" y="551.60" dy="0.21em" text-anchor="end" font-size="8.8" textLength="4.47" lengthAdjust="spacingAndGlyphs" fill="#303030" stroke="#303030" stroke-width="0.2">0</text>
<line x1="380.9" y1="517.68" x2="383.5" y2="517.68" stroke="#b0b0b0" stroke-width="0.8"/>
<text x="379.20" y="517.68" dy="0.21em" text-anchor="end" font-size="8.8" textLength="8.94" lengthAdjust="spacingAndGlyphs" fill="#303030" stroke="#303030" stroke-width="0.2">20</text>
<line x1="380.9" y1="483.76" x2="383.5" y2="483.76" stroke="#b0b0b0" stroke-width="0.8"/>
<text x="379.20" y="483.76" dy="0.21em" text-anchor="end" font-size="8.8" textLength="8.94" lengthAdjust="spacingAndGlyphs" fill="#303030" stroke="#303030" stroke-width="0.2">40</text>
<line x1="380.9" y1="449.84" x2="383.5" y2="449.84" stroke="#b0b0b0" stroke-width="0.8"/>
<text x="379.20" y="449.84" dy="0.21em" text-anchor="end" font-size="8.8" textLength="8.94" lengthAdjust="spacingAndGlyphs" fill="#303030" stroke="#303030" stroke-width="0.2">60</text>
<line x1="380.9" y1="415.92" x2="383.5" y2="415.92" stroke="#b0b0b0" stroke-width="0.8"/>
<text x="379.20" y="415.92" dy="0.21em" text-anchor="end" font-size="8.8" textLength="8.94" lengthAdjust="spacingAndGlyphs" fill="#303030" stroke="#303030" stroke-width="0.2">80</text>
<line x1="380.9" y1="382.00" x2="383.5" y2="382.00" stroke="#b0b0b0" stroke-width="0.8"/>
<text x="379.20" y="382.00" dy="0.21em" text-anchor="end" font-size="8.8" textLength="13.41" lengthAdjust="spacingAndGlyphs" fill="#303030" stroke="#303030" stroke-width="0.2">100</text>
<line x1="424.40" y1="561.2" x2="424.40" y2="563.8000000000001" stroke="#b0b0b0" stroke-width="0.8"/>
<text x="424.40" y="568.30" dy="0.36em" text-anchor="middle" font-size="8.8" textLength="4.47" lengthAdjust="spacingAndGlyphs" fill="#303030" stroke="#303030" stroke-width="0.2">0</text>
<line x1="474.70" y1="561.2" x2="474.70" y2="563.8000000000001" stroke="#b0b0b0" stroke-width="0.8"/>
<text x="474.70" y="568.30" dy="0.36em" text-anchor="middle" font-size="8.8" textLength="8.94" lengthAdjust="spacingAndGlyphs" fill="#303030" stroke="#303030" stroke-width="0.2">20</text>
<line x1="525.00" y1="561.2" x2="525.00" y2="563.8000000000001" stroke="#b0b0b0" stroke-width="0.8"/>
<text x="525.00" y="568.30" dy="0.36em" text-anchor="middle" font-size="8.8" textLength="8.94" lengthAdjust="spacingAndGlyphs" fill="#303030" stroke="#303030" stroke-width="0.2">40</text>
<line x1="575.30" y1="561.2" x2="575.30" y2="563.8000000000001" stroke="#b0b0b0" stroke-width="0.8"/>
<text x="575.30" y="568.30" dy="0.36em" text-anchor="middle" font-size="8.8" textLength="8.94" lengthAdjust="spacingAndGlyphs" fill="#303030" stroke="#303030" stroke-width="0.2">60</text>
<line x1="625.60" y1="561.2" x2="625.60" y2="563.8000000000001" stroke="#b0b0b0" stroke-width="0.8"/>
<text x="625.60" y="568.30" dy="0.36em" text-anchor="middle" font-size="8.8" textLength="8.94" lengthAdjust="spacingAndGlyphs" fill="#303030" stroke="#303030" stroke-width="0.2">80</text>
<line x1="675.90" y1="561.2" x2="675.90" y2="563.8000000000001" stroke="#b0b0b0" stroke-width="0.8"/>
<text x="675.90" y="568.30" dy="0.36em" text-anchor="middle" font-size="8.8" textLength="13.41" lengthAdjust="spacingAndGlyphs" fill="#303030" stroke="#303030" stroke-width="0.2">100</text>
<polyline points="398.50,551.60 430.69,551.60 430.69,541.25 443.77,541.25 443.77,533.96 456.59,533.96 456.59,523.45 468.92,523.45 468.92,513.27 481.49,513.27 481.49,498.35 493.56,498.35 493.56,492.58 506.89,492.58 506.89,487.32 519.22,487.32 519.22,479.35 531.79,479.35 531.79,466.46 544.49,466.46 544.49,448.31 556.69,448.31 556.69,438.48 569.52,438.48 569.52,417.96 581.59,417.96 581.59,402.69 594.41,402.69 594.41,392.35 607.24,392.35 607.24,389.63 614.28,389.63 614.28,386.92 632.39,386.92 632.39,382.00 655.78,382.00" fill="none" stroke="#5b8fcf" stroke-width="1.1"/>
<polyline points="398.50,550.02 399.79,549.91 401.08,549.80 402.37,549.69 403.67,549.57 404.96,549.44 406.25,549.30 407.55,549.16 408.84,549.01 410.13,548.85 411.42,548.69 412.72,548.51 414.01,548.33 415.30,548.14 416.60,547.94 417.89,547.72 419.18,547.50 420.47,547.27 421.77,547.03 423.06,546.77 424.35,546.51 425.65,546.23 426.94,545.94 428.23,545.63 429.52,545.31 430.82,544.98 432.11,544.64 433.40,544.28 434.70,543.91 435.99,543.52 437.28,543.11 438.57,542.69 439.87,542.25 441.16,541.80 442.45,541.33 443.75,540.84 445.04,540.33 446.33,539.81 447.63,539.26 448.92,538.70 450.21,538.12 451.50,537.52 452.80,536.90 454.09,536.26 455.38,535.59 456.68,534.91 457.97,534.21 459.26,533.48 460.55,532.73 461.85,531.96 463.14,531.17 464.43,530.36 465.73,529.52 467.02,528.67 468.31,527.79 469.60,526.88 470.90,525.96 472.19,525.01 473.48,524.04 474.78,523.04 476.07,522.02 477.36,520.98 478.65,519.92 479.95,518.84 481.24,517.73 482.53,516.60 483.83,515.45 485.12,514.27 486.41,513.08 487.70,511.86 489.00,510.62 490.29,509.37 491.58,508.09 492.88,506.79 494.17,505.47 495.46,504.13 496.75,502.78 498.05,501.41 499.34,500.02 500.63,498.61 501.93,497.18 503.22,495.75 504.51,494.29 505.81,492.82 507.10,491.34 508.39,489.84 509.68,488.33 510.98,486.82 512.27,485.28 513.56,483.74 514.86,482.19 516.15,480.64 517.44,479.07 518.73,477.50 520.03,475.92 521.32,474.34 522.61,472.75 523.91,471.16 525.20,469.56 526.49,467.97 527.78,466.37 529.08,464.78 530.37,463.19 531.66,461.59 532.96,460.00 534.25,458.42 535.54,456.84 536.83,455.26 538.13,453.69 539.42,452.13 540.71,450.58 542.01,449.03 543.30,447.50 544.59,445.97 545.88,444.46 547.18,442.96 548.47,441.47 549.76,439.99 551.06,438.53 552.35,437.09 553.64,435.65 554.93,434.24 556.23,432.84 557.52,431.46 558.81,430.10 560.11,428.75 561.40,427.42 562.69,426.12 563.99,424.83 565.28,423.56 566.57,422.31 567.86,421.09 569.16,419.88 570.45,418.70 571.74,417.54 573.04,416.40 574.33,415.28 575.62,414.18 576.91,413.11 578.21,412.06 579.50,411.03 580.79,410.03 582.09,409.04 583.38,408.08 584.67,407.15 585.96,406.23 587.26,405.34 588.55,404.47 589.84,403.63 591.14,402.80 592.43,402.00 593.72,401.22 595.01,400.47 596.31,399.73 597.60,399.02 598.89,398.32 600.19,397.65 601.48,397.00 602.77,396.37 604.06,395.76 605.36,395.17 606.65,394.60 607.94,394.04 609.24,393.51 610.53,392.99 611.82,392.50 613.11,392.02 614.41,391.56 615.70,391.11 616.99,390.68 618.29,390.27 619.58,389.87 620.87,389.49 622.16,389.13 623.46,388.78 624.75,388.44 626.04,388.11 627.34,387.80 628.63,387.51 629.92,387.22 631.22,386.95 632.51,386.69 633.80,386.44 635.09,386.20 636.39,385.98 637.68,385.76 638.97,385.56 640.27,385.36 641.56,385.17 642.85,384.99 644.14,384.82 645.44,384.66 646.73,384.51 648.02,384.36 649.32,384.22 650.61,384.09 651.90,383.97 653.19,383.85 654.49,383.74 655.78,383.63" fill="none" stroke="#9e2529" stroke-width="1.5"/>
<text x="443.50" y="348.00" font-size="12.2" font-weight="bold" textLength="196.80" lengthAdjust="spacingAndGlyphs" fill="#111" stroke="#111" stroke-width="0.25">Empirical CDF of Age at onset of ICP</text>
<text x="525.00" y="359.50" font-size="8.8" textLength="29.60" lengthAdjust="spacingAndGlyphs" fill="#111" stroke="#111" stroke-width="0.1">Normal</text>
<text x="487.00" y="583.70" dy="0.35em" font-size="8.9" font-weight="bold" textLength="80.70" lengthAdjust="spacingAndGlyphs" fill="#111" stroke="#111" stroke-width="0.2">Age at onset of ICP</text>
<text x="351.80" y="455.90" dy="0.35em" transform="rotate(-90 351.80 455.90)" text-anchor="middle" font-size="8.6" font-weight="bold" textLength="32.60" lengthAdjust="spacingAndGlyphs" fill="#111" stroke="#111" stroke-width="0.2">Percent</text>
<text x="416.10" y="420.20" font-size="23.5" fill="#000">D</text>
</svg></body></html>
